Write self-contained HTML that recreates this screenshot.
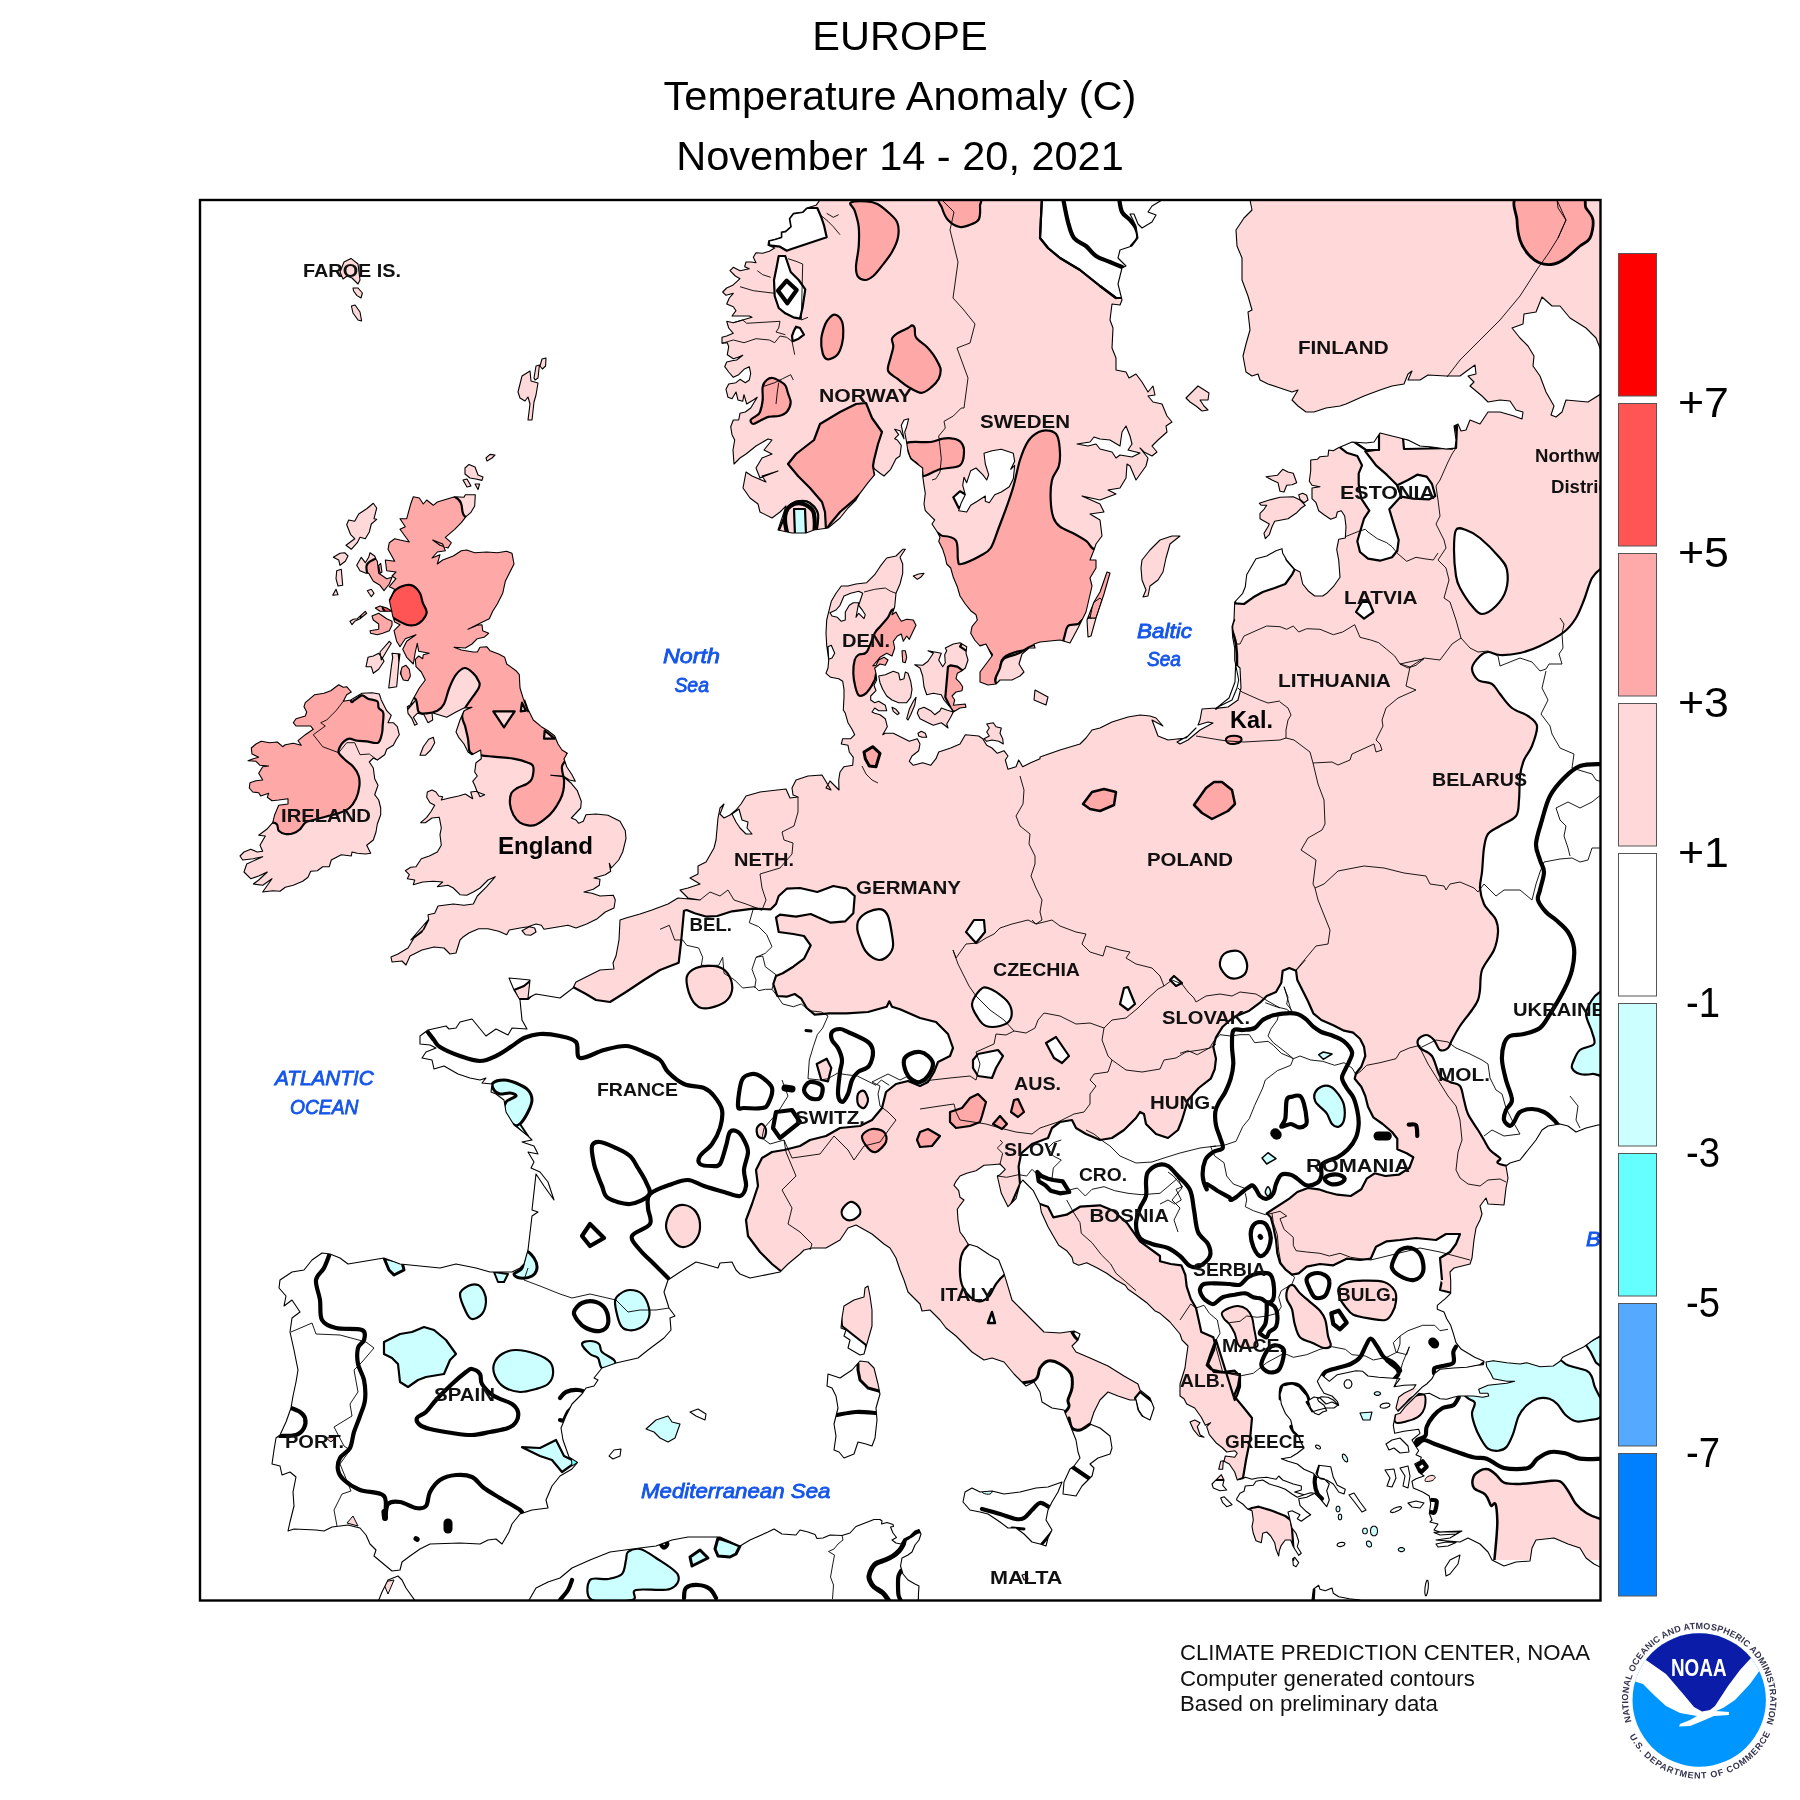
<!DOCTYPE html><html><head><meta charset="utf-8"><title>Europe Temperature Anomaly</title>
<style>html,body{margin:0;padding:0;background:#fff}svg{display:block}html{-webkit-font-smoothing:antialiased}text{font-family:"Liberation Sans",sans-serif}</style></head><body>
<svg width="1800" height="1800" viewBox="0 0 1800 1800" style="will-change:transform;transform:translateZ(0)">
<rect width="1800" height="1800" fill="#fff"/>
<defs>
<clipPath id="frame"><rect x="200" y="200" width="1400" height="1400"/></clipPath>
<clipPath id="land"><path clip-rule="nonzero" d="M413.3 496.7 L419.3 498.0 L423.3 504.0 L426.7 500.0 L433.3 505.3 L437.3 502.0 L454.7 496.7 L464.0 497.3 L465.3 494.7 L475.3 494.7 L474.7 506.0 L470.7 512.7 L466.0 516.7 L461.3 522.7 L454.7 529.3 L445.3 537.3 L451.3 542.7 L448.0 548.0 L440.0 545.3 L432.7 540.0 L442.7 544.0 L445.3 550.7 L437.3 552.0 L432.0 558.0 L440.0 554.7 L437.3 564.0 L442.7 560.0 L453.3 556.0 L461.3 550.7 L466.7 550.0 L474.7 552.7 L486.7 552.0 L497.3 552.7 L506.7 551.3 L512.0 553.3 L514.0 564.0 L509.3 573.3 L505.3 581.3 L502.7 593.3 L497.3 604.0 L492.7 611.3 L489.3 618.7 L480.0 623.3 L468.0 629.3 L477.3 625.3 L482.0 624.7 L482.7 630.7 L488.7 633.3 L484.0 637.3 L477.3 638.7 L472.0 644.0 L465.3 648.0 L454.0 647.3 L461.3 650.0 L473.3 652.0 L477.3 652.0 L480.0 647.3 L486.7 646.7 L490.0 650.7 L498.7 654.0 L504.7 657.3 L506.7 664.0 L516.0 670.7 L519.3 674.7 L520.0 688.0 L523.3 698.7 L528.0 712.0 L524.7 700.0 L528.0 709.3 L533.3 720.0 L541.3 726.7 L548.0 730.7 L554.7 736.0 L558.0 744.0 L562.0 750.0 L567.3 753.3 L564.0 758.7 L566.7 766.7 L572.0 774.7 L575.3 781.3 L569.3 780.0 L563.3 776.0 L550.7 775.3 L563.3 776.7 L570.7 782.7 L577.3 790.7 L581.3 801.3 L580.7 808.0 L571.3 818.0 L576.0 820.0 L578.7 823.3 L583.3 821.3 L586.0 814.7 L596.0 814.0 L608.0 815.3 L620.0 821.3 L625.3 830.7 L626.0 838.7 L622.7 852.0 L618.7 860.0 L611.3 868.0 L609.3 863.3 L610.7 871.3 L605.3 874.7 L594.0 878.0 L600.0 879.3 L599.3 885.3 L593.3 889.3 L584.0 892.0 L592.0 893.3 L600.0 896.0 L613.3 895.3 L615.3 900.0 L614.0 908.0 L605.3 912.0 L597.3 918.7 L586.7 924.0 L576.0 928.0 L568.0 925.3 L544.0 929.3 L541.3 925.3 L536.0 924.0 L528.0 926.7 L520.0 928.0 L509.3 930.0 L506.7 934.7 L498.7 931.3 L488.0 928.7 L478.7 928.7 L469.3 932.7 L462.7 937.3 L460.0 940.0 L460.0 940.0 L456.0 953.0 L450.0 954.0 L444.0 948.0 L434.0 947.0 L422.0 950.0 L410.0 956.0 L406.0 965.0 L402.0 961.0 L392.0 962.0 L391.0 957.0 L398.0 954.0 L408.0 948.0 L414.0 938.0 L422.0 932.0 L428.0 920.0 L410.7 940.0 L417.3 934.7 L424.0 929.3 L428.7 920.0 L428.0 914.7 L434.7 913.3 L438.0 906.0 L453.3 904.0 L464.0 905.3 L473.3 904.0 L477.3 896.0 L486.7 886.7 L495.3 876.7 L488.0 880.0 L480.0 888.0 L473.3 892.0 L466.7 895.3 L460.0 894.7 L453.3 888.0 L448.0 885.3 L437.3 886.7 L442.7 882.0 L433.3 881.3 L422.7 882.0 L413.3 884.7 L414.7 880.0 L407.3 878.7 L409.3 874.7 L405.3 870.7 L410.7 867.3 L416.0 866.7 L421.3 858.7 L429.3 856.0 L437.3 852.0 L441.3 845.3 L440.0 834.7 L441.3 828.0 L439.3 817.3 L432.0 818.0 L425.3 822.7 L420.7 822.7 L426.7 817.3 L430.7 812.0 L434.7 805.3 L430.0 802.7 L426.7 797.3 L427.3 792.0 L432.0 790.0 L436.0 792.0 L438.7 796.0 L442.7 796.7 L441.3 800.0 L449.3 798.0 L458.7 796.0 L465.3 794.0 L472.7 798.7 L470.7 792.0 L477.3 791.3 L480.0 796.7 L484.7 794.7 L477.3 792.0 L474.7 785.3 L472.7 781.3 L477.3 776.0 L474.7 772.0 L476.0 762.7 L481.3 758.7 L480.7 750.0 L472.0 754.7 L468.0 752.0 L464.0 744.0 L458.7 737.3 L456.0 732.0 L460.0 720.0 L464.0 710.7 L472.0 707.3 L464.0 708.0 L456.0 712.0 L446.7 717.3 L438.7 714.7 L432.0 712.7 L432.7 720.0 L428.0 722.7 L424.0 714.7 L417.3 713.3 L413.3 717.3 L417.3 724.0 L414.7 725.3 L412.0 718.7 L408.0 713.3 L407.3 706.7 L413.3 702.7 L416.0 700.0 L408.0 709.3 L413.3 698.7 L419.3 688.0 L425.3 680.0 L421.3 672.0 L416.0 666.7 L415.3 659.3 L418.7 656.0 L422.7 658.7 L423.3 654.7 L429.3 653.3 L418.7 651.3 L417.3 643.3 L415.3 652.0 L413.3 664.0 L406.7 657.3 L402.7 649.3 L406.7 641.3 L416.0 634.7 L405.3 638.7 L400.0 646.7 L396.7 641.3 L394.0 630.7 L400.0 624.7 L394.7 622.0 L392.7 616.0 L389.3 600.0 L394.7 589.3 L389.3 586.7 L396.0 578.7 L392.0 576.0 L396.0 572.0 L386.7 570.7 L385.3 560.0 L394.7 561.3 L388.0 549.3 L389.3 542.7 L394.7 538.7 L400.0 540.0 L409.3 542.0 L400.0 529.3 L405.3 526.7 L400.0 518.7 L406.7 518.7 L410.7 504.0Z M338.7 684.7 L343.3 687.3 L346.7 686.7 L351.3 692.0 L346.7 694.7 L343.3 701.3 L350.7 700.0 L362.0 693.3 L372.0 692.7 L379.3 694.0 L381.3 700.0 L386.7 710.7 L391.3 715.3 L388.0 722.7 L393.3 722.7 L397.3 726.7 L399.3 734.7 L396.0 740.0 L393.3 745.3 L386.7 749.3 L384.7 754.7 L377.3 760.0 L373.3 758.0 L369.3 762.0 L373.3 768.0 L374.7 778.7 L378.0 785.3 L374.7 794.7 L378.7 800.0 L380.7 808.0 L380.7 814.7 L377.3 824.0 L376.0 832.0 L373.3 840.0 L366.7 845.3 L370.7 853.3 L365.3 854.0 L357.3 853.3 L352.0 852.0 L351.3 856.0 L341.3 854.7 L331.3 860.0 L329.3 866.7 L322.7 866.7 L317.3 870.7 L310.7 871.3 L308.0 877.3 L302.7 881.3 L293.3 885.3 L285.3 887.3 L280.0 891.3 L272.7 890.7 L262.7 892.0 L272.0 878.7 L262.7 885.3 L253.3 884.0 L258.7 880.0 L267.3 872.0 L258.7 876.0 L250.7 878.7 L244.0 872.0 L246.7 864.0 L262.7 856.7 L253.3 858.7 L242.7 860.0 L240.0 856.0 L244.0 852.0 L250.7 849.3 L257.3 852.0 L262.7 851.3 L260.0 845.3 L265.3 836.0 L258.7 835.3 L266.7 829.3 L272.7 822.7 L274.7 814.7 L278.7 805.3 L288.0 804.0 L288.0 798.7 L278.7 800.0 L272.0 800.7 L267.3 797.3 L268.7 793.3 L260.7 796.0 L258.7 792.7 L252.7 792.0 L249.3 788.0 L250.0 782.7 L256.0 780.7 L262.7 780.0 L258.7 773.3 L262.7 766.7 L268.7 766.0 L260.0 765.3 L256.0 761.3 L248.0 760.7 L253.3 758.7 L258.7 757.3 L252.0 754.0 L251.3 748.0 L256.0 744.0 L261.3 741.3 L269.3 742.7 L277.3 742.0 L282.7 746.7 L285.3 744.7 L293.3 743.3 L301.3 745.3 L298.0 740.7 L305.3 734.7 L313.3 729.3 L310.7 726.0 L296.0 726.0 L293.3 722.7 L296.0 718.7 L305.3 716.0 L306.7 712.0 L304.0 706.7 L305.3 702.7 L314.7 694.7 L324.0 693.3 L330.7 690.7Z M420.0 755.3 L423.3 746.7 L428.7 739.3 L433.3 737.3 L434.7 742.7 L430.7 750.0 L425.3 755.3Z M522.0 930.7 L529.3 926.7 L534.7 928.0 L536.0 932.0 L530.7 935.3 L525.3 934.7Z M346.7 524.7 L348.7 520.0 L354.7 521.3 L358.7 514.0 L366.7 508.7 L373.3 503.3 L376.7 508.0 L374.0 518.7 L376.7 519.3 L371.3 524.0 L369.3 532.0 L365.3 538.7 L360.0 537.3 L357.3 542.7 L351.3 549.3 L346.0 545.3 L354.7 538.7 L350.7 534.7Z M333.3 557.3 L340.0 553.3 L344.7 552.7 L348.0 556.0 L345.3 561.3 L340.0 565.3 L338.7 560.0Z M336.7 570.7 L341.3 569.3 L342.7 585.3 L338.0 586.0 L336.0 578.7Z M332.7 595.3 L336.0 589.3 L338.0 594.7Z M367.3 590.7 L371.3 589.3 L374.0 593.3 L371.3 596.7Z M356.7 565.3 L361.3 557.3 L365.3 562.7 L368.7 557.3 L370.0 552.7 L374.7 556.0 L376.0 559.3 L377.3 561.3 L378.7 573.3 L386.7 578.7 L392.0 577.3 L389.3 584.0 L384.0 590.7 L380.0 585.3 L373.3 581.3 L368.7 573.3 L366.0 573.3 L360.0 570.7Z M378.7 565.3 L380.7 563.3 L382.0 572.0 L380.0 573.3Z M375.3 608.0 L380.0 606.0 L386.7 608.0 L392.0 611.3 L386.7 611.3 L380.0 611.3Z M372.0 616.0 L378.7 613.3 L386.7 618.7 L392.0 621.3 L392.0 625.3 L389.3 630.7 L382.7 633.3 L377.3 634.7 L370.7 633.3 L370.0 630.7 L378.7 629.3 L378.7 624.0 L373.3 620.0Z M350.0 621.3 L353.3 619.3 L357.3 618.7 L365.3 611.3 L366.7 613.3 L360.0 618.7 L354.7 621.3 L352.0 624.7Z M366.0 666.7 L368.0 657.3 L373.3 656.0 L378.7 653.3 L382.7 658.7 L384.0 661.3 L378.7 669.3 L373.3 673.3 L371.3 666.7Z M380.0 652.0 L389.3 641.3 L391.3 643.3 L385.3 653.3 L381.3 660.0Z M392.0 653.3 L400.0 654.0 L398.7 664.0 L396.7 686.7 L388.7 688.0 L391.3 666.7 L392.7 657.3Z M400.3 673.3 L402.0 667.3 L406.0 665.3 L409.3 669.3 L410.4 676.0 L408.0 680.7 L403.3 680.0Z M465.0 468.0 L469.0 464.4 L475.0 467.0 L478.0 475.0 L483.0 477.0 L482.0 480.4 L476.0 479.0 L470.0 478.0 L465.0 474.0Z M463.0 480.0 L467.0 479.0 L471.0 486.0 L467.0 487.0Z M475.0 484.0 L479.6 484.0 L478.0 489.6Z M486.0 458.0 L490.0 454.4 L495.0 455.0 L492.0 458.0 L487.0 461.0Z M518.0 392.0 L522.0 376.0 L530.0 371.0 L531.0 381.0 L538.0 383.0 L536.0 395.0 L534.0 402.0 L532.0 420.0 L528.0 420.0 L530.0 404.0 L528.0 397.0 L525.0 401.0 L520.0 398.0Z M534.0 378.0 L536.0 366.0 L539.4 365.0 L538.0 378.0 L535.0 380.0Z M540.0 366.0 L542.0 359.0 L546.0 358.0 L545.6 366.0 L542.4 369.0Z M340.0 272.0 L344.0 262.0 L351.0 258.4 L358.0 264.0 L360.0 280.0 L358.0 284.0 L352.0 278.0 L347.0 276.0 L343.0 279.0Z M353.0 288.0 L358.0 288.0 L362.4 293.0 L361.0 298.0 L357.0 295.6 L353.6 291.0Z M351.4 306.0 L355.0 305.0 L360.0 312.0 L361.6 321.0 L358.0 320.0 L353.0 313.0Z M1150.0 550.0 L1160.0 540.0 L1172.0 536.0 L1180.0 536.0 L1170.0 544.0 L1166.0 558.0 L1163.0 572.0 L1158.0 580.0 L1150.0 586.0 L1148.0 596.0 L1143.0 597.0 L1146.0 590.0 L1142.0 580.0 L1141.0 568.0 L1142.0 560.0Z M1088.0 637.0 L1087.0 620.0 L1094.0 602.0 L1100.0 592.0 L1107.0 572.0 L1110.0 573.0 L1104.0 594.0 L1096.0 618.0 L1091.0 636.0Z M1035.0 690.0 L1048.0 697.0 L1046.0 705.0 L1034.0 700.0Z M1186.0 398.0 L1192.0 392.0 L1198.0 386.0 L1209.0 393.0 L1208.0 400.0 L1200.0 400.0 L1204.0 406.0 L1208.0 410.0 L1202.0 411.0 L1196.0 406.0 L1190.0 402.0Z M1259.3 503.3 L1269.3 500.0 L1280.0 497.3 L1293.3 496.7 L1300.0 500.0 L1305.3 505.3 L1301.3 508.0 L1296.0 513.3 L1288.0 518.7 L1274.7 521.3 L1272.0 526.7 L1269.3 534.7 L1265.3 538.7 L1264.0 533.3 L1268.0 526.7 L1269.3 524.0 L1260.0 518.7 L1260.0 513.3 L1264.0 509.3 L1266.7 505.3 L1261.3 505.3Z M1298.7 494.7 L1302.7 493.3 L1306.7 495.3 L1308.0 500.0 L1304.0 502.7 L1300.0 499.3Z M1266.0 476.7 L1277.3 475.3 L1282.7 469.3 L1288.0 472.0 L1293.3 473.3 L1296.7 482.7 L1292.0 484.7 L1286.7 485.3 L1284.0 492.0 L1280.0 491.3 L1278.0 482.7 L1272.0 480.0Z M878.7 676.0 L885.3 674.7 L893.3 671.3 L898.7 673.3 L900.0 680.0 L904.0 678.7 L905.3 672.0 L908.0 673.3 L910.7 681.3 L912.0 689.3 L910.7 697.3 L906.7 702.7 L898.7 702.7 L892.0 700.0 L886.7 696.0 L882.7 689.3 L880.0 682.7Z M914.7 664.7 L922.7 665.3 L928.0 661.3 L933.3 653.3 L928.0 650.7 L934.7 652.0 L941.3 653.3 L938.7 660.0 L942.7 666.7 L945.3 662.7 L944.7 654.7 L946.7 650.7 L945.3 648.0 L953.3 644.0 L960.0 642.7 L966.7 646.7 L966.0 653.3 L968.0 660.0 L965.3 668.0 L962.0 670.7 L957.3 673.3 L956.0 678.7 L960.0 682.7 L962.7 686.7 L962.0 690.7 L956.0 692.0 L952.0 696.0 L954.7 700.0 L953.3 705.3 L965.3 704.0 L966.0 707.3 L960.0 708.0 L953.3 712.0 L950.7 708.0 L944.0 700.0 L941.3 694.7 L933.3 693.3 L926.7 694.7 L924.0 686.7 L922.7 676.0 L920.0 668.0Z M918.7 709.3 L924.0 707.3 L930.7 710.7 L934.7 714.7 L940.0 710.7 L941.3 708.0 L946.7 710.0 L953.3 712.0 L950.7 717.3 L946.7 724.0 L948.0 728.0 L944.7 725.3 L941.3 722.7 L933.3 725.3 L928.0 722.7 L920.0 718.7 L917.3 713.3Z M906.7 718.7 L909.3 709.3 L913.3 701.3 L916.0 697.3 L914.7 705.3 L910.7 714.7 L908.0 720.0Z M892.0 707.3 L896.0 709.3 L899.3 713.3 L897.3 714.7 L893.3 711.3Z M902.0 650.7 L905.3 650.7 L906.7 657.3 L905.3 662.7 L902.7 662.0Z M913.3 576.0 L918.7 574.0 L924.0 573.3 L920.7 577.3 L917.3 579.3Z M918.0 733.3 L921.3 731.3 L925.3 733.3 L926.7 737.3 L922.0 737.3 L918.7 736.0Z M986.7 724.0 L993.3 722.7 L996.0 726.7 L1001.3 728.0 L1000.0 733.3 L1002.7 738.7 L1003.3 744.0 L998.7 741.3 L992.0 740.0 L986.7 741.3 L984.0 738.7 L989.3 736.0 L986.7 732.0 L989.3 728.0Z M1236.7 1498.7 L1240.0 1493.3 L1244.0 1491.3 L1245.3 1486.0 L1253.3 1485.3 L1256.0 1481.3 L1262.7 1480.0 L1269.3 1484.0 L1278.7 1486.7 L1285.3 1489.3 L1292.0 1494.0 L1297.3 1497.3 L1304.0 1494.7 L1310.7 1492.7 L1314.7 1493.3 L1306.7 1497.3 L1298.7 1498.7 L1300.0 1505.3 L1305.3 1510.7 L1310.7 1514.7 L1306.7 1517.3 L1301.3 1521.3 L1297.3 1518.7 L1300.0 1514.7 L1292.0 1510.7 L1288.0 1512.0 L1290.0 1520.0 L1292.0 1528.0 L1296.0 1533.3 L1298.7 1541.3 L1297.3 1546.7 L1301.3 1553.3 L1298.7 1555.3 L1293.3 1546.7 L1290.7 1540.0 L1285.3 1540.0 L1281.3 1545.3 L1279.3 1550.7 L1278.7 1556.0 L1276.0 1549.3 L1274.7 1542.7 L1270.7 1536.0 L1266.7 1532.0 L1262.7 1533.3 L1261.3 1542.7 L1256.0 1540.7 L1253.3 1533.3 L1252.0 1526.7 L1253.3 1520.0 L1252.0 1510.7 L1248.0 1509.3 L1242.7 1504.0 L1236.7 1500.0Z M1190.0 1422.0 L1194.7 1420.0 L1200.0 1422.7 L1197.3 1426.7 L1200.0 1434.7 L1204.0 1437.3 L1198.7 1436.0 L1193.3 1429.3Z M1218.7 1469.3 L1220.7 1461.3 L1223.3 1460.7 L1222.7 1469.3Z M1212.0 1484.0 L1217.3 1478.7 L1221.3 1474.7 L1224.0 1480.0 L1222.7 1485.3 L1226.7 1490.0 L1220.0 1490.7 L1213.3 1488.0Z M1220.7 1498.0 L1224.0 1496.7 L1232.0 1504.7 L1226.7 1506.7 L1222.7 1502.7Z M1292.7 1558.7 L1294.7 1557.3 L1298.7 1562.7 L1296.0 1566.7 L1293.3 1565.3Z M1318.7 1465.3 L1330.7 1466.7 L1333.3 1477.3 L1337.3 1485.3 L1345.3 1489.3 L1344.0 1494.0 L1338.7 1492.0 L1333.3 1484.0 L1326.7 1480.0 L1320.0 1478.7 L1316.0 1473.3Z M1312.0 1600.0 L1313.3 1589.3 L1318.7 1585.3 L1320.0 1589.3 L1325.3 1590.7 L1332.0 1588.0 L1333.3 1593.3 L1338.7 1596.7 L1349.3 1598.7 L1360.0 1600.0 L1360.0 1613.3 L1312.0 1613.3Z M842.0 1318.0 L844.0 1306.0 L854.0 1300.0 L864.0 1297.0 L865.0 1288.0 L868.0 1286.0 L870.0 1296.0 L872.0 1310.0 L872.0 1326.0 L868.0 1340.0 L864.0 1354.0 L860.0 1355.0 L848.0 1348.0 L850.0 1340.0 L844.0 1336.0 L846.0 1330.0 L841.0 1328.0Z M828.0 1374.0 L840.0 1378.0 L852.0 1370.0 L860.0 1361.0 L868.0 1362.0 L874.0 1368.0 L878.0 1384.0 L880.0 1394.0 L876.0 1408.0 L877.0 1420.0 L875.0 1438.0 L872.0 1446.0 L866.0 1444.0 L858.0 1442.0 L854.0 1454.0 L844.0 1458.0 L839.0 1452.0 L834.0 1450.0 L836.0 1436.0 L834.0 1424.0 L838.0 1408.0 L836.0 1396.0 L832.0 1388.0 L827.0 1386.0Z M963.0 1502.0 L965.0 1492.0 L972.0 1488.0 L980.0 1492.0 L992.0 1491.0 L1004.0 1494.0 L1020.0 1492.0 L1036.0 1488.0 L1048.0 1487.0 L1062.0 1482.0 L1058.0 1492.0 L1052.0 1502.0 L1048.0 1510.0 L1046.0 1520.0 L1052.0 1530.0 L1048.0 1538.0 L1046.0 1546.0 L1040.0 1544.0 L1032.0 1542.0 L1024.0 1534.0 L1016.0 1528.0 L1008.0 1528.0 L1000.0 1522.0 L988.0 1514.0 L980.0 1512.0 L970.0 1510.0Z M646.0 1429.0 L656.0 1420.0 L668.0 1416.0 L672.0 1422.0 L680.0 1424.0 L675.0 1438.0 L668.0 1442.0 L660.0 1438.0 L654.0 1432.0Z M690.0 1412.0 L698.0 1409.0 L706.0 1414.0 L705.0 1420.0 L696.0 1416.0Z M609.0 1456.0 L614.0 1450.0 L621.0 1449.0 L620.0 1456.0 L613.0 1459.0Z M1022.0 1575.0 L1026.0 1574.0 L1028.0 1579.0 L1024.0 1580.0Z M378.0 1602.0 L382.0 1592.0 L388.0 1580.0 L398.0 1576.0 L402.0 1580.0 L406.0 1588.0 L416.0 1602.0Z M528.0 1602.0 L536.0 1588.0 L548.0 1582.0 L560.0 1578.0 L572.0 1568.0 L590.0 1560.0 L610.0 1552.0 L640.0 1548.0 L656.0 1546.0 L672.0 1540.0 L688.0 1537.0 L720.0 1537.0 L740.0 1546.0 L750.0 1540.0 L768.0 1532.0 L774.0 1529.0 L782.0 1534.0 L796.0 1535.0 L800.0 1530.0 L808.0 1532.0 L815.0 1534.5 L817.0 1538.5 L823.0 1538.0 L830.0 1535.0 L842.0 1535.5 L850.0 1533.0 L856.0 1526.5 L865.0 1523.0 L874.0 1519.5 L880.0 1519.5 L882.0 1521.0 L881.5 1524.0 L887.0 1522.5 L893.0 1524.5 L893.5 1526.5 L890.5 1527.0 L893.0 1533.0 L896.5 1537.5 L892.0 1540.0 L896.0 1543.0 L901.0 1544.0 L904.0 1539.0 L910.0 1536.0 L915.0 1531.0 L919.0 1529.5 L921.0 1534.0 L919.0 1540.0 L915.0 1545.0 L912.0 1552.0 L908.0 1555.0 L902.0 1558.0 L900.5 1566.0 L903.0 1574.0 L908.0 1580.0 L915.0 1584.0 L919.0 1586.0 L918.5 1593.0 L918.0 1610.0 L528.0 1604.0Z M1352.0 1384.0 L1351.2 1386.6 L1349.2 1388.2 L1346.8 1388.2 L1344.8 1386.6 L1344.0 1384.0 L1344.8 1381.4 L1346.8 1379.8 L1349.2 1379.8 L1351.2 1381.4Z M1390.0 1404.6 L1389.4 1406.2 L1387.0 1407.6 L1383.8 1408.2 L1381.2 1407.8 L1380.0 1406.6 L1380.6 1405.0 L1383.0 1403.6 L1386.2 1403.0 L1388.8 1403.4Z M1360.0 1413.0 L1372.0 1412.0 L1370.0 1420.0 L1363.0 1420.0Z M1386.0 1444.0 L1392.0 1440.0 L1400.0 1438.0 L1408.0 1446.0 L1409.0 1452.0 L1400.0 1453.0 L1394.0 1448.0 L1389.0 1450.0Z M1408.0 1503.0 L1416.0 1501.0 L1424.0 1503.0 L1420.0 1508.0 L1412.0 1507.0Z M1385.0 1470.0 L1394.0 1469.0 L1396.0 1478.0 L1392.0 1487.0 L1387.0 1486.0 L1390.0 1478.0Z M1400.0 1468.0 L1408.0 1466.0 L1410.0 1476.0 L1408.0 1488.0 L1403.0 1486.0 L1405.0 1476.0Z M1349.0 1495.0 L1354.0 1493.0 L1360.0 1502.0 L1366.0 1510.0 L1362.0 1512.0 L1356.0 1504.0Z M1340.0 1509.0 L1339.6 1510.8 L1338.6 1511.8 L1337.4 1511.8 L1336.4 1510.8 L1336.0 1509.0 L1336.4 1507.2 L1337.4 1506.2 L1338.6 1506.2 L1339.6 1507.2Z M1341.8 1517.0 L1341.4 1518.8 L1340.6 1519.8 L1339.4 1519.8 L1338.6 1518.8 L1338.2 1517.0 L1338.6 1515.2 L1339.4 1514.2 L1340.6 1514.2 L1341.4 1515.2Z M1367.4 1531.0 L1367.0 1532.8 L1365.8 1533.8 L1364.2 1533.8 L1363.0 1532.8 L1362.6 1531.0 L1363.0 1529.2 L1364.2 1528.2 L1365.8 1528.2 L1367.0 1529.2Z M1377.6 1531.0 L1377.0 1534.0 L1375.2 1535.8 L1372.8 1535.8 L1371.0 1534.0 L1370.4 1531.0 L1371.0 1528.0 L1372.8 1526.2 L1375.2 1526.2 L1377.0 1528.0Z M1345.0 1543.6 L1344.4 1545.0 L1342.6 1546.0 L1340.2 1546.6 L1338.0 1546.2 L1337.0 1545.2 L1337.6 1543.8 L1339.4 1542.8 L1341.8 1542.2 L1344.0 1542.6Z M1371.2 1542.8 L1371.6 1544.8 L1371.2 1546.4 L1369.8 1547.0 L1368.2 1546.6 L1366.8 1545.2 L1366.4 1543.2 L1366.8 1541.6 L1368.2 1541.0 L1369.8 1541.4Z M1404.6 1549.6 L1404.0 1550.8 L1402.4 1551.6 L1400.4 1551.6 L1398.8 1550.8 L1398.2 1549.6 L1398.8 1548.4 L1400.4 1547.6 L1402.4 1547.6 L1404.0 1548.4Z M1401.6 1507.2 L1401.0 1508.8 L1398.4 1510.6 L1395.0 1512.0 L1392.0 1512.6 L1390.4 1512.0 L1391.0 1510.4 L1393.6 1508.6 L1397.0 1507.2 L1400.0 1506.6Z M1445.0 1568.0 L1450.0 1560.0 L1460.0 1555.0 L1458.0 1564.0 L1450.0 1574.0 L1446.0 1576.0Z M1428.2 1588.2 L1427.4 1592.8 L1426.4 1595.6 L1425.4 1595.6 L1424.8 1592.6 L1425.0 1587.8 L1425.8 1583.2 L1426.8 1580.4 L1427.8 1580.4 L1428.4 1583.4Z M1434.0 1532.4 L1448.0 1531.6 L1462.0 1531.0 L1456.0 1534.0 L1440.0 1535.0Z M1436.0 1544.0 L1446.0 1542.0 L1456.0 1542.4 L1448.0 1546.0 L1438.0 1547.0Z M1380.6 1393.6 L1380.0 1394.6 L1378.4 1395.4 L1376.4 1395.4 L1374.8 1394.6 L1374.2 1393.6 L1374.8 1392.6 L1376.4 1391.8 L1378.4 1391.8 L1380.0 1392.6Z M1346.8 1457.0 L1347.6 1459.4 L1347.6 1461.4 L1346.4 1462.0 L1344.8 1461.0 L1343.2 1459.0 L1342.4 1456.6 L1342.4 1454.6 L1343.6 1454.0 L1345.2 1455.0Z M1320.4 1448.4 L1319.6 1449.0 L1318.0 1448.8 L1316.6 1448.0 L1315.6 1446.8 L1315.6 1445.6 L1316.4 1445.0 L1318.0 1445.2 L1319.4 1446.0 L1320.4 1447.2Z M1306.0 1402.0 L1314.0 1397.0 L1320.0 1398.0 L1326.0 1404.0 L1332.0 1402.0 L1338.0 1405.0 L1334.0 1408.0 L1326.0 1408.0 L1318.0 1410.0 L1312.0 1412.0Z M820.0 200.0 L816.0 205.3 L806.7 208.0 L802.7 212.0 L793.3 213.3 L789.3 218.7 L790.7 226.7 L785.3 231.3 L781.3 232.0 L781.3 237.3 L774.7 239.3 L768.7 240.7 L768.0 245.3 L774.7 248.0 L769.3 251.3 L762.7 253.3 L756.0 252.7 L753.3 257.3 L756.0 262.7 L751.3 262.0 L746.0 262.0 L744.7 266.7 L749.3 268.7 L740.0 270.7 L733.3 267.3 L730.0 270.7 L735.3 276.0 L740.0 278.7 L732.7 285.3 L726.7 288.0 L722.7 292.0 L726.0 295.3 L733.3 293.3 L729.3 298.0 L726.7 304.0 L733.3 306.7 L736.0 310.7 L732.0 316.0 L749.3 316.0 L752.0 317.3 L733.3 322.7 L726.7 321.3 L728.7 328.0 L733.3 333.3 L726.7 336.0 L722.0 337.3 L722.0 343.3 L727.3 342.7 L728.7 346.7 L727.3 354.7 L733.3 358.7 L738.0 357.3 L742.7 355.3 L736.7 360.0 L732.0 360.7 L726.7 362.0 L724.7 366.7 L728.7 372.0 L733.3 377.3 L738.7 374.7 L744.0 369.3 L749.3 366.7 L750.7 373.3 L749.3 380.0 L745.3 382.7 L740.0 379.3 L736.0 382.7 L728.7 384.0 L726.0 389.3 L728.0 397.3 L732.0 398.7 L736.0 392.0 L738.0 400.0 L742.7 401.3 L744.0 394.7 L746.7 404.0 L753.3 400.0 L757.3 397.3 L750.7 408.0 L745.3 412.0 L740.0 413.3 L738.7 420.0 L733.3 420.0 L730.7 426.7 L732.0 434.7 L734.7 440.0 L733.0 450.0 L734.0 464.0 L740.0 458.0 L746.0 454.0 L756.0 446.0 L768.0 439.0 L772.0 440.0 L764.0 450.0 L772.0 454.0 L762.0 458.0 L756.0 468.0 L760.0 478.0 L778.0 471.0 L762.0 476.0 L766.0 482.0 L752.0 476.0 L746.0 472.0 L743.0 488.0 L750.0 498.0 L758.0 504.0 L760.0 512.0 L772.0 518.0 L780.0 512.0 L786.0 506.0 L780.0 524.0 L778.0 530.0 L792.0 533.0 L806.0 533.0 L814.0 530.0 L828.0 528.0 L840.0 518.0 L848.0 508.0 L856.0 500.0 L860.0 493.3 L868.0 482.7 L874.7 474.7 L873.3 468.0 L880.0 473.3 L884.0 476.0 L890.7 469.3 L896.0 458.7 L900.0 456.0 L901.3 445.3 L897.3 440.0 L894.7 438.7 L898.7 434.7 L894.7 429.3 L900.0 430.7 L904.0 438.7 L901.3 425.3 L904.0 420.0 L908.7 418.7 L906.7 426.7 L904.7 432.0 L906.7 442.7 L908.0 452.0 L910.7 458.7 L917.3 464.0 L922.7 468.0 L922.7 476.0 L924.0 485.3 L925.3 493.3 L924.0 504.0 L925.3 510.7 L932.0 517.3 L934.7 520.0 L932.0 524.0 L937.3 532.0 L940.0 537.3 L938.7 541.3 L942.7 549.3 L945.3 557.3 L946.7 564.0 L950.7 568.0 L953.3 577.3 L957.3 586.7 L960.0 596.0 L965.3 604.0 L970.7 610.7 L976.0 614.7 L977.3 620.0 L972.0 626.7 L970.7 633.3 L974.7 640.0 L980.0 646.0 L986.0 644.0 L992.0 656.0 L980.0 672.0 L980.0 682.0 L988.0 685.0 L996.0 684.0 L1000.0 680.0 L1012.0 680.0 L1020.0 676.0 L1024.0 672.0 L1019.0 664.0 L1022.0 654.0 L1029.0 648.0 L1035.0 648.0 L1034.0 644.0 L1040.0 642.0 L1060.0 640.0 L1070.0 643.0 L1078.0 628.0 L1086.0 612.0 L1092.0 586.0 L1090.0 578.0 L1096.0 568.0 L1096.0 560.0 L1090.0 560.0 L1094.0 550.0 L1096.0 544.0 L1102.0 536.0 L1100.0 520.0 L1090.0 514.0 L1104.0 512.0 L1100.0 504.0 L1082.0 496.0 L1100.0 500.0 L1116.0 494.0 L1108.0 490.0 L1120.0 488.0 L1126.0 478.0 L1127.0 464.0 L1130.0 466.0 L1136.0 480.0 L1146.0 466.0 L1148.0 458.0 L1140.0 448.0 L1144.0 452.0 L1152.0 456.0 L1157.0 452.0 L1152.0 446.0 L1158.0 440.0 L1167.0 432.0 L1166.0 426.0 L1172.0 422.0 L1167.0 416.0 L1162.0 404.0 L1153.0 402.0 L1148.0 396.0 L1155.0 395.0 L1153.0 386.0 L1148.0 392.0 L1142.0 382.0 L1136.0 374.0 L1129.0 378.0 L1126.0 372.0 L1116.0 370.0 L1116.0 358.0 L1112.0 348.0 L1113.0 328.0 L1110.0 320.0 L1112.0 304.0 L1120.0 305.0 L1122.0 300.0 L1118.0 284.0 L1122.0 268.0 L1126.0 266.0 L1118.0 258.0 L1120.0 250.0 L1132.0 246.0 L1138.0 238.0 L1136.0 226.0 L1130.0 214.0 L1134.0 214.0 L1138.0 224.0 L1142.0 228.0 L1152.0 222.0 L1156.0 215.0 L1148.0 212.0 L1152.0 206.0 L1162.0 200.0 L1162.0 190.0 L860.0 190.0Z M1250.0 200.0 L1252.0 210.0 L1244.0 218.0 L1236.0 230.0 L1237.0 246.0 L1242.0 258.0 L1242.0 280.0 L1248.0 296.0 L1252.0 310.0 L1248.0 312.0 L1250.0 330.0 L1246.0 344.0 L1243.0 356.0 L1246.0 372.0 L1252.0 376.0 L1258.0 374.0 L1260.0 380.0 L1268.0 384.0 L1280.0 388.0 L1292.0 392.0 L1298.0 390.0 L1292.0 400.0 L1298.0 406.0 L1306.0 412.0 L1314.0 412.0 L1326.0 408.0 L1340.0 406.0 L1346.0 404.0 L1364.0 396.0 L1380.0 390.0 L1392.0 386.0 L1404.0 384.0 L1408.0 374.0 L1412.0 371.0 L1408.0 380.0 L1420.0 380.0 L1428.0 375.0 L1446.0 376.0 L1460.0 376.0 L1468.0 370.0 L1475.0 365.0 L1476.0 374.0 L1468.0 376.0 L1474.0 382.0 L1470.0 386.0 L1482.0 396.0 L1488.0 402.0 L1500.0 400.0 L1510.0 401.0 L1516.0 410.0 L1523.0 412.0 L1522.0 419.0 L1514.0 416.0 L1500.0 412.0 L1488.0 412.0 L1480.0 424.0 L1470.0 420.0 L1466.0 430.0 L1461.0 431.0 L1458.0 424.0 L1454.0 426.0 L1456.0 440.0 L1455.0 448.0 L1446.0 449.0 L1432.0 447.0 L1420.0 446.0 L1408.0 440.0 L1392.0 436.0 L1380.0 433.0 L1374.0 442.0 L1366.0 443.0 L1352.0 442.0 L1338.0 448.0 L1333.3 450.7 L1328.7 450.0 L1328.0 456.0 L1320.0 456.7 L1317.3 459.3 L1310.7 460.0 L1310.7 470.7 L1309.3 481.3 L1312.0 485.3 L1320.0 486.7 L1312.0 488.0 L1312.0 498.7 L1316.0 502.7 L1318.7 510.7 L1324.0 514.7 L1330.7 519.3 L1336.0 517.3 L1337.3 512.0 L1341.3 510.7 L1344.7 516.0 L1346.0 526.7 L1345.3 538.0 L1338.7 539.3 L1336.7 549.3 L1338.7 560.0 L1340.0 577.3 L1333.3 586.7 L1326.7 593.3 L1322.7 596.0 L1314.7 596.0 L1308.0 590.7 L1302.7 584.0 L1300.0 572.0 L1294.7 569.3 L1286.7 560.0 L1282.7 553.3 L1282.0 548.7 L1276.0 550.7 L1266.7 556.0 L1256.0 558.7 L1246.7 574.7 L1245.3 586.7 L1242.7 593.3 L1234.7 602.0 L1234.0 620.0 L1232.0 626.7 L1232.7 637.3 L1234.7 648.0 L1234.7 660.0 L1238.7 680.0 L1237.0 688.0 L1232.0 700.0 L1216.0 708.0 L1202.0 709.0 L1200.0 720.0 L1198.0 725.0 L1208.0 722.0 L1213.0 723.0 L1200.0 730.0 L1188.0 740.0 L1180.0 744.0 L1177.0 742.0 L1188.0 736.0 L1196.0 728.0 L1186.0 738.0 L1168.0 740.0 L1158.0 736.0 L1152.0 720.0 L1163.0 726.0 L1156.0 718.0 L1150.0 716.0 L1140.0 715.0 L1128.0 717.0 L1112.0 722.0 L1100.0 728.0 L1092.0 730.0 L1086.0 738.0 L1080.0 744.0 L1060.0 750.0 L1040.0 757.0 L1040.0 758.7 L1030.7 762.7 L1022.7 766.7 L1018.7 760.0 L1016.0 766.7 L1008.0 769.3 L1005.3 760.0 L1008.0 756.0 L1004.0 750.7 L997.3 753.3 L992.0 748.0 L986.7 745.3 L982.7 738.7 L978.7 736.0 L965.3 734.7 L960.0 744.0 L950.7 748.0 L938.7 752.0 L936.0 758.7 L930.7 765.3 L922.7 762.7 L913.3 765.3 L909.3 761.3 L912.0 756.0 L918.7 750.7 L920.0 744.0 L917.3 738.7 L909.3 741.3 L901.3 737.3 L893.3 733.3 L885.3 733.3 L882.7 734.7 L887.3 726.7 L885.3 718.7 L880.0 714.7 L874.7 713.3 L872.0 712.0 L874.7 708.0 L878.7 710.7 L886.7 710.7 L885.3 705.3 L878.7 701.3 L874.7 702.7 L870.7 700.0 L870.7 696.0 L876.0 690.7 L874.0 685.3 L876.7 680.0 L876.0 673.3 L874.7 668.0 L880.0 664.0 L885.3 665.3 L888.0 660.0 L884.0 657.3 L878.7 660.0 L876.0 665.3 L872.7 666.0 L880.0 657.3 L886.7 653.3 L892.0 656.0 L894.7 648.0 L893.3 641.3 L897.3 636.0 L901.3 634.0 L903.3 641.3 L906.7 636.0 L909.3 639.3 L913.3 630.7 L916.0 625.3 L913.3 620.0 L906.7 619.3 L901.3 621.3 L898.7 617.3 L896.0 612.0 L892.0 614.7 L894.7 606.7 L896.0 593.3 L900.0 584.0 L902.7 573.3 L902.7 564.0 L900.0 557.3 L905.3 549.3 L902.7 549.3 L896.0 556.0 L886.7 558.0 L880.0 566.7 L874.7 574.7 L866.7 582.7 L856.0 584.0 L848.0 586.0 L841.3 586.0 L836.0 593.3 L831.3 601.3 L829.3 609.3 L826.7 620.0 L826.0 633.3 L826.7 645.3 L828.7 660.0 L828.0 668.0 L826.0 673.3 L830.7 677.3 L838.7 678.7 L842.7 681.3 L844.0 689.3 L844.0 697.3 L843.3 710.0 L845.3 713.3 L848.0 722.7 L852.0 729.3 L854.7 734.7 L850.7 738.7 L842.7 738.7 L841.3 744.0 L848.0 745.3 L849.3 752.0 L853.3 757.3 L852.7 765.3 L844.0 766.7 L840.0 772.0 L838.7 780.0 L839.0 790.0 L830.0 781.0 L826.0 788.0 L831.0 790.0 L822.0 775.0 L808.0 776.0 L796.0 780.0 L792.0 788.0 L793.0 795.0 L798.0 797.0 L790.0 798.0 L786.0 789.0 L760.0 792.0 L746.0 796.0 L741.0 804.0 L736.0 810.0 L730.0 815.0 L724.0 818.0 L720.0 814.0 L724.0 804.0 L720.0 808.0 L718.0 818.0 L716.0 840.0 L714.0 848.0 L706.0 862.0 L698.0 866.0 L698.0 874.0 L690.0 878.0 L700.0 884.0 L688.0 888.0 L680.0 890.0 L688.0 898.0 L700.0 900.0 L678.0 898.0 L668.0 904.0 L652.0 910.0 L640.0 914.0 L626.0 918.0 L620.0 920.0 L619.0 940.0 L616.0 956.0 L613.0 963.0 L614.0 969.0 L600.0 970.0 L586.0 977.0 L576.0 982.0 L573.0 988.0 L560.0 998.0 L548.0 996.0 L536.0 994.0 L528.0 998.0 L530.0 980.0 L520.0 979.0 L509.0 978.0 L514.0 990.0 L520.0 1000.0 L522.0 1020.0 L527.0 1029.0 L512.0 1028.0 L508.0 1035.0 L496.0 1029.0 L486.0 1036.0 L472.0 1019.0 L460.0 1022.0 L456.0 1028.0 L449.0 1029.0 L446.0 1026.0 L428.0 1030.0 L420.0 1036.0 L420.0 1044.0 L430.0 1045.0 L436.0 1048.0 L426.0 1052.0 L422.0 1058.0 L432.0 1060.0 L434.0 1069.0 L444.0 1066.0 L458.0 1074.0 L470.0 1078.0 L480.0 1080.0 L486.0 1078.0 L482.0 1083.0 L492.0 1084.0 L491.0 1092.0 L496.0 1094.0 L504.0 1100.0 L506.0 1112.0 L514.0 1125.0 L518.0 1128.0 L528.0 1136.0 L532.0 1140.0 L522.0 1142.0 L534.0 1146.0 L538.0 1154.0 L528.0 1152.0 L534.0 1162.0 L531.0 1168.0 L540.0 1172.0 L548.0 1182.0 L554.0 1200.0 L544.0 1186.0 L536.0 1174.0 L532.0 1210.0 L538.0 1212.0 L532.0 1216.0 L528.0 1250.0 L524.0 1264.0 L520.0 1268.0 L512.0 1272.0 L490.0 1272.0 L476.0 1268.0 L456.0 1264.0 L440.0 1268.0 L420.0 1266.0 L400.0 1264.0 L384.0 1258.0 L360.0 1262.0 L348.0 1264.0 L340.0 1258.0 L330.0 1254.0 L322.0 1253.0 L312.0 1260.0 L304.0 1270.0 L292.0 1272.0 L280.0 1280.0 L279.0 1288.0 L286.0 1296.0 L284.0 1306.0 L292.0 1300.0 L300.0 1312.0 L292.0 1318.0 L290.0 1332.0 L294.0 1350.0 L298.0 1370.0 L296.0 1382.0 L293.0 1396.0 L291.0 1408.0 L286.0 1422.0 L280.0 1435.0 L276.0 1438.0 L274.0 1450.0 L272.0 1464.0 L280.0 1466.0 L282.0 1475.0 L290.0 1472.0 L296.0 1477.0 L293.0 1492.0 L294.0 1506.0 L290.0 1522.0 L288.0 1531.0 L294.0 1529.0 L316.0 1530.0 L324.0 1531.0 L332.0 1527.0 L348.0 1525.0 L360.0 1528.0 L366.0 1535.0 L370.0 1544.0 L376.0 1550.0 L374.0 1556.0 L386.0 1566.0 L392.0 1571.0 L400.0 1570.0 L402.0 1562.0 L410.0 1556.0 L420.0 1549.0 L430.0 1544.0 L460.0 1543.0 L480.0 1544.0 L488.0 1540.0 L496.0 1539.0 L502.0 1544.0 L509.0 1532.0 L512.0 1524.0 L520.0 1514.0 L532.0 1510.0 L548.0 1508.0 L546.0 1500.0 L552.0 1486.0 L560.0 1476.0 L572.0 1469.0 L577.6 1462.4 L569.0 1457.0 L563.0 1440.0 L561.0 1428.0 L566.0 1416.0 L572.0 1404.0 L582.0 1394.0 L586.0 1388.0 L594.0 1386.0 L598.0 1380.0 L594.0 1378.0 L602.0 1368.0 L616.0 1363.0 L638.0 1358.0 L648.0 1350.0 L664.0 1338.0 L671.0 1330.0 L670.0 1318.0 L675.0 1316.0 L669.0 1308.0 L664.0 1292.0 L668.0 1280.0 L671.0 1278.0 L680.0 1272.0 L696.0 1262.0 L704.0 1264.0 L718.0 1268.0 L720.0 1263.0 L732.0 1262.0 L736.0 1270.0 L740.0 1274.0 L750.0 1278.0 L760.0 1276.0 L780.0 1272.0 L788.0 1264.0 L800.0 1254.0 L804.0 1250.0 L812.0 1248.0 L826.0 1248.0 L840.0 1240.0 L848.0 1228.0 L856.0 1225.0 L872.0 1234.0 L884.0 1244.0 L890.0 1248.0 L896.0 1258.0 L900.0 1270.0 L904.0 1280.0 L908.0 1292.0 L916.0 1300.0 L920.0 1304.0 L922.0 1311.0 L930.0 1310.0 L940.0 1320.0 L946.0 1328.0 L956.0 1336.0 L964.0 1344.0 L972.0 1352.0 L984.0 1360.0 L992.0 1358.0 L1004.0 1362.0 L1014.0 1374.0 L1018.0 1378.0 L1026.0 1386.0 L1034.0 1382.0 L1040.0 1392.0 L1042.0 1402.0 L1052.0 1408.0 L1064.0 1410.0 L1068.0 1420.0 L1072.0 1430.0 L1076.0 1440.0 L1078.0 1452.0 L1080.0 1458.0 L1074.0 1466.0 L1070.0 1469.0 L1064.0 1482.0 L1063.0 1494.0 L1076.0 1496.0 L1082.0 1486.0 L1092.0 1476.0 L1094.0 1468.0 L1090.0 1464.0 L1098.0 1458.0 L1110.0 1454.0 L1112.0 1448.0 L1110.0 1436.0 L1100.0 1428.0 L1090.0 1424.0 L1094.0 1412.0 L1100.0 1400.0 L1108.0 1392.0 L1118.0 1396.0 L1130.0 1400.0 L1136.0 1400.0 L1138.0 1410.0 L1142.0 1416.0 L1150.0 1420.0 L1154.0 1408.0 L1150.0 1398.0 L1140.0 1390.0 L1138.0 1384.0 L1124.0 1376.0 L1108.0 1366.0 L1090.0 1358.0 L1076.0 1352.0 L1072.0 1346.0 L1078.0 1340.0 L1080.0 1334.0 L1074.0 1331.0 L1060.0 1333.0 L1044.0 1332.0 L1040.0 1328.0 L1032.0 1320.0 L1020.0 1308.0 L1012.0 1300.0 L1008.0 1286.7 L1004.0 1273.3 L998.7 1260.0 L989.3 1254.7 L977.3 1246.7 L968.0 1244.0 L964.0 1237.3 L960.0 1232.0 L958.0 1220.0 L957.3 1209.3 L960.0 1205.3 L964.0 1200.0 L960.0 1197.3 L958.7 1190.7 L954.0 1185.3 L956.0 1181.3 L960.0 1176.0 L966.7 1173.3 L976.0 1170.7 L984.0 1165.3 L992.0 1164.7 L1000.0 1164.0 L1005.3 1169.3 L1000.0 1174.7 L997.3 1176.0 L1001.3 1193.3 L1008.0 1206.7 L1016.0 1198.7 L1020.0 1184.0 L1022.7 1180.0 L1026.7 1184.0 L1033.3 1190.7 L1040.0 1204.0 L1041.3 1212.0 L1048.0 1226.7 L1053.3 1236.0 L1058.7 1245.3 L1066.7 1250.7 L1072.0 1257.3 L1073.3 1262.7 L1078.7 1265.3 L1086.7 1262.7 L1097.3 1268.0 L1106.7 1273.3 L1116.0 1280.0 L1125.3 1285.3 L1128.0 1289.3 L1136.0 1294.7 L1146.7 1302.7 L1154.7 1310.7 L1160.0 1313.3 L1170.0 1322.0 L1180.0 1334.0 L1182.0 1340.0 L1188.0 1346.0 L1186.0 1360.0 L1185.0 1368.0 L1180.0 1384.0 L1180.0 1396.0 L1184.0 1398.7 L1186.7 1404.0 L1194.7 1408.0 L1201.3 1417.3 L1205.3 1425.3 L1210.7 1422.7 L1206.7 1426.7 L1209.3 1434.7 L1216.0 1442.7 L1222.7 1448.0 L1226.7 1452.0 L1234.7 1450.7 L1237.3 1453.3 L1234.7 1457.3 L1225.3 1456.0 L1224.0 1461.3 L1229.3 1464.0 L1234.7 1472.0 L1237.3 1480.0 L1242.7 1478.7 L1245.3 1477.3 L1252.0 1479.3 L1257.3 1478.0 L1266.7 1477.3 L1276.0 1479.3 L1278.7 1476.0 L1282.7 1480.0 L1293.3 1484.0 L1301.3 1486.0 L1301.3 1490.0 L1294.7 1492.0 L1304.0 1494.7 L1310.7 1492.7 L1314.7 1493.3 L1320.0 1498.7 L1326.7 1506.7 L1329.3 1500.0 L1326.7 1490.7 L1329.3 1484.0 L1324.0 1478.7 L1317.3 1477.3 L1313.3 1473.3 L1304.0 1469.3 L1297.3 1464.0 L1288.0 1461.3 L1281.3 1458.7 L1290.7 1457.3 L1297.3 1453.3 L1304.0 1448.0 L1301.3 1442.7 L1298.7 1436.0 L1293.3 1430.7 L1290.7 1420.0 L1285.3 1413.3 L1281.3 1404.0 L1280.0 1394.7 L1282.7 1386.0 L1292.0 1384.0 L1298.7 1386.7 L1306.7 1396.0 L1308.0 1400.0 L1310.7 1408.0 L1314.7 1413.3 L1318.7 1414.7 L1322.7 1412.0 L1326.7 1410.7 L1324.0 1405.3 L1318.7 1401.3 L1317.3 1398.7 L1321.3 1396.7 L1328.0 1397.3 L1333.3 1400.0 L1338.7 1405.3 L1337.3 1401.3 L1332.0 1396.0 L1324.0 1393.3 L1320.0 1386.7 L1317.3 1381.3 L1321.3 1374.7 L1329.3 1381.3 L1337.3 1374.7 L1346.7 1372.7 L1356.0 1370.7 L1362.7 1371.3 L1368.0 1376.0 L1378.7 1377.3 L1389.3 1378.0 L1400.0 1378.7 L1394.0 1386.7 L1404.0 1385.3 L1416.0 1384.7 L1413.3 1388.7 L1404.0 1393.3 L1398.7 1397.3 L1396.0 1408.0 L1398.0 1411.3 L1404.0 1405.3 L1410.7 1398.7 L1417.3 1392.0 L1422.7 1386.7 L1426.7 1384.0 L1432.0 1378.7 L1434.7 1373.3 L1440.0 1369.3 L1453.3 1368.0 L1466.7 1367.3 L1477.3 1365.3 L1483.3 1364.7 L1484.0 1361.3 L1474.7 1357.3 L1461.3 1349.3 L1456.0 1342.7 L1453.3 1333.3 L1450.7 1325.3 L1446.7 1318.7 L1444.0 1312.0 L1437.3 1309.3 L1437.3 1305.3 L1445.3 1298.7 L1450.7 1293.3 L1450.7 1280.0 L1450.0 1272.0 L1454.0 1268.0 L1470.0 1264.0 L1472.0 1258.0 L1474.0 1240.0 L1476.0 1228.0 L1480.0 1220.0 L1482.0 1214.0 L1480.0 1206.0 L1486.0 1198.0 L1488.0 1204.0 L1504.0 1205.0 L1506.0 1188.0 L1508.0 1178.0 L1506.0 1166.0 L1510.0 1163.0 L1520.0 1160.0 L1528.0 1150.0 L1536.0 1140.0 L1542.0 1130.0 L1548.0 1126.0 L1560.0 1124.0 L1568.0 1126.0 L1576.0 1132.0 L1586.0 1128.0 L1598.0 1125.0 L1610.0 1124.0 L1620.0 1120.0 L1620.0 190.0 L1250.0 190.0Z M1606.7 1333.3 L1600.0 1336.0 L1593.3 1340.0 L1584.0 1346.7 L1573.3 1352.0 L1562.7 1357.3 L1560.0 1361.3 L1553.3 1366.0 L1540.0 1366.7 L1526.7 1362.7 L1520.0 1364.0 L1506.7 1362.7 L1493.3 1360.7 L1486.0 1362.0 L1486.7 1366.7 L1490.7 1373.3 L1493.3 1378.7 L1506.7 1381.3 L1514.7 1381.3 L1506.7 1383.3 L1488.0 1385.3 L1478.7 1389.3 L1480.0 1393.3 L1488.0 1393.3 L1488.7 1396.0 L1482.7 1397.3 L1473.3 1396.0 L1458.7 1396.0 L1453.3 1397.3 L1446.7 1399.3 L1440.0 1398.7 L1434.7 1396.0 L1429.3 1393.3 L1424.0 1394.0 L1418.7 1393.3 L1412.0 1400.0 L1405.3 1406.7 L1400.0 1413.3 L1395.3 1414.7 L1393.3 1425.3 L1394.7 1433.3 L1404.0 1431.3 L1418.7 1429.3 L1420.0 1433.3 L1412.0 1440.0 L1416.0 1446.7 L1418.7 1450.7 L1416.0 1454.7 L1421.3 1457.3 L1420.0 1461.3 L1414.7 1464.0 L1418.7 1472.0 L1424.0 1476.0 L1416.0 1478.7 L1412.0 1481.3 L1413.3 1488.0 L1422.7 1492.0 L1429.3 1496.0 L1430.7 1504.0 L1429.3 1513.3 L1432.0 1520.0 L1430.0 1522.0 L1438.0 1524.0 L1434.0 1530.0 L1440.0 1532.0 L1460.0 1532.0 L1450.0 1538.0 L1436.0 1540.0 L1460.0 1542.0 L1468.0 1538.0 L1480.0 1544.0 L1488.0 1552.0 L1492.0 1560.0 L1504.0 1566.0 L1516.0 1562.0 L1530.0 1561.0 L1532.0 1548.0 L1536.0 1540.0 L1554.0 1538.0 L1568.0 1544.0 L1580.0 1548.0 L1586.0 1558.0 L1594.0 1564.0 L1610.0 1572.0 L1620.0 1580.0 L1620.0 1330.0Z"/></clipPath>
</defs>
<g clip-path="url(#frame)">
<g clip-path="url(#land)">
<path d="M190.0 190.0 L1610.0 190.0 L1610.0 1610.0 L190.0 1610.0Z" fill="#ffd9d9"/>
<path d="M573.0 987.0 L586.0 994.0 L596.0 1000.0 L610.0 1002.0 L626.0 992.0 L644.0 980.0 L660.0 970.0 L678.7 962.7 L681.3 940.0 L684.0 910.7 L686.7 910.0 L694.7 913.3 L706.7 916.7 L717.3 916.0 L732.0 911.3 L753.3 908.7 L770.7 909.3 L776.0 904.0 L778.7 896.0 L786.7 888.7 L800.0 888.0 L817.3 892.0 L833.3 886.0 L846.7 888.7 L854.7 896.0 L853.3 913.3 L845.3 921.3 L830.7 922.7 L821.3 918.7 L810.7 914.0 L796.0 916.7 L780.0 914.7 L776.0 917.3 L778.7 932.0 L793.3 934.0 L804.0 936.0 L810.7 945.3 L804.0 958.7 L793.3 966.7 L782.7 973.3 L776.0 976.0 L773.3 984.0 L777.3 996.0 L786.7 996.7 L794.7 994.0 L801.3 998.7 L806.7 1008.0 L814.7 1014.7 L829.3 1013.3 L846.7 1013.3 L868.0 1012.0 L886.7 1006.7 L889.3 1001.3 L892.0 1006.7 L900.0 1009.3 L920.0 1018.0 L936.0 1022.0 L948.0 1034.0 L953.0 1048.0 L950.0 1056.0 L938.0 1062.0 L934.0 1072.0 L928.0 1082.0 L920.0 1086.0 L908.0 1081.0 L896.0 1084.0 L886.0 1092.0 L882.0 1108.0 L872.0 1120.0 L860.0 1126.0 L840.0 1128.0 L826.0 1136.0 L810.0 1140.0 L800.0 1146.0 L784.0 1150.0 L772.0 1152.0 L762.0 1158.0 L756.0 1170.0 L758.0 1186.0 L752.0 1204.0 L746.0 1220.0 L748.0 1236.0 L760.0 1252.0 L772.0 1264.0 L782.0 1272.0 L790.0 1300.0 L700.0 1650.0 L150.0 1650.0 L150.0 1000.0 L480.0 1000.0 L500.0 970.0 L560.0 978.0Z" fill="#ffffff" stroke="#000" stroke-width="2.2" stroke-linejoin="round"/>
<path d="M686.7 977.3 C687.6 972.4 691.6 969.9 696.0 968.0 C700.4 966.1 708.4 965.6 713.3 966.0 C718.2 966.4 722.2 967.7 725.3 970.7 C728.4 973.7 731.3 979.6 732.0 984.0 C732.7 988.4 731.6 993.8 729.3 997.3 C727.1 1000.9 723.3 1003.6 718.7 1005.3 C714.0 1007.1 706.0 1009.3 701.3 1008.0 C696.7 1006.7 693.1 1002.4 690.7 997.3 C688.2 992.2 685.8 982.2 686.7 977.3Z" fill="#ffd9d9" stroke="#000" stroke-width="2.2" stroke-linejoin="round"/>
<path d="M816.7 1064.0 L826.7 1058.7 L831.3 1068.0 L828.0 1081.3 L821.3 1080.0Z" fill="#ffd9d9" stroke="#000" stroke-width="2.2" stroke-linejoin="round"/>
<path d="M858.0 1094.0 C859.0 1091.8 862.3 1090.0 864.0 1091.0 C865.7 1092.0 868.0 1097.2 868.0 1100.0 C868.0 1102.8 865.7 1107.3 864.0 1108.0 C862.3 1108.7 859.0 1106.3 858.0 1104.0 C857.0 1101.7 857.0 1096.2 858.0 1094.0Z" fill="#ffd9d9" stroke="#000" stroke-width="2.2" stroke-linejoin="round"/>
<path d="M757.0 1128.0 C757.7 1126.0 760.5 1123.7 762.0 1124.0 C763.5 1124.3 765.7 1127.7 766.0 1130.0 C766.3 1132.3 765.3 1137.0 764.0 1138.0 C762.7 1139.0 759.2 1137.7 758.0 1136.0 C756.8 1134.3 756.3 1130.0 757.0 1128.0Z" fill="#ffd9d9" stroke="#000" stroke-width="2.2" stroke-linejoin="round"/>
<path d="M666.0 1226.0 C666.0 1221.0 669.0 1213.5 672.0 1210.0 C675.0 1206.5 680.0 1204.7 684.0 1205.0 C688.0 1205.3 693.3 1208.2 696.0 1212.0 C698.7 1215.8 700.3 1223.0 700.0 1228.0 C699.7 1233.0 697.0 1238.8 694.0 1242.0 C691.0 1245.2 685.7 1247.3 682.0 1247.0 C678.3 1246.7 674.7 1243.5 672.0 1240.0 C669.3 1236.5 666.0 1231.0 666.0 1226.0Z" fill="#ffd9d9" stroke="#000" stroke-width="2.2" stroke-linejoin="round"/>
<path d="M514.0 990.0 L524.0 986.0 L530.0 981.0 L533.0 994.0 L528.0 999.0 L518.0 999.0Z" fill="#ffd9d9" stroke="#000" stroke-width="2.2" stroke-linejoin="round"/>
<path d="M1020.0 1184.0 L1018.6 1166.6 L1021.2 1153.4 L1032.0 1144.0 L1048.0 1138.0 L1052.0 1128.0 L1060.0 1122.0 L1072.0 1120.0 L1076.0 1128.0 L1086.0 1134.0 L1100.0 1140.0 L1112.0 1138.0 L1124.0 1130.0 L1136.0 1118.0 L1140.0 1112.0 L1144.0 1114.0 L1146.0 1124.0 L1156.0 1134.0 L1168.0 1138.0 L1178.0 1130.0 L1182.0 1120.0 L1188.0 1100.0 L1198.7 1088.0 L1210.7 1078.7 L1214.7 1069.3 L1216.0 1058.7 L1213.3 1046.7 L1216.0 1037.3 L1222.7 1026.7 L1233.3 1017.3 L1249.3 1010.7 L1260.0 1002.7 L1266.7 996.0 L1276.0 992.0 L1281.3 982.7 L1282.7 970.7 L1289.3 968.0 L1296.0 970.7 L1297.3 980.0 L1302.7 990.7 L1308.0 1001.3 L1313.3 1013.3 L1321.3 1020.0 L1333.3 1025.3 L1344.0 1030.7 L1353.3 1032.7 L1360.0 1038.7 L1364.0 1046.7 L1365.3 1056.0 L1361.3 1066.7 L1356.0 1073.3 L1354.7 1078.7 L1361.3 1086.7 L1365.3 1096.0 L1368.0 1106.7 L1373.3 1117.3 L1382.7 1124.0 L1392.0 1132.0 L1397.3 1138.7 L1397.3 1149.3 L1406.7 1153.3 L1413.3 1157.3 L1409.3 1168.0 L1398.7 1174.7 L1385.3 1176.0 L1374.7 1173.3 L1366.7 1178.7 L1361.3 1189.3 L1350.7 1196.0 L1337.3 1194.7 L1326.7 1192.0 L1318.7 1189.3 L1308.0 1188.0 L1297.3 1192.0 L1289.3 1198.7 L1266.7 1213.3 L1270.7 1217.3 L1273.3 1226.7 L1276.0 1240.0 L1277.3 1253.3 L1280.0 1262.7 L1285.3 1269.3 L1292.0 1274.7 L1298.7 1273.3 L1306.7 1266.7 L1320.0 1264.0 L1333.3 1265.3 L1346.7 1258.7 L1360.0 1260.0 L1370.7 1258.7 L1376.0 1246.7 L1386.7 1241.3 L1400.0 1240.0 L1416.0 1238.0 L1436.0 1240.0 L1446.0 1234.0 L1460.0 1234.0 L1456.0 1244.0 L1450.0 1252.0 L1440.0 1258.0 L1442.0 1280.0 L1440.0 1290.0 L1480.0 1300.0 L1700.0 1320.0 L1700.0 1650.0 L1180.0 1650.0 L1165.0 1450.0 L1172.0 1425.0 L1120.0 1340.0 L1040.0 1270.0 L1000.0 1230.0Z" fill="#ffffff" stroke="#000" stroke-width="2.2" stroke-linejoin="round"/>
<path d="M1040.0 1204.0 L1048.0 1206.7 L1053.3 1217.3 L1066.7 1214.7 L1080.0 1206.7 L1100.0 1205.3 L1113.3 1210.7 L1126.7 1222.7 L1140.0 1241.3 L1160.0 1256.0 L1160.0 1261.3 L1170.7 1264.0 L1181.3 1265.3 L1185.3 1274.7 L1186.7 1286.7 L1190.7 1298.7 L1196.0 1308.0 L1198.7 1320.0 L1201.3 1332.0 L1213.3 1337.3 L1214.7 1342.7 L1210.7 1353.3 L1206.7 1365.3 L1210.7 1369.3 L1222.7 1372.0 L1234.7 1370.7 L1240.0 1376.0 L1240.0 1386.7 L1237.3 1394.7 L1234.7 1400.0 L1216.0 1340.0 L1214.0 1350.0 L1208.0 1364.0 L1214.0 1372.0 L1228.0 1373.0 L1240.0 1374.0 L1238.0 1386.0 L1234.0 1396.0 L1244.0 1408.0 L1252.0 1418.0 L1250.0 1440.0 L1246.0 1460.0 L1243.0 1478.0 L1238.0 1480.0 L1180.0 1480.0 L1150.0 1400.0 L1100.0 1300.0 L1030.0 1240.0Z" fill="#ffd9d9" stroke="#000" stroke-width="2.2" stroke-linejoin="round"/>
<path d="M1252.0 1508.0 L1258.7 1506.7 L1272.0 1510.7 L1285.3 1516.0 L1290.7 1520.0 L1292.0 1528.0 L1293.3 1546.7 L1293.3 1560.0 L1240.0 1560.0 L1240.0 1513.3Z" fill="#ffd9d9" stroke="#000" stroke-width="2.2" stroke-linejoin="round"/>
<path d="M1288.0 1288.0 C1289.1 1285.8 1291.3 1284.4 1293.3 1285.3 C1295.3 1286.2 1297.3 1290.7 1300.0 1293.3 C1302.7 1296.0 1306.0 1298.4 1309.3 1301.3 C1312.7 1304.2 1317.3 1307.6 1320.0 1310.7 C1322.7 1313.8 1324.0 1315.8 1325.3 1320.0 C1326.7 1324.2 1327.1 1331.8 1328.0 1336.0 C1328.9 1340.2 1331.3 1343.3 1330.7 1345.3 C1330.0 1347.3 1327.1 1348.4 1324.0 1348.0 C1320.9 1347.6 1316.0 1344.4 1312.0 1342.7 C1308.0 1340.9 1302.9 1340.4 1300.0 1337.3 C1297.1 1334.2 1296.0 1328.7 1294.7 1324.0 C1293.3 1319.3 1293.3 1313.6 1292.0 1309.3 C1290.7 1305.1 1287.3 1302.2 1286.7 1298.7 C1286.0 1295.1 1286.9 1290.2 1288.0 1288.0Z" fill="#ffd9d9" stroke="#000" stroke-width="2.2" stroke-linejoin="round"/>
<path d="M1338.7 1288.0 C1339.8 1285.3 1342.7 1283.9 1346.7 1282.7 C1350.7 1281.4 1356.4 1280.8 1362.7 1280.7 C1368.9 1280.6 1378.7 1280.3 1384.0 1282.0 C1389.3 1283.7 1392.7 1287.4 1394.7 1290.7 C1396.7 1293.9 1396.4 1297.6 1396.0 1301.3 C1395.6 1305.1 1393.8 1310.2 1392.0 1313.3 C1390.2 1316.4 1388.9 1319.1 1385.3 1320.0 C1381.8 1320.9 1376.0 1319.6 1370.7 1318.7 C1365.3 1317.8 1357.6 1316.7 1353.3 1314.7 C1349.1 1312.7 1347.6 1309.3 1345.3 1306.7 C1343.1 1304.0 1341.1 1301.8 1340.0 1298.7 C1338.9 1295.6 1337.6 1290.7 1338.7 1288.0Z" fill="#ffd9d9" stroke="#000" stroke-width="2.2" stroke-linejoin="round"/>
<path d="M1222.0 1312.7 C1222.9 1310.9 1226.7 1309.1 1229.3 1308.0 C1232.0 1306.9 1235.1 1305.8 1238.0 1306.0 C1240.9 1306.2 1244.3 1307.4 1246.7 1309.3 C1249.0 1311.2 1250.8 1314.2 1252.0 1317.3 C1253.2 1320.4 1253.3 1324.4 1254.0 1328.0 C1254.7 1331.6 1255.6 1335.6 1256.0 1338.7 C1256.4 1341.8 1259.3 1345.3 1256.7 1346.7 C1254.0 1348.0 1243.7 1348.9 1240.0 1346.7 C1236.3 1344.4 1236.4 1337.1 1234.7 1333.3 C1232.9 1329.6 1231.1 1326.4 1229.3 1324.0 C1227.6 1321.6 1225.2 1320.6 1224.0 1318.7 C1222.8 1316.8 1221.1 1314.4 1222.0 1312.7Z" fill="#ffd9d9" stroke="#000" stroke-width="2.0" stroke-linejoin="round"/>
<path d="M1280.7 1400.0 C1278.8 1397.1 1280.1 1389.3 1282.0 1386.7 C1283.9 1384.0 1289.0 1384.0 1292.0 1384.0 C1295.0 1384.0 1297.3 1384.2 1300.0 1386.7 C1302.7 1389.1 1306.6 1395.8 1308.0 1398.7 C1309.4 1401.6 1311.1 1403.1 1308.7 1404.0 C1306.2 1404.9 1298.0 1404.7 1293.3 1404.0 C1288.7 1403.3 1282.6 1402.9 1280.7 1400.0Z" fill="#ffd9d9"/>
<path d="M1398.7 1397.3 L1404.0 1393.3 L1413.3 1389.3 L1418.7 1387.3 L1410.7 1396.0 L1404.0 1404.0 L1398.0 1411.3 L1396.0 1408.0Z" fill="#ffd9d9"/>
<path d="M1412.0 1397.3 C1415.1 1395.8 1421.8 1393.6 1424.0 1394.7 C1426.2 1395.8 1425.6 1401.1 1425.3 1404.0 C1425.1 1406.9 1424.0 1409.8 1422.7 1412.0 C1421.3 1414.2 1420.0 1415.8 1417.3 1417.3 C1414.7 1418.9 1410.2 1420.4 1406.7 1421.3 C1403.1 1422.2 1397.9 1423.8 1396.0 1422.7 C1394.1 1421.6 1394.7 1416.9 1395.3 1414.7 C1396.0 1412.4 1398.3 1411.1 1400.0 1409.3 C1401.7 1407.6 1403.3 1406.0 1405.3 1404.0 C1407.3 1402.0 1408.9 1398.9 1412.0 1397.3Z" fill="#ffd9d9" stroke="#000" stroke-width="2.0" stroke-linejoin="round"/>
<path d="M1473.3 1477.3 C1474.3 1474.4 1477.6 1472.0 1480.0 1470.7 C1482.4 1469.3 1485.3 1468.7 1488.0 1469.3 C1490.7 1470.0 1493.3 1472.4 1496.0 1474.7 C1498.7 1476.9 1500.0 1481.1 1504.0 1482.7 C1508.0 1484.2 1512.9 1484.2 1520.0 1484.0 C1527.1 1483.8 1540.0 1481.8 1546.7 1481.3 C1553.3 1480.9 1556.4 1479.8 1560.0 1481.3 C1563.6 1482.9 1565.3 1486.9 1568.0 1490.7 C1570.7 1494.4 1572.9 1500.2 1576.0 1504.0 C1579.1 1507.8 1582.7 1510.9 1586.7 1513.3 C1590.7 1515.8 1595.6 1517.6 1600.0 1518.7 C1604.4 1519.8 1611.1 1493.1 1613.3 1520.0 C1615.6 1546.9 1632.7 1653.3 1613.3 1680.0 C1594.0 1706.7 1516.7 1706.7 1497.3 1680.0 C1478.0 1653.3 1498.4 1549.1 1497.3 1520.0 C1496.2 1490.9 1492.7 1509.6 1490.7 1505.3 C1488.7 1501.1 1488.1 1497.6 1485.3 1494.7 C1482.6 1491.8 1476.0 1490.9 1474.0 1488.0 C1472.0 1485.1 1472.3 1480.2 1473.3 1477.3Z" fill="#ffd9d9" stroke="#000" stroke-width="2.5" stroke-linejoin="round"/>
<path d="M1440.0 1280.0 L1452.0 1280.0 L1450.7 1288.0 L1445.3 1285.3Z" fill="#ffd9d9"/>
<path d="M1426.7 1477.3 C1427.8 1476.3 1430.6 1475.3 1432.0 1475.3 C1433.4 1475.3 1435.3 1476.4 1435.3 1477.3 C1435.3 1478.2 1433.7 1480.0 1432.0 1480.7 C1430.3 1481.3 1426.2 1481.9 1425.3 1481.3 C1424.4 1480.8 1425.6 1478.3 1426.7 1477.3Z" fill="#ffd9d9" stroke="#000" stroke-width="1.0" stroke-linejoin="round"/>
<path d="M1602.0 568.0 C1597.3 571.0 1595.0 572.7 1592.0 578.0 C1589.0 583.3 1586.7 593.3 1584.0 600.0 C1581.3 606.7 1579.3 612.7 1576.0 618.0 C1572.7 623.3 1570.0 627.3 1564.0 632.0 C1558.0 636.7 1547.3 642.5 1540.0 646.0 C1532.7 649.5 1526.7 651.5 1520.0 653.0 C1513.3 654.5 1505.3 655.2 1500.0 655.0 C1494.7 654.8 1491.3 651.8 1488.0 652.0 C1484.7 652.2 1482.7 653.3 1480.0 656.0 C1477.3 658.7 1472.3 664.0 1472.0 668.0 C1471.7 672.0 1474.7 677.3 1478.0 680.0 C1481.3 682.7 1488.3 681.7 1492.0 684.0 C1495.7 686.3 1496.7 690.0 1500.0 694.0 C1503.3 698.0 1507.3 704.3 1512.0 708.0 C1516.7 711.7 1523.8 713.0 1528.0 716.0 C1532.2 719.0 1536.3 721.0 1537.0 726.0 C1537.7 731.0 1534.2 740.3 1532.0 746.0 C1529.8 751.7 1526.0 755.0 1524.0 760.0 C1522.0 765.0 1520.8 769.3 1520.0 776.0 C1519.2 782.7 1519.7 793.3 1519.0 800.0 C1518.3 806.7 1519.2 811.7 1516.0 816.0 C1512.8 820.3 1504.7 823.0 1500.0 826.0 C1495.3 829.0 1490.7 830.3 1488.0 834.0 C1485.3 837.7 1485.0 841.7 1484.0 848.0 C1483.0 854.3 1482.7 865.3 1482.0 872.0 C1481.3 878.7 1479.7 882.7 1480.0 888.0 C1480.3 893.3 1482.3 900.0 1484.0 904.0 C1485.7 908.0 1488.0 909.3 1490.0 912.0 C1492.0 914.7 1494.7 916.7 1496.0 920.0 C1497.3 923.3 1498.3 927.0 1498.0 932.0 C1497.7 937.0 1496.7 943.7 1494.0 950.0 C1491.3 956.3 1484.3 963.3 1482.0 970.0 C1479.7 976.7 1480.7 985.0 1480.0 990.0 C1479.3 995.0 1479.3 996.7 1478.0 1000.0 C1476.7 1003.3 1475.0 1005.7 1472.0 1010.0 C1469.0 1014.3 1463.3 1021.0 1460.0 1026.0 C1456.7 1031.0 1454.0 1036.3 1452.0 1040.0 C1450.0 1043.7 1450.0 1046.3 1448.0 1048.0 C1446.0 1049.7 1442.3 1051.3 1440.0 1050.0 C1437.7 1048.7 1436.3 1042.5 1434.0 1040.0 C1431.7 1037.5 1428.7 1035.0 1426.0 1035.0 C1423.3 1035.0 1419.0 1037.8 1418.0 1040.0 C1417.0 1042.2 1417.7 1045.3 1420.0 1048.0 C1422.3 1050.7 1428.7 1051.3 1432.0 1056.0 C1435.3 1060.7 1437.0 1071.7 1440.0 1076.0 C1443.0 1080.3 1446.7 1080.3 1450.0 1082.0 C1453.3 1083.7 1457.7 1083.0 1460.0 1086.0 C1462.3 1089.0 1462.7 1095.3 1464.0 1100.0 C1465.3 1104.7 1465.7 1109.0 1468.0 1114.0 C1470.3 1119.0 1475.3 1125.7 1478.0 1130.0 C1480.7 1134.3 1482.0 1136.7 1484.0 1140.0 C1486.0 1143.3 1487.3 1147.0 1490.0 1150.0 C1492.7 1153.0 1497.0 1155.3 1500.0 1158.0 C1503.0 1160.7 1488.0 1162.3 1508.0 1166.0 C1528.0 1169.7 1601.3 1281.0 1620.0 1180.0 C1638.7 1079.0 1623.0 662.0 1620.0 560.0 C1617.0 458.0 1606.7 565.0 1602.0 568.0Z" fill="#ffffff" stroke="#000" stroke-width="2.2" stroke-linejoin="round"/>
<path d="M1042.0 196.0 L1040.0 238.0 L1048.0 248.0 L1060.0 258.0 L1080.0 270.0 L1100.0 286.0 L1116.0 298.0 L1140.0 298.0 L1180.0 196.0Z" fill="#ffffff" stroke="#000" stroke-width="2.2" stroke-linejoin="round"/>
<path d="M789.3 218.7 L790.7 226.7 L785.3 231.3 L781.3 232.0 L781.3 237.3 L774.7 239.3 L768.7 240.7 L769.3 245.3 L780.0 246.7 L786.7 250.7 L790.7 249.3 L826.7 237.3 L824.0 225.3 L821.3 217.3 L817.3 208.0 L806.7 208.0 L802.7 212.0 L793.3 213.3Z" fill="#ffffff" stroke="#000" stroke-width="2.2" stroke-linejoin="round"/>
<path d="M778.7 256.0 L785.3 256.0 L790.7 272.0 L798.7 280.0 L805.3 289.3 L802.7 306.7 L800.0 318.7 L793.3 317.3 L785.3 313.3 L778.7 308.0 L774.7 296.0 L774.0 280.0 L776.7 266.7Z" fill="#ffffff" stroke="#000" stroke-width="2.2" stroke-linejoin="round"/>
<path d="M796.0 326.7 L800.0 328.0 L804.0 334.7 L798.7 338.7 L792.7 341.3 L792.0 336.0 L794.0 330.7Z" fill="#ffffff" stroke="#000" stroke-width="2.2" stroke-linejoin="round"/>
<path d="M953.3 497.3 L960.0 491.3 L968.0 496.0 L965.3 502.7 L958.7 508.0Z" fill="#ffffff" stroke="#000" stroke-width="2.2" stroke-linejoin="round"/>
<path d="M1337.3 445.3 L1346.7 452.7 L1357.3 456.0 L1362.0 465.3 L1358.7 473.3 L1358.7 484.0 L1361.3 498.7 L1369.3 510.7 L1364.0 518.7 L1360.0 532.0 L1357.3 541.3 L1360.0 552.0 L1368.0 558.7 L1380.0 560.7 L1392.0 557.3 L1397.3 550.7 L1398.7 540.0 L1393.3 522.7 L1389.3 509.3 L1401.3 496.0 L1397.3 485.3 L1386.7 474.7 L1376.0 465.3 L1372.0 460.0 L1365.3 451.3 L1378.7 449.3 L1378.7 437.3 L1337.3 437.3Z" fill="#ffffff" stroke="#000" stroke-width="2.2" stroke-linejoin="round"/>
<path d="M1397.3 485.3 L1408.0 480.0 L1417.3 474.7 L1426.7 476.7 L1432.0 484.0 L1435.3 496.0 L1429.3 499.3 L1413.3 498.7 L1401.3 496.7Z" fill="#ffffff" stroke="#000" stroke-width="2.2" stroke-linejoin="round"/>
<path d="M1356.0 612.0 L1362.0 602.0 L1369.3 602.0 L1373.3 612.0 L1364.0 618.7Z" fill="#ffffff" stroke="#000" stroke-width="2.2" stroke-linejoin="round"/>
<path d="M1235.3 603.3 L1244.0 604.0 L1253.3 597.3 L1262.7 592.0 L1274.7 588.0 L1285.3 584.0 L1292.0 574.7 L1294.7 569.3 L1286.7 560.0 L1282.7 546.7 L1253.3 554.7 L1233.3 586.7Z" fill="#ffffff" stroke="#000" stroke-width="2.2" stroke-linejoin="round"/>
<path d="M1350.0 439.0 L1374.0 439.0 L1374.0 433.0 L1379.0 433.0 L1379.0 450.0 L1366.0 450.0Z" fill="#ffffff" stroke="#000" stroke-width="2.2" stroke-linejoin="round"/>
<path d="M1403.0 438.0 L1410.0 440.0 L1432.0 447.0 L1452.0 449.0 L1455.0 426.0 L1457.0 426.0 L1456.0 448.0 L1404.0 449.0Z" fill="#ffffff" stroke="#000" stroke-width="2.2" stroke-linejoin="round"/>
<path d="M1456.0 530.0 C1458.0 526.7 1462.0 528.7 1466.0 530.0 C1470.0 531.3 1474.3 533.3 1480.0 538.0 C1485.7 542.7 1495.5 552.7 1500.0 558.0 C1504.5 563.3 1506.0 564.7 1507.0 570.0 C1508.0 575.3 1507.8 584.0 1506.0 590.0 C1504.2 596.0 1500.0 602.0 1496.0 606.0 C1492.0 610.0 1486.0 614.0 1482.0 614.0 C1478.0 614.0 1475.7 610.3 1472.0 606.0 C1468.3 601.7 1462.7 593.0 1460.0 588.0 C1457.3 583.0 1457.0 582.3 1456.0 576.0 C1455.0 569.7 1454.0 557.7 1454.0 550.0 C1454.0 542.3 1454.0 533.3 1456.0 530.0Z" fill="#ffffff" stroke="#000" stroke-width="2.2" stroke-linejoin="round"/>
<path d="M858.7 920.0 C860.4 917.1 864.2 913.8 868.0 912.0 C871.8 910.2 878.0 908.7 881.3 909.3 C884.7 910.0 886.2 911.8 888.0 916.0 C889.8 920.2 891.2 929.3 892.0 934.7 C892.8 940.0 893.8 944.1 892.7 948.0 C891.6 951.9 888.1 956.1 885.3 958.0 C882.6 959.9 879.3 960.6 876.0 959.3 C872.7 958.1 868.0 954.1 865.3 950.7 C862.7 947.2 861.3 942.2 860.0 938.7 C858.7 935.1 857.6 932.4 857.3 929.3 C857.1 926.2 856.9 922.9 858.7 920.0Z" fill="#ffffff" stroke="#000" stroke-width="2.2" stroke-linejoin="round"/>
<path d="M966.0 932.0 L974.0 920.0 L984.0 920.0 L985.0 932.0 L976.0 943.0Z" fill="#ffffff" stroke="#000" stroke-width="2.2" stroke-linejoin="round"/>
<path d="M972.0 1004.0 C972.3 999.3 977.3 992.7 980.0 990.0 C982.7 987.3 984.0 986.7 988.0 988.0 C992.0 989.3 1000.2 994.7 1004.0 998.0 C1007.8 1001.3 1010.0 1004.3 1011.0 1008.0 C1012.0 1011.7 1011.8 1017.0 1010.0 1020.0 C1008.2 1023.0 1004.0 1025.0 1000.0 1026.0 C996.0 1027.0 989.7 1027.3 986.0 1026.0 C982.3 1024.7 980.3 1021.7 978.0 1018.0 C975.7 1014.3 971.7 1008.7 972.0 1004.0Z" fill="#ffffff" stroke="#000" stroke-width="2.2" stroke-linejoin="round"/>
<path d="M973.0 1060.0 L978.0 1054.0 L998.0 1050.0 L1003.0 1056.0 L996.0 1068.0 L992.0 1078.0 L978.0 1076.0 L973.0 1068.0Z" fill="#ffffff" stroke="#000" stroke-width="2.2" stroke-linejoin="round"/>
<path d="M1046.0 1043.0 L1056.0 1037.0 L1069.0 1056.0 L1062.0 1063.0 L1054.0 1058.0Z" fill="#ffffff" stroke="#000" stroke-width="2.2" stroke-linejoin="round"/>
<path d="M1120.0 1004.0 L1124.0 988.0 L1128.0 987.0 L1135.0 1004.0 L1128.0 1010.0Z" fill="#ffffff" stroke="#000" stroke-width="2.2" stroke-linejoin="round"/>
<path d="M1170.0 980.0 L1174.0 976.0 L1182.0 983.0 L1176.0 986.0Z" fill="#ffffff" stroke="#000" stroke-width="2.2" stroke-linejoin="round"/>
<path d="M1220.0 966.0 C1219.3 962.2 1221.0 956.5 1224.0 954.0 C1227.0 951.5 1234.3 950.0 1238.0 951.0 C1241.7 952.0 1244.7 956.5 1246.0 960.0 C1247.3 963.5 1247.3 969.0 1246.0 972.0 C1244.7 975.0 1241.0 977.2 1238.0 978.0 C1235.0 978.8 1231.0 979.0 1228.0 977.0 C1225.0 975.0 1220.7 969.8 1220.0 966.0Z" fill="#ffffff" stroke="#000" stroke-width="2.2" stroke-linejoin="round"/>
<path d="M842.0 1210.0 C843.0 1207.3 847.3 1202.7 850.0 1202.0 C852.7 1201.3 856.3 1204.0 858.0 1206.0 C859.7 1208.0 861.0 1211.7 860.0 1214.0 C859.0 1216.3 854.7 1219.3 852.0 1220.0 C849.3 1220.7 845.7 1219.7 844.0 1218.0 C842.3 1216.3 841.0 1212.7 842.0 1210.0Z" fill="#ffffff" stroke="#000" stroke-width="2.2" stroke-linejoin="round"/>
<path d="M968.0 1245.3 C963.8 1249.1 962.7 1251.3 961.3 1256.0 C960.0 1260.7 959.8 1268.2 960.0 1273.3 C960.2 1278.4 960.9 1282.7 962.7 1286.7 C964.4 1290.7 967.8 1294.9 970.7 1297.3 C973.6 1299.8 976.9 1301.6 980.0 1301.3 C983.1 1301.1 986.7 1298.9 989.3 1296.0 C992.0 1293.1 993.4 1287.6 996.0 1284.0 C998.6 1280.4 999.6 1278.7 1004.7 1274.7 C1009.8 1270.7 1029.7 1266.9 1026.7 1260.0 C1023.7 1253.1 996.4 1235.8 986.7 1233.3 C976.9 1230.9 972.2 1241.6 968.0 1245.3Z" fill="#ffffff" stroke="#000" stroke-width="2.2" stroke-linejoin="round"/>
<path d="M1035.0 1380.0 C1040.0 1376.3 1037.8 1371.2 1040.0 1368.0 C1042.2 1364.8 1044.7 1361.7 1048.0 1361.0 C1051.3 1360.3 1056.2 1361.8 1060.0 1364.0 C1063.8 1366.2 1069.0 1370.0 1071.0 1374.0 C1073.0 1378.0 1072.5 1383.7 1072.0 1388.0 C1071.5 1392.3 1068.8 1396.3 1068.0 1400.0 C1067.2 1403.7 1071.7 1405.0 1067.0 1410.0 C1062.3 1415.0 1049.5 1433.3 1040.0 1430.0 C1030.5 1426.7 1010.8 1398.3 1010.0 1390.0 C1009.2 1381.7 1030.0 1383.7 1035.0 1380.0Z" fill="#ffffff" stroke="#000" stroke-width="3.0" stroke-linejoin="round"/>
<path d="M1069.0 1418.0 L1072.0 1428.0 L1080.0 1430.0 L1090.0 1424.0 L1120.0 1440.0 L1120.0 1510.0 L1040.0 1510.0 L1040.0 1440.0Z" fill="#ffffff"/>
<path d="M1135.0 1398.0 L1140.0 1392.0 L1150.0 1400.0 L1160.0 1408.0 L1150.0 1424.0 L1142.0 1416.0 L1138.0 1410.0Z" fill="#ffffff" stroke="#000" stroke-width="2.2" stroke-linejoin="round"/>
<path d="M1072.0 1332.4 L1080.0 1328.0 L1086.0 1336.0 L1078.0 1340.0 L1075.0 1337.0Z" fill="#ffffff" stroke="#000" stroke-width="3.0" stroke-linejoin="round"/>
<path d="M841.0 1316.0 L842.0 1326.0 L852.0 1334.0 L866.0 1345.0 L866.0 1360.0 L836.0 1360.0 L836.0 1316.0Z" fill="#ffffff" stroke="#000" stroke-width="2.2" stroke-linejoin="round"/>
<path d="M858.0 1364.0 L858.0 1370.0 L860.0 1380.0 L868.0 1388.0 L879.0 1391.0 L890.0 1400.0 L890.0 1470.0 L820.0 1470.0 L820.0 1364.0Z" fill="#ffffff" stroke="#000" stroke-width="3.0" stroke-linejoin="round"/>
<path d="M956.0 1480.0 L1070.0 1476.0 L1060.0 1552.0 L956.0 1552.0Z" fill="#ffffff"/>
<path d="M600.0 1404.0 L712.0 1404.0 L712.0 1472.0 L600.0 1472.0Z" fill="#ffffff"/>
<path d="M190.0 1570.0 L520.0 1570.0 L560.0 1540.0 L700.0 1500.0 L930.0 1480.0 L930.0 1610.0 L190.0 1610.0Z" fill="#ffffff"/>
<path d="M1360.0 1560.0 L1610.0 1560.0 L1610.0 1610.0 L1360.0 1610.0Z" fill="#ffffff"/>
<path d="M394.7 480.0 C406.0 478.3 442.9 490.6 454.7 496.7 C466.4 502.8 458.9 512.8 465.3 516.7 C471.8 520.6 479.8 515.0 493.3 520.0 C506.9 525.0 535.6 520.0 546.7 546.7 C557.8 573.3 555.6 654.4 560.0 680.0 C564.4 705.6 572.1 687.8 573.3 700.0 C574.6 712.2 569.2 742.2 567.3 753.3 C565.4 764.4 562.6 762.2 562.0 766.7 C561.4 771.1 563.8 776.0 564.0 780.0 C564.2 784.0 564.0 787.3 563.3 790.7 C562.7 794.0 561.7 796.7 560.0 800.0 C558.3 803.3 555.8 807.6 553.3 810.7 C550.9 813.8 548.2 816.3 545.3 818.7 C542.4 821.0 538.9 823.6 536.0 824.7 C533.1 825.8 530.7 825.7 528.0 825.3 C525.3 825.0 522.4 824.4 520.0 822.7 C517.6 820.9 515.0 817.8 513.3 814.7 C511.7 811.6 510.3 807.6 510.0 804.0 C509.7 800.4 510.1 796.0 511.3 793.3 C512.6 790.7 514.8 789.6 517.3 788.0 C519.9 786.4 524.2 785.6 526.7 784.0 C529.1 782.4 530.9 781.6 532.0 778.7 C533.1 775.8 534.0 769.3 533.3 766.7 C532.7 764.0 531.3 764.0 528.0 762.7 C524.7 761.3 519.1 759.7 513.3 758.7 C507.6 757.7 498.7 757.2 493.3 756.7 C488.0 756.1 484.8 755.8 481.3 755.3 C477.9 754.9 474.7 754.8 472.7 754.0 C470.7 753.2 470.1 753.2 469.3 750.7 C468.6 748.1 468.7 742.7 468.0 738.7 C467.3 734.7 466.2 731.0 465.3 726.7 C464.4 722.3 460.4 719.1 462.7 712.7 C464.9 706.2 476.1 693.4 478.7 688.0 C481.2 682.6 478.9 682.4 478.0 680.0 C477.1 677.6 475.6 675.3 473.3 673.3 C471.1 671.3 467.6 667.8 464.7 668.0 C461.8 668.2 458.6 671.3 456.0 674.7 C453.4 678.0 451.3 683.1 449.3 688.0 C447.3 692.9 446.0 700.2 444.0 704.0 C442.0 707.8 440.2 709.1 437.3 710.7 C434.4 712.2 429.8 713.1 426.7 713.3 C423.6 713.6 420.6 714.4 418.7 712.0 C416.8 709.6 418.0 701.8 415.3 698.7 C412.7 695.6 405.7 702.0 402.7 693.3 C399.7 684.7 400.7 655.6 397.3 646.7 C394.0 637.8 387.8 642.2 382.7 640.0 C377.6 637.8 370.4 638.9 366.7 633.3 C362.9 627.8 358.4 612.2 360.0 606.7 C361.6 601.1 374.2 603.8 376.0 600.0 C377.8 596.2 372.2 589.8 370.7 584.0 C369.1 578.2 365.1 570.2 366.7 565.3 C368.2 560.4 377.3 559.6 380.0 554.7 C382.7 549.8 381.6 544.0 382.7 536.0 C383.8 528.0 384.7 516.0 386.7 506.7 C388.7 497.3 383.3 481.7 394.7 480.0Z" fill="#ffa8a8" stroke="#000" stroke-width="2.2" stroke-linejoin="round"/>
<path d="M493.3 711.3 L514.7 711.3 L504.0 727.3Z" fill="#ffd9d9" stroke="#000" stroke-width="2.2" stroke-linejoin="round"/>
<path d="M520.7 711.3 L526.0 710.7 L522.0 702.7Z" fill="#ffd9d9" stroke="#000" stroke-width="2.2" stroke-linejoin="round"/>
<path d="M544.7 730.7 L554.7 738.7 L544.0 738.7Z" fill="#ffd9d9" stroke="#000" stroke-width="2.2" stroke-linejoin="round"/>
<path d="M389.3 600.0 C391.3 597.3 392.0 593.1 394.7 590.7 C397.3 588.2 402.2 586.1 405.3 585.3 C408.4 584.6 410.9 584.7 413.3 586.0 C415.8 587.3 418.4 590.6 420.0 593.3 C421.6 596.1 421.6 599.6 422.7 602.7 C423.8 605.8 426.7 609.1 426.7 612.0 C426.7 614.9 424.4 617.9 422.7 620.0 C420.9 622.1 418.7 623.9 416.0 624.7 C413.3 625.4 410.2 625.7 406.7 624.7 C403.1 623.7 398.0 620.6 394.7 618.7 C391.3 616.8 388.7 615.3 386.7 613.3 C384.7 611.3 382.2 608.9 382.7 606.7 C383.1 604.4 387.3 602.7 389.3 600.0Z" fill="#ff5555" stroke="#000" stroke-width="2.2" stroke-linejoin="round"/>
<path d="M350.7 700.7 C352.0 704.0 352.8 700.9 354.7 700.0 C356.6 699.1 359.8 695.6 362.0 695.3 C364.2 695.1 365.4 697.7 368.0 698.7 C370.6 699.7 375.6 699.8 377.3 701.3 C379.1 702.9 377.7 706.1 378.7 708.0 C379.7 709.9 382.7 709.8 383.3 712.7 C384.0 715.6 382.9 721.9 382.7 725.3 C382.4 728.8 382.8 730.4 382.0 733.3 C381.2 736.2 380.6 741.3 378.0 742.7 C375.4 744.0 370.1 741.7 366.7 741.3 C363.2 741.0 360.2 741.1 357.3 740.7 C354.4 740.2 351.6 738.6 349.3 738.7 C347.1 738.8 345.6 740.0 344.0 741.3 C342.4 742.7 340.9 744.8 340.0 746.7 C339.1 748.6 337.8 750.4 338.7 752.7 C339.6 754.9 342.9 757.7 345.3 760.0 C347.8 762.3 351.1 764.0 353.3 766.7 C355.6 769.3 357.7 772.7 358.7 776.0 C359.7 779.3 359.8 782.9 359.3 786.7 C358.9 790.4 357.7 795.1 356.0 798.7 C354.3 802.2 352.2 805.6 349.3 808.0 C346.4 810.4 342.2 812.0 338.7 813.3 C335.1 814.7 332.2 814.9 328.0 816.0 C323.8 817.1 317.1 818.9 313.3 820.0 C309.6 821.1 307.6 821.1 305.3 822.7 C303.1 824.2 302.0 827.6 300.0 829.3 C298.0 831.1 295.8 832.6 293.3 833.3 C290.9 834.1 287.8 834.4 285.3 834.0 C282.9 833.6 280.7 832.6 278.7 830.7 C276.7 828.8 279.8 823.3 273.3 822.7 C266.9 822.0 246.7 841.6 240.0 826.7 C233.3 811.8 224.4 757.8 233.3 733.3 C242.2 708.9 274.4 688.9 293.3 680.0 C312.2 671.1 337.1 676.6 346.7 680.0 C356.2 683.4 349.3 697.3 350.7 700.7Z" fill="#ffa8a8" stroke="#000" stroke-width="2.2" stroke-linejoin="round"/>
<path d="M850.7 202.7 C852.7 201.1 862.2 201.1 866.7 201.3 C871.1 201.6 873.6 202.0 877.3 204.0 C881.1 206.0 886.0 210.2 889.3 213.3 C892.7 216.4 895.9 218.7 897.3 222.7 C898.8 226.7 898.9 232.4 898.0 237.3 C897.1 242.2 894.8 247.1 892.0 252.0 C889.2 256.9 884.4 262.7 881.3 266.7 C878.2 270.7 876.0 273.8 873.3 276.0 C870.7 278.2 867.9 279.9 865.3 280.0 C862.8 280.1 859.6 278.9 858.0 276.7 C856.4 274.4 855.9 271.7 856.0 266.7 C856.1 261.7 858.2 253.3 858.7 246.7 C859.1 240.0 859.3 232.7 858.7 226.7 C858.0 220.7 856.0 214.7 854.7 210.7 C853.3 206.7 848.7 204.2 850.7 202.7Z" fill="#ffa8a8" stroke="#000" stroke-width="2.2" stroke-linejoin="round"/>
<path d="M834.7 314.7 C836.6 315.1 839.9 317.3 841.3 320.0 C842.8 322.7 843.2 326.7 843.3 330.7 C843.4 334.7 843.0 340.0 842.0 344.0 C841.0 348.0 839.7 352.1 837.3 354.7 C835.0 357.2 830.4 359.6 828.0 359.3 C825.6 359.1 823.8 356.8 822.7 353.3 C821.6 349.9 820.9 343.6 821.3 338.7 C821.8 333.8 823.9 327.6 825.3 324.0 C826.8 320.4 828.4 318.9 830.0 317.3 C831.6 315.8 832.8 314.2 834.7 314.7Z" fill="#ffa8a8" stroke="#000" stroke-width="2.2" stroke-linejoin="round"/>
<path d="M892.0 338.7 C892.7 336.4 894.7 335.1 897.3 333.3 C900.0 331.6 905.6 329.3 908.0 328.0 C910.4 326.7 910.9 325.3 912.0 325.3 C913.1 325.3 914.0 326.0 914.7 328.0 C915.3 330.0 914.0 334.2 916.0 337.3 C918.0 340.4 923.8 343.8 926.7 346.7 C929.6 349.6 931.3 351.8 933.3 354.7 C935.3 357.6 937.4 361.4 938.7 364.0 C939.9 366.6 940.7 367.6 940.7 370.0 C940.7 372.4 940.1 375.9 938.7 378.7 C937.2 381.4 934.9 384.3 932.0 386.7 C929.1 389.0 925.3 392.9 921.3 392.9 C917.3 392.9 912.0 389.0 908.0 386.7 C904.0 384.3 900.7 381.3 897.3 378.7 C894.0 376.0 889.1 374.2 888.0 370.7 C886.9 367.1 889.8 361.3 890.7 357.3 C891.6 353.3 893.1 349.8 893.3 346.7 C893.6 343.6 891.3 340.9 892.0 338.7Z" fill="#ffa8a8" stroke="#000" stroke-width="2.2" stroke-linejoin="round"/>
<path d="M762.7 386.7 C763.3 383.3 765.0 381.4 766.7 380.0 C768.3 378.6 770.4 377.8 772.7 378.0 C774.9 378.2 777.9 380.1 780.0 381.3 C782.1 382.6 784.0 383.3 785.3 385.3 C786.7 387.3 787.1 390.4 788.0 393.3 C788.9 396.2 790.9 399.6 790.7 402.7 C790.4 405.8 788.7 409.8 786.7 412.0 C784.7 414.2 781.6 415.2 778.7 416.0 C775.8 416.8 772.2 416.0 769.3 416.7 C766.4 417.3 764.0 418.8 761.3 420.0 C758.7 421.2 755.1 424.0 753.3 424.0 C751.6 424.0 750.2 421.3 750.7 420.0 C751.1 418.7 754.4 417.3 756.0 416.0 C757.6 414.7 758.9 414.7 760.0 412.0 C761.1 409.3 762.2 404.2 762.7 400.0 C763.1 395.8 762.0 390.0 762.7 386.7Z" fill="#ffa8a8" stroke="#000" stroke-width="2.2" stroke-linejoin="round"/>
<path d="M866.0 403.0 L872.0 418.0 L882.0 432.0 L878.0 444.0 L874.0 460.0 L873.0 466.0 L875.0 476.0 L866.0 488.0 L854.0 500.0 L840.0 512.0 L830.0 524.0 L826.0 530.0 L825.0 512.0 L822.0 502.0 L810.0 488.0 L798.0 476.0 L788.0 464.0 L796.0 454.0 L814.0 440.0 L820.0 424.0 L840.0 412.0 L856.0 404.0Z" fill="#ffa8a8" stroke="#000" stroke-width="2.2" stroke-linejoin="round"/>
<path d="M941.0 198.0 C935.0 199.7 940.8 204.3 942.0 208.0 C943.2 211.7 945.0 216.8 948.0 220.0 C951.0 223.2 956.0 226.3 960.0 227.0 C964.0 227.7 968.8 225.3 972.0 224.0 C975.2 222.7 977.7 222.0 979.0 219.0 C980.3 216.0 980.2 209.5 980.0 206.0 C979.8 202.5 984.5 199.3 978.0 198.0 C971.5 196.7 947.0 196.3 941.0 198.0Z" fill="#ffa8a8" stroke="#000" stroke-width="2.2" stroke-linejoin="round"/>
<path d="M907.3 442.7 C911.1 441.0 924.8 442.7 930.7 442.0 C936.6 441.3 938.9 439.2 942.7 438.7 C946.4 438.1 950.2 438.0 953.3 438.7 C956.4 439.3 959.6 440.4 961.3 442.7 C963.1 444.9 964.2 448.2 964.0 452.0 C963.8 455.8 964.0 462.4 960.0 465.3 C956.0 468.2 946.0 467.6 940.0 469.3 C934.0 471.1 927.0 475.6 924.0 476.0 C921.0 476.4 923.1 474.0 922.0 472.0 C920.9 470.0 919.2 466.2 917.3 464.0 C915.4 461.8 912.2 460.7 910.7 458.7 C909.1 456.7 908.6 454.7 908.0 452.0 C907.4 449.3 903.6 444.3 907.3 442.7Z" fill="#ffa8a8" stroke="#000" stroke-width="2.2" stroke-linejoin="round"/>
<path d="M942.7 536.0 C946.2 536.1 953.4 536.7 956.0 540.7 C958.6 544.7 957.1 556.1 958.0 560.0 C958.9 563.9 957.7 564.7 961.3 564.0 C965.0 563.3 975.1 558.7 980.0 556.0 C984.9 553.3 987.6 552.7 990.7 548.0 C993.8 543.3 996.0 534.9 998.7 528.0 C1001.3 521.1 1004.2 513.6 1006.7 506.7 C1009.1 499.8 1011.1 494.4 1013.3 486.7 C1015.6 478.9 1017.6 467.6 1020.0 460.0 C1022.4 452.4 1024.9 446.0 1028.0 441.3 C1031.1 436.7 1035.1 433.8 1038.7 432.0 C1042.2 430.2 1046.2 430.0 1049.3 430.7 C1052.4 431.3 1055.6 432.2 1057.3 436.0 C1059.1 439.8 1059.8 448.2 1060.0 453.3 C1060.2 458.4 1060.0 462.2 1058.7 466.7 C1057.3 471.1 1053.3 474.4 1052.0 480.0 C1050.7 485.6 1050.4 493.8 1050.7 500.0 C1050.9 506.2 1051.8 512.9 1053.3 517.3 C1054.9 521.8 1056.7 524.0 1060.0 526.7 C1063.3 529.3 1068.9 530.9 1073.3 533.3 C1077.8 535.8 1083.1 538.7 1086.7 541.3 C1090.2 544.0 1090.2 548.4 1094.7 549.3 C1099.1 550.2 1109.1 536.6 1113.3 546.7 C1117.6 556.8 1124.6 598.1 1120.0 610.0 C1115.4 621.9 1093.0 615.7 1086.0 618.0 C1079.0 620.3 1081.0 622.7 1078.0 624.0 C1075.0 625.3 1070.3 623.7 1068.0 626.0 C1065.7 628.3 1065.3 634.7 1064.0 638.0 C1062.7 641.3 1064.8 644.2 1060.0 646.0 C1055.2 647.8 1042.3 648.0 1035.0 649.0 C1027.7 650.0 1021.5 650.2 1016.0 652.0 C1010.5 653.8 1004.8 654.7 1002.0 660.0 C999.2 665.3 1000.0 678.7 999.0 684.0 C998.0 689.3 1000.1 691.3 996.0 692.0 C991.9 692.7 978.0 694.3 974.4 688.0 C970.8 681.7 975.5 662.2 974.4 654.0 C973.3 645.8 974.6 658.0 968.0 639.0 C961.4 620.0 938.9 557.2 934.7 540.0 C930.4 522.8 939.1 535.9 942.7 536.0Z" fill="#ffa8a8" stroke="#000" stroke-width="2.2" stroke-linejoin="round"/>
<path d="M1034.7 645.3 C1031.1 644.2 1023.8 651.1 1018.7 653.3 C1013.6 655.6 1007.1 656.2 1004.0 658.7 C1000.9 661.1 1001.2 663.8 1000.0 668.0 C998.8 672.2 992.2 679.8 996.7 684.0 C1001.1 688.2 1019.4 697.3 1026.7 693.3 C1033.9 689.3 1038.7 668.0 1040.0 660.0 C1041.3 652.0 1038.2 646.4 1034.7 645.3Z" fill="#ffd9d9" stroke="#000" stroke-width="2.2" stroke-linejoin="round"/>
<path d="M966.7 636.0 L972.0 644.0 L976.0 646.7 L985.3 645.3 L992.0 654.7 L984.0 662.7 L960.0 646.7Z" fill="#ffd9d9" stroke="#000" stroke-width="2.2" stroke-linejoin="round"/>
<path d="M1093.0 603.0 L1100.0 598.0 L1102.0 600.0 L1096.0 618.0 L1090.0 618.0Z" fill="#ffa8a8" stroke="#000" stroke-width="1.0" stroke-linejoin="round"/>
<path d="M893.3 609.3 C890.2 609.8 890.2 614.4 888.0 617.3 C885.8 620.2 882.2 624.0 880.0 626.7 C877.8 629.3 876.9 629.1 874.7 633.3 C872.4 637.6 869.3 648.4 866.7 652.0 C864.0 655.6 860.7 653.3 858.7 654.7 C856.7 656.0 855.6 656.9 854.7 660.0 C853.8 663.1 853.2 668.9 853.3 673.3 C853.4 677.8 854.4 683.0 855.3 686.7 C856.2 690.3 857.2 694.0 858.7 695.3 C860.1 696.7 862.2 695.7 864.0 694.7 C865.8 693.7 867.6 691.8 869.3 689.3 C871.1 686.9 873.4 682.7 874.7 680.0 C875.9 677.3 874.7 675.6 876.7 673.3 C878.7 671.1 881.4 668.2 886.7 666.7 C891.9 665.1 904.2 667.3 908.0 664.0 C911.8 660.7 907.8 653.1 909.3 646.7 C910.9 640.2 917.8 630.7 917.3 625.3 C916.9 620.0 910.7 617.3 906.7 614.7 C902.7 612.0 896.4 608.9 893.3 609.3Z" fill="#ffa8a8" stroke="#000" stroke-width="2.2" stroke-linejoin="round"/>
<path d="M948.0 666.7 L945.3 697.3 L950.7 708.0 L953.3 712.0 L966.7 708.0 L966.7 673.3 L957.3 666.7 L950.7 665.3Z" fill="#ffa8a8" stroke="#000" stroke-width="2.2" stroke-linejoin="round"/>
<path d="M864.0 752.0 L872.7 746.7 L880.0 753.3 L876.0 766.7 L869.3 766.0 L865.3 758.7Z" fill="#ffa8a8" stroke="#000" stroke-width="3.0" stroke-linejoin="round"/>
<path d="M1083.0 804.0 L1092.0 792.0 L1104.0 789.0 L1116.0 792.0 L1114.0 805.0 L1100.0 811.0 L1090.0 809.0Z" fill="#ffa8a8" stroke="#000" stroke-width="2.5" stroke-linejoin="round"/>
<path d="M1194.0 805.0 L1206.0 788.0 L1214.0 782.0 L1222.0 782.0 L1232.0 790.0 L1235.0 804.0 L1228.0 811.0 L1212.0 819.0 L1202.0 813.0Z" fill="#ffa8a8" stroke="#000" stroke-width="2.5" stroke-linejoin="round"/>
<path d="M1226.0 739.0 C1226.5 737.8 1228.7 736.3 1231.0 736.0 C1233.3 735.7 1238.3 736.2 1240.0 737.0 C1241.7 737.8 1242.0 739.8 1241.0 741.0 C1240.0 742.2 1236.2 743.7 1234.0 744.0 C1231.8 744.3 1229.3 743.8 1228.0 743.0 C1226.7 742.2 1225.5 740.2 1226.0 739.0Z" fill="#ffa8a8" stroke="#000" stroke-width="2.0" stroke-linejoin="round"/>
<path d="M950.0 1112.0 L962.0 1108.0 L970.0 1098.0 L978.0 1094.0 L986.0 1102.0 L982.0 1116.0 L980.0 1122.0 L970.0 1126.0 L956.0 1128.0 L950.0 1122.0Z" fill="#ffa8a8" stroke="#000" stroke-width="2.2" stroke-linejoin="round"/>
<path d="M1011.0 1112.0 L1014.0 1100.0 L1018.0 1099.0 L1024.0 1112.0 L1018.0 1117.0Z" fill="#ffa8a8" stroke="#000" stroke-width="2.2" stroke-linejoin="round"/>
<path d="M993.0 1124.0 L1000.0 1116.0 L1007.0 1124.0 L1002.0 1129.0Z" fill="#ffa8a8" stroke="#000" stroke-width="2.2" stroke-linejoin="round"/>
<path d="M917.0 1140.0 L920.0 1132.0 L928.0 1129.0 L940.0 1136.0 L932.0 1146.0 L920.0 1147.0Z" fill="#ffa8a8" stroke="#000" stroke-width="2.2" stroke-linejoin="round"/>
<path d="M862.0 1136.0 C862.7 1132.8 868.3 1129.7 872.0 1129.0 C875.7 1128.3 881.7 1129.8 884.0 1132.0 C886.3 1134.2 887.3 1138.7 886.0 1142.0 C884.7 1145.3 879.0 1151.0 876.0 1152.0 C873.0 1153.0 870.3 1150.7 868.0 1148.0 C865.7 1145.3 861.3 1139.2 862.0 1136.0Z" fill="#ffa8a8" stroke="#000" stroke-width="2.2" stroke-linejoin="round"/>
<path d="M1519.0 196.0 C1508.8 200.0 1516.8 212.7 1517.0 220.0 C1517.2 227.3 1518.2 234.3 1520.0 240.0 C1521.8 245.7 1524.7 250.2 1528.0 254.0 C1531.3 257.8 1535.7 261.3 1540.0 263.0 C1544.3 264.7 1549.7 264.8 1554.0 264.0 C1558.3 263.2 1561.7 261.0 1566.0 258.0 C1570.3 255.0 1576.0 249.3 1580.0 246.0 C1584.0 242.7 1587.8 242.3 1590.0 238.0 C1592.2 233.7 1593.7 225.0 1593.0 220.0 C1592.3 215.0 1588.5 212.0 1586.0 208.0 C1583.5 204.0 1589.2 198.0 1578.0 196.0 C1566.8 194.0 1529.2 192.0 1519.0 196.0Z" fill="#ffa8a8" stroke="#000" stroke-width="2.8" stroke-linejoin="round"/>
<path d="M794.0 509.0 L805.0 509.0 L806.0 534.0 L795.0 536.0Z" fill="#ccffff" stroke="#000" stroke-width="2.2" stroke-linejoin="round"/>
<path d="M1314.7 1093.3 C1315.7 1090.9 1318.7 1087.8 1321.3 1086.7 C1324.0 1085.6 1327.8 1085.3 1330.7 1086.7 C1333.6 1088.0 1336.4 1091.6 1338.7 1094.7 C1340.9 1097.8 1343.1 1101.1 1344.0 1105.3 C1344.9 1109.6 1344.9 1116.4 1344.0 1120.0 C1343.1 1123.6 1340.7 1126.0 1338.7 1126.7 C1336.7 1127.3 1334.0 1126.2 1332.0 1124.0 C1330.0 1121.8 1328.7 1116.2 1326.7 1113.3 C1324.7 1110.4 1321.9 1108.7 1320.0 1106.7 C1318.1 1104.7 1316.2 1103.6 1315.3 1101.3 C1314.4 1099.1 1313.7 1095.8 1314.7 1093.3Z" fill="#ccffff" stroke="#000" stroke-width="2.2" stroke-linejoin="round"/>
<path d="M1318.7 1054.7 L1323.3 1052.0 L1332.0 1054.0 L1323.3 1059.3Z" fill="#ccffff" stroke="#000" stroke-width="1.5" stroke-linejoin="round"/>
<path d="M1262.0 1158.0 L1268.0 1152.7 L1276.0 1158.7 L1266.7 1164.0Z" fill="#ccffff" stroke="#000" stroke-width="1.5" stroke-linejoin="round"/>
<path d="M1265.3 1192.0 C1265.3 1190.4 1267.1 1186.7 1268.0 1186.7 C1268.9 1186.7 1270.7 1190.4 1270.7 1192.0 C1270.7 1193.6 1268.9 1196.0 1268.0 1196.0 C1267.1 1196.0 1265.3 1193.6 1265.3 1192.0Z" fill="#ccffff" stroke="#000" stroke-width="1.5" stroke-linejoin="round"/>
<path d="M1470.7 1368.0 C1475.1 1365.3 1477.1 1366.7 1480.0 1365.3 C1482.9 1364.0 1483.6 1360.9 1488.0 1360.0 C1492.4 1359.1 1500.2 1359.9 1506.7 1360.0 C1513.1 1360.1 1521.1 1359.9 1526.7 1360.7 C1532.2 1361.4 1535.6 1364.1 1540.0 1364.7 C1544.4 1365.2 1550.0 1364.8 1553.3 1364.0 C1556.7 1363.2 1557.6 1359.8 1560.0 1360.0 C1562.4 1360.2 1563.6 1363.6 1568.0 1365.3 C1572.4 1367.1 1582.7 1368.7 1586.7 1370.7 C1590.7 1372.7 1590.7 1374.7 1592.0 1377.3 C1593.3 1380.0 1593.3 1383.3 1594.7 1386.7 C1596.0 1390.0 1598.4 1394.0 1600.0 1397.3 C1601.6 1400.7 1604.0 1403.3 1604.0 1406.7 C1604.0 1410.0 1602.4 1415.1 1600.0 1417.3 C1597.6 1419.6 1593.3 1419.3 1589.3 1420.0 C1585.3 1420.7 1580.0 1422.2 1576.0 1421.3 C1572.0 1420.4 1568.4 1417.6 1565.3 1414.7 C1562.2 1411.8 1560.0 1406.7 1557.3 1404.0 C1554.7 1401.3 1552.7 1399.6 1549.3 1398.7 C1546.0 1397.8 1541.1 1397.6 1537.3 1398.7 C1533.6 1399.8 1529.8 1402.4 1526.7 1405.3 C1523.6 1408.2 1520.9 1411.3 1518.7 1416.0 C1516.4 1420.7 1515.3 1428.2 1513.3 1433.3 C1511.3 1438.4 1509.1 1443.8 1506.7 1446.7 C1504.2 1449.6 1501.8 1450.3 1498.7 1450.7 C1495.6 1451.0 1491.1 1450.9 1488.0 1448.7 C1484.9 1446.4 1482.2 1441.2 1480.0 1437.3 C1477.8 1433.4 1476.0 1429.3 1474.7 1425.3 C1473.3 1421.3 1472.0 1417.1 1472.0 1413.3 C1472.0 1409.6 1475.6 1405.3 1474.7 1402.7 C1473.8 1400.0 1470.2 1400.9 1466.7 1397.3 C1463.1 1393.8 1452.7 1386.2 1453.3 1381.3 C1454.0 1376.4 1466.2 1370.7 1470.7 1368.0Z" fill="#ccffff" stroke="#000" stroke-width="2.2" stroke-linejoin="round"/>
<path d="M1585.3 1344.0 L1594.7 1338.7 L1606.7 1333.3 L1606.7 1370.7 L1596.0 1362.7 L1590.7 1352.0Z" fill="#ccffff" stroke="#000" stroke-width="2.2" stroke-linejoin="round"/>
<path d="M1610.0 988.0 C1608.3 975.3 1603.0 990.0 1600.0 992.0 C1597.0 994.0 1594.3 996.3 1592.0 1000.0 C1589.7 1003.7 1586.0 1008.7 1586.0 1014.0 C1586.0 1019.3 1590.7 1027.0 1592.0 1032.0 C1593.3 1037.0 1596.0 1041.0 1594.0 1044.0 C1592.0 1047.0 1583.3 1047.3 1580.0 1050.0 C1576.7 1052.7 1575.3 1057.0 1574.0 1060.0 C1572.7 1063.0 1571.0 1065.7 1572.0 1068.0 C1573.0 1070.3 1576.7 1073.0 1580.0 1074.0 C1583.3 1075.0 1587.0 1075.0 1592.0 1074.0 C1597.0 1073.0 1607.0 1082.3 1610.0 1068.0 C1613.0 1053.7 1611.7 1000.7 1610.0 988.0Z" fill="#ccffff" stroke="#000" stroke-width="2.2" stroke-linejoin="round"/>
<path d="M493.0 1083.0 C494.7 1081.3 500.2 1080.0 504.0 1080.0 C507.8 1080.0 512.0 1081.3 516.0 1083.0 C520.0 1084.7 525.3 1087.2 528.0 1090.0 C530.7 1092.8 532.0 1096.3 532.0 1100.0 C532.0 1103.7 530.0 1108.0 528.0 1112.0 C526.0 1116.0 522.3 1121.8 520.0 1124.0 C517.7 1126.2 516.7 1126.7 514.0 1125.0 C511.3 1123.3 505.3 1117.8 504.0 1114.0 C502.7 1110.2 504.0 1105.0 506.0 1102.0 C508.0 1099.0 515.3 1097.5 516.0 1096.0 C516.7 1094.5 512.7 1093.3 510.0 1093.0 C507.3 1092.7 502.7 1094.5 500.0 1094.0 C497.3 1093.5 495.2 1091.8 494.0 1090.0 C492.8 1088.2 491.3 1084.7 493.0 1083.0Z" fill="#ccffff" stroke="#000" stroke-width="3.0" stroke-linejoin="round"/>
<path d="M516.0 1126.0 L520.0 1124.0 L528.0 1136.0 L524.0 1135.0Z" fill="#ccffff" stroke="#000" stroke-width="2.0" stroke-linejoin="round"/>
<path d="M384.0 1258.0 L392.0 1260.0 L402.0 1262.0 L404.0 1270.0 L394.0 1275.0 L389.0 1270.0Z" fill="#ccffff" stroke="#000" stroke-width="3.0" stroke-linejoin="round"/>
<path d="M526.0 1252.0 C528.0 1250.3 532.2 1255.3 534.0 1258.0 C535.8 1260.7 537.3 1265.0 537.0 1268.0 C536.7 1271.0 534.8 1274.3 532.0 1276.0 C529.2 1277.7 523.0 1278.3 520.0 1278.0 C517.0 1277.7 513.7 1275.7 514.0 1274.0 C514.3 1272.3 520.0 1271.7 522.0 1268.0 C524.0 1264.3 524.0 1253.7 526.0 1252.0Z" fill="#ccffff" stroke="#000" stroke-width="3.0" stroke-linejoin="round"/>
<path d="M494.0 1272.0 L508.0 1274.0 L504.0 1282.0 L498.0 1282.0Z" fill="#ccffff" stroke="#000" stroke-width="2.0" stroke-linejoin="round"/>
<path d="M460.0 1294.0 C460.3 1289.7 465.0 1287.5 468.0 1286.0 C471.0 1284.5 475.3 1284.0 478.0 1285.0 C480.7 1286.0 482.7 1289.2 484.0 1292.0 C485.3 1294.8 486.3 1298.3 486.0 1302.0 C485.7 1305.7 484.3 1311.2 482.0 1314.0 C479.7 1316.8 474.7 1319.3 472.0 1319.0 C469.3 1318.7 468.0 1316.2 466.0 1312.0 C464.0 1307.8 459.7 1298.3 460.0 1294.0Z" fill="#ccffff" stroke="#000" stroke-width="2.2" stroke-linejoin="round"/>
<path d="M384.0 1342.0 L400.0 1334.0 L412.0 1332.0 L424.0 1327.0 L434.0 1330.0 L446.0 1340.0 L456.0 1354.0 L450.0 1360.0 L444.0 1374.0 L426.0 1377.0 L418.0 1380.0 L408.0 1387.0 L400.0 1382.0 L398.0 1364.0 L392.0 1358.0 L384.0 1354.0Z" fill="#ccffff" stroke="#000" stroke-width="2.2" stroke-linejoin="round"/>
<path d="M494.0 1364.0 C495.2 1360.3 498.3 1356.3 502.0 1354.0 C505.7 1351.7 510.3 1350.0 516.0 1350.0 C521.7 1350.0 530.3 1352.0 536.0 1354.0 C541.7 1356.0 547.2 1358.7 550.0 1362.0 C552.8 1365.3 553.3 1370.3 553.0 1374.0 C552.7 1377.7 550.8 1381.5 548.0 1384.0 C545.2 1386.5 540.7 1387.7 536.0 1389.0 C531.3 1390.3 525.3 1392.3 520.0 1392.0 C514.7 1391.7 508.2 1389.7 504.0 1387.0 C499.8 1384.3 496.7 1379.8 495.0 1376.0 C493.3 1372.2 492.8 1367.7 494.0 1364.0Z" fill="#ccffff" stroke="#000" stroke-width="2.2" stroke-linejoin="round"/>
<path d="M522.0 1447.2 L540.0 1448.0 L556.0 1440.0 L564.0 1456.0 L576.0 1462.0 L562.0 1472.0 L552.0 1460.0 L540.0 1456.0Z" fill="#ccffff" stroke="#000" stroke-width="2.2" stroke-linejoin="round"/>
<path d="M615.0 1302.0 C615.0 1297.0 617.5 1296.0 620.0 1294.0 C622.5 1292.0 626.3 1290.0 630.0 1290.0 C633.7 1290.0 638.8 1291.0 642.0 1294.0 C645.2 1297.0 648.0 1303.7 649.0 1308.0 C650.0 1312.3 649.5 1316.7 648.0 1320.0 C646.5 1323.3 643.3 1326.3 640.0 1328.0 C636.7 1329.7 631.3 1330.7 628.0 1330.0 C624.7 1329.3 622.2 1328.7 620.0 1324.0 C617.8 1319.3 615.0 1307.0 615.0 1302.0Z" fill="#ccffff" stroke="#000" stroke-width="2.2" stroke-linejoin="round"/>
<path d="M582.0 1344.0 C582.0 1341.8 587.2 1341.0 590.0 1341.0 C592.8 1341.0 597.0 1342.2 599.0 1344.0 C601.0 1345.8 599.5 1349.3 602.0 1352.0 C604.5 1354.7 612.0 1357.7 614.0 1360.0 C616.0 1362.3 616.0 1364.7 614.0 1366.0 C612.0 1367.3 604.7 1369.3 602.0 1368.0 C599.3 1366.7 600.0 1360.3 598.0 1358.0 C596.0 1355.7 592.7 1356.3 590.0 1354.0 C587.3 1351.7 582.0 1346.2 582.0 1344.0Z" fill="#ccffff" stroke="#000" stroke-width="2.2" stroke-linejoin="round"/>
<path d="M571.0 1455.0 L578.0 1462.0 L572.0 1466.0Z" fill="#66ffff" stroke="#000" stroke-width="1.0" stroke-linejoin="round"/>
<path d="M646.0 1429.0 L656.0 1420.0 L668.0 1416.0 L672.0 1422.0 L680.0 1424.0 L675.0 1438.0 L668.0 1442.0 L660.0 1438.0 L654.0 1432.0Z" fill="#ccffff"/>
<path d="M590.0 1580.0 C592.7 1576.5 602.7 1580.0 608.0 1579.0 C613.3 1578.0 619.0 1577.2 622.0 1574.0 C625.0 1570.8 625.0 1563.7 626.0 1560.0 C627.0 1556.3 625.7 1553.8 628.0 1552.0 C630.3 1550.2 635.3 1548.0 640.0 1549.0 C644.7 1550.0 649.7 1553.7 656.0 1558.0 C662.3 1562.3 675.7 1569.8 678.0 1575.0 C680.3 1580.2 677.0 1586.5 670.0 1589.0 C663.0 1591.5 642.3 1588.2 636.0 1590.0 C629.7 1591.8 639.3 1598.3 632.0 1600.0 C624.7 1601.7 599.0 1603.3 592.0 1600.0 C585.0 1596.7 587.3 1583.5 590.0 1580.0Z" fill="#ccffff" stroke="#000" stroke-width="2.2" stroke-linejoin="round"/>
<path d="M690.0 1557.0 L700.0 1550.0 L708.0 1558.0 L692.0 1566.0Z" fill="#ccffff" stroke="#000" stroke-width="3.0" stroke-linejoin="round"/>
<path d="M718.0 1538.0 L730.0 1542.0 L740.0 1546.0 L736.0 1554.0 L730.0 1557.0 L718.0 1556.0 L715.0 1549.0Z" fill="#ccffff" stroke="#000" stroke-width="3.0" stroke-linejoin="round"/>
<path d="M982.0 1489.0 C982.8 1487.5 986.2 1484.0 988.0 1484.0 C989.8 1484.0 992.7 1487.3 993.0 1489.0 C993.3 1490.7 991.7 1493.3 990.0 1494.0 C988.3 1494.7 984.3 1493.8 983.0 1493.0 C981.7 1492.2 981.2 1490.5 982.0 1489.0Z" fill="#ccffff" stroke="#000" stroke-width="1.0" stroke-linejoin="round"/>
<path d="M383.0 1582.0 L394.0 1580.0 L388.0 1594.0Z" fill="#ffd9d9" stroke="#000" stroke-width="1.0" stroke-linejoin="round"/>
<path d="M347.0 1523.0 L353.0 1516.0 L358.0 1526.0Z" fill="#ffd9d9" stroke="#000" stroke-width="1.0" stroke-linejoin="round"/>
<path d="M326.0 1438.0 L336.0 1437.0 L331.0 1442.0Z" fill="#ffd9d9" stroke="#000" stroke-width="1.0" stroke-linejoin="round"/>
<path d="M988.0 1323.0 L992.0 1312.0 L995.0 1323.0Z" fill="#ffffff" stroke="#000" stroke-width="2.5" stroke-linejoin="round"/>
<path d="M1359.0 1412.0 L1373.0 1411.0 L1371.0 1421.0 L1362.0 1421.0Z" fill="#ccffff"/>
<path d="M1374.0 1391.0 L1381.0 1391.0 L1381.0 1396.0 L1374.0 1396.0Z" fill="#ccffff"/>
<path d="M1335.0 1505.0 L1341.0 1505.0 L1342.4 1521.0 L1337.0 1521.0Z" fill="#ccffff"/>
<path d="M1362.0 1527.0 L1379.0 1525.0 L1379.0 1537.0 L1362.0 1537.0Z" fill="#ccffff"/>
<path d="M1366.0 1540.0 L1373.0 1540.0 L1373.0 1548.0 L1366.0 1548.0Z" fill="#ccffff"/>
<path d="M1397.6 1546.6 L1405.6 1546.6 L1405.6 1553.0 L1397.6 1553.0Z" fill="#ccffff"/>
<path d="M1342.0 1453.0 L1349.0 1453.0 L1349.0 1463.0 L1342.0 1463.0Z" fill="#ccffff"/>
<path d="M1063.0 198.0 C1063.8 202.0 1066.2 215.3 1068.0 222.0 C1069.8 228.7 1071.0 234.0 1074.0 238.0 C1077.0 242.0 1082.3 243.0 1086.0 246.0 C1089.7 249.0 1092.0 253.3 1096.0 256.0 C1100.0 258.7 1105.7 260.2 1110.0 262.0 C1114.3 263.8 1120.0 266.2 1122.0 267.0" fill="none" stroke="#000" stroke-width="4.2" stroke-linejoin="round" stroke-linecap="round"/>
<path d="M1119.0 198.0 C1119.5 200.3 1120.2 208.3 1122.0 212.0 C1123.8 215.7 1127.7 217.3 1130.0 220.0 C1132.3 222.7 1134.7 225.0 1136.0 228.0 C1137.3 231.0 1138.7 235.0 1138.0 238.0 C1137.3 241.0 1133.0 244.7 1132.0 246.0" fill="none" stroke="#000" stroke-width="4.2" stroke-linejoin="round" stroke-linecap="round"/>
<path d="M1042.0 196.0 L1040.0 238.0 L1048.0 248.0 L1060.0 258.0 L1080.0 270.0 L1100.0 286.0 L1116.0 298.0" fill="none" stroke="#000" stroke-width="2.2" stroke-linejoin="round" stroke-linecap="round"/>
<path d="M786.7 280.7 L796.7 290.0 L787.3 303.3 L778.0 290.7Z" fill="none" stroke="#000" stroke-width="4.2" stroke-linejoin="round" stroke-linecap="round"/>
<path d="M786.0 512.0 C787.3 508.0 790.7 505.2 794.0 504.0 C797.3 502.8 802.7 503.3 806.0 505.0 C809.3 506.7 813.0 508.5 814.0 514.0 C815.0 519.5 815.7 533.7 812.0 538.0 C808.3 542.3 796.3 541.7 792.0 540.0 C787.7 538.3 787.0 532.7 786.0 528.0 C785.0 523.3 784.7 516.0 786.0 512.0Z" fill="none" stroke="#000" stroke-width="4.2" stroke-linejoin="round" stroke-linecap="round"/>
<path d="M779.0 530.0 C780.8 526.0 786.5 510.8 790.0 506.0 C793.5 501.2 796.7 501.5 800.0 501.0 C803.3 500.5 807.0 500.8 810.0 503.0 C813.0 505.2 817.0 508.5 818.0 514.0 C819.0 519.5 816.3 532.3 816.0 536.0" fill="none" stroke="#000" stroke-width="2.2" stroke-linejoin="round" stroke-linecap="round"/>
<path d="M427.0 1031.0 C428.2 1032.5 431.8 1037.3 434.0 1040.0 C436.2 1042.7 435.7 1044.3 440.0 1047.0 C444.3 1049.7 453.3 1053.7 460.0 1056.0 C466.7 1058.3 474.0 1061.0 480.0 1061.0 C486.0 1061.0 490.7 1058.5 496.0 1056.0 C501.3 1053.5 507.3 1049.0 512.0 1046.0 C516.7 1043.0 519.3 1040.0 524.0 1038.0 C528.7 1036.0 534.0 1034.3 540.0 1034.0 C546.0 1033.7 554.0 1034.7 560.0 1036.0 C566.0 1037.3 572.7 1038.3 576.0 1042.0 C579.3 1045.7 575.3 1056.7 580.0 1058.0 C584.7 1059.3 596.3 1052.0 604.0 1050.0 C611.7 1048.0 619.3 1045.7 626.0 1046.0 C632.7 1046.3 638.3 1049.7 644.0 1052.0 C649.7 1054.3 656.0 1056.7 660.0 1060.0 C664.0 1063.3 664.0 1068.0 668.0 1072.0 C672.0 1076.0 678.0 1081.3 684.0 1084.0 C690.0 1086.7 699.0 1086.0 704.0 1088.0 C709.0 1090.0 711.0 1092.3 714.0 1096.0 C717.0 1099.7 721.0 1104.7 722.0 1110.0 C723.0 1115.3 721.7 1122.3 720.0 1128.0 C718.3 1133.7 715.3 1139.3 712.0 1144.0 C708.7 1148.7 702.0 1152.7 700.0 1156.0 C698.0 1159.3 698.0 1162.3 700.0 1164.0 C702.0 1165.7 708.7 1166.0 712.0 1166.0 C715.3 1166.0 717.7 1167.3 720.0 1164.0 C722.3 1160.7 724.3 1151.3 726.0 1146.0 C727.7 1140.7 728.0 1134.3 730.0 1132.0 C732.0 1129.7 735.7 1130.7 738.0 1132.0 C740.3 1133.3 742.3 1136.7 744.0 1140.0 C745.7 1143.3 748.0 1147.0 748.0 1152.0 C748.0 1157.0 744.3 1164.3 744.0 1170.0 C743.7 1175.7 746.7 1181.7 746.0 1186.0 C745.3 1190.3 743.7 1195.0 740.0 1196.0 C736.3 1197.0 730.0 1193.7 724.0 1192.0 C718.0 1190.3 710.0 1188.0 704.0 1186.0 C698.0 1184.0 693.3 1180.3 688.0 1180.0 C682.7 1179.7 678.3 1181.7 672.0 1184.0 C665.7 1186.3 654.0 1190.0 650.0 1194.0 C646.0 1198.0 648.0 1203.0 648.0 1208.0 C648.0 1213.0 652.7 1219.3 650.0 1224.0 C647.3 1228.7 633.7 1231.7 632.0 1236.0 C630.3 1240.3 636.3 1245.3 640.0 1250.0 C643.7 1254.7 649.3 1259.3 654.0 1264.0 C658.7 1268.7 665.7 1275.7 668.0 1278.0" fill="none" stroke="#000" stroke-width="4.2" stroke-linejoin="round" stroke-linecap="round"/>
<path d="M592.0 1146.0 C593.0 1142.3 596.0 1141.7 600.0 1142.0 C604.0 1142.3 611.0 1145.7 616.0 1148.0 C621.0 1150.3 626.3 1152.7 630.0 1156.0 C633.7 1159.3 635.3 1163.7 638.0 1168.0 C640.7 1172.3 644.2 1177.5 646.0 1182.0 C647.8 1186.5 651.7 1191.3 649.0 1195.0 C646.3 1198.7 636.8 1203.5 630.0 1204.0 C623.2 1204.5 612.7 1201.0 608.0 1198.0 C603.3 1195.0 603.7 1189.7 602.0 1186.0 C600.3 1182.3 599.3 1179.7 598.0 1176.0 C596.7 1172.3 595.0 1169.0 594.0 1164.0 C593.0 1159.0 591.0 1149.7 592.0 1146.0Z" fill="none" stroke="#000" stroke-width="4.2" stroke-linejoin="round" stroke-linecap="round"/>
<path d="M582.0 1236.0 L590.0 1224.0 L598.0 1232.0 L604.0 1238.0 L590.0 1246.0Z" fill="none" stroke="#000" stroke-width="4.2" stroke-linejoin="round" stroke-linecap="round"/>
<path d="M738.0 1106.0 C737.7 1101.3 739.7 1085.3 742.0 1080.0 C744.3 1074.7 749.0 1074.7 752.0 1074.0 C755.0 1073.3 756.7 1073.7 760.0 1076.0 C763.3 1078.3 770.7 1083.3 772.0 1088.0 C773.3 1092.7 769.7 1100.7 768.0 1104.0 C766.3 1107.3 766.0 1107.3 762.0 1108.0 C758.0 1108.7 748.0 1108.3 744.0 1108.0 C740.0 1107.7 738.3 1110.7 738.0 1106.0Z" fill="none" stroke="#000" stroke-width="4.2" stroke-linejoin="round" stroke-linecap="round"/>
<path d="M773.0 1128.0 L776.0 1112.0 L792.0 1110.0 L800.0 1122.0 L780.0 1138.0Z" fill="none" stroke="#000" stroke-width="4.2" stroke-linejoin="round" stroke-linecap="round"/>
<path d="M804.0 1090.0 C804.0 1087.3 807.0 1082.7 810.0 1082.0 C813.0 1081.3 820.3 1083.3 822.0 1086.0 C823.7 1088.7 822.0 1096.0 820.0 1098.0 C818.0 1100.0 812.7 1099.3 810.0 1098.0 C807.3 1096.7 804.0 1092.7 804.0 1090.0Z" fill="none" stroke="#000" stroke-width="4.2" stroke-linejoin="round" stroke-linecap="round"/>
<path d="M785.0 1088.0 L792.0 1089.0" fill="none" stroke="#000" stroke-width="7.0" stroke-linejoin="round" stroke-linecap="round"/>
<path d="M806.0 1030.4 L811.0 1031.0" fill="none" stroke="#000" stroke-width="3.0" stroke-linejoin="round" stroke-linecap="round"/>
<path d="M832.0 1032.0 C833.3 1030.2 837.3 1029.0 840.0 1029.0 C842.7 1029.0 843.3 1029.8 848.0 1032.0 C852.7 1034.2 863.8 1038.7 868.0 1042.0 C872.2 1045.3 872.8 1048.0 873.0 1052.0 C873.2 1056.0 871.5 1062.7 869.0 1066.0 C866.5 1069.3 860.8 1069.7 858.0 1072.0 C855.2 1074.3 853.7 1076.3 852.0 1080.0 C850.3 1083.7 849.7 1090.3 848.0 1094.0 C846.3 1097.7 843.7 1102.0 842.0 1102.0 C840.3 1102.0 838.3 1099.0 838.0 1094.0 C837.7 1089.0 839.3 1077.7 840.0 1072.0 C840.7 1066.3 842.3 1064.0 842.0 1060.0 C841.7 1056.0 839.7 1051.3 838.0 1048.0 C836.3 1044.7 833.0 1042.7 832.0 1040.0 C831.0 1037.3 830.7 1033.8 832.0 1032.0Z" fill="none" stroke="#000" stroke-width="4.2" stroke-linejoin="round" stroke-linecap="round"/>
<path d="M920.0 1052.0 C917.0 1051.7 912.7 1052.7 910.0 1054.0 C907.3 1055.3 904.7 1057.0 904.0 1060.0 C903.3 1063.0 904.7 1068.7 906.0 1072.0 C907.3 1075.3 909.7 1078.3 912.0 1080.0 C914.3 1081.7 917.3 1082.7 920.0 1082.0 C922.7 1081.3 925.8 1079.0 928.0 1076.0 C930.2 1073.0 933.0 1067.3 933.0 1064.0 C933.0 1060.7 930.2 1058.0 928.0 1056.0 C925.8 1054.0 923.0 1052.3 920.0 1052.0Z" fill="none" stroke="#000" stroke-width="4.2" stroke-linejoin="round" stroke-linecap="round"/>
<path d="M330.0 1253.0 C329.0 1255.5 326.3 1263.5 324.0 1268.0 C321.7 1272.5 316.7 1274.7 316.0 1280.0 C315.3 1285.3 319.0 1293.3 320.0 1300.0 C321.0 1306.7 319.3 1315.3 322.0 1320.0 C324.7 1324.7 329.3 1326.3 336.0 1328.0 C342.7 1329.7 357.3 1328.0 362.0 1330.0 C366.7 1332.0 364.7 1337.0 364.0 1340.0 C363.3 1343.0 359.0 1344.0 358.0 1348.0 C357.0 1352.0 357.0 1358.7 358.0 1364.0 C359.0 1369.3 362.8 1374.0 364.0 1380.0 C365.2 1386.0 365.7 1394.0 365.0 1400.0 C364.3 1406.0 361.8 1410.7 360.0 1416.0 C358.2 1421.3 355.7 1426.7 354.0 1432.0 C352.3 1437.3 352.3 1443.7 350.0 1448.0 C347.7 1452.3 342.0 1454.3 340.0 1458.0 C338.0 1461.7 337.3 1466.3 338.0 1470.0 C338.7 1473.7 340.3 1476.7 344.0 1480.0 C347.7 1483.3 353.3 1487.3 360.0 1490.0 C366.7 1492.7 379.8 1491.3 384.0 1496.0 C388.2 1500.7 384.3 1516.7 385.0 1518.0 C385.7 1519.3 385.5 1506.7 388.0 1504.0 C390.5 1501.3 395.3 1501.3 400.0 1502.0 C404.7 1502.7 411.7 1507.3 416.0 1508.0 C420.3 1508.7 423.7 1508.7 426.0 1506.0 C428.3 1503.3 427.7 1496.3 430.0 1492.0 C432.3 1487.7 435.7 1482.8 440.0 1480.0 C444.3 1477.2 450.7 1475.5 456.0 1475.0 C461.3 1474.5 467.3 1474.8 472.0 1477.0 C476.7 1479.2 479.3 1484.5 484.0 1488.0 C488.7 1491.5 494.0 1494.3 500.0 1498.0 C506.0 1501.7 516.3 1507.2 520.0 1510.0 C523.7 1512.8 521.7 1514.2 522.0 1515.0" fill="none" stroke="#000" stroke-width="4.2" stroke-linejoin="round" stroke-linecap="round"/>
<path d="M291.0 1408.0 C292.5 1408.7 297.7 1410.3 300.0 1412.0 C302.3 1413.7 304.3 1415.3 305.0 1418.0 C305.7 1420.7 305.5 1425.2 304.0 1428.0 C302.5 1430.8 300.0 1433.7 296.0 1435.0 C292.0 1436.3 282.7 1435.8 280.0 1436.0" fill="none" stroke="#000" stroke-width="4.2" stroke-linejoin="round" stroke-linecap="round"/>
<path d="M417.0 1418.0 C418.0 1415.8 422.8 1415.0 426.0 1412.0 C429.2 1409.0 431.7 1404.7 436.0 1400.0 C440.3 1395.3 447.0 1388.7 452.0 1384.0 C457.0 1379.3 462.7 1374.5 466.0 1372.0 C469.3 1369.5 469.7 1368.7 472.0 1369.0 C474.3 1369.3 478.3 1371.5 480.0 1374.0 C481.7 1376.5 479.7 1380.3 482.0 1384.0 C484.3 1387.7 489.0 1392.7 494.0 1396.0 C499.0 1399.3 508.0 1401.3 512.0 1404.0 C516.0 1406.7 517.3 1409.0 518.0 1412.0 C518.7 1415.0 517.7 1419.3 516.0 1422.0 C514.3 1424.7 512.3 1426.3 508.0 1428.0 C503.7 1429.7 496.0 1430.8 490.0 1432.0 C484.0 1433.2 478.3 1434.8 472.0 1435.0 C465.7 1435.2 459.0 1434.0 452.0 1433.0 C445.0 1432.0 435.3 1430.3 430.0 1429.0 C424.7 1427.7 422.2 1426.8 420.0 1425.0 C417.8 1423.2 416.0 1420.2 417.0 1418.0Z" fill="none" stroke="#000" stroke-width="4.2" stroke-linejoin="round" stroke-linecap="round"/>
<path d="M448.0 1523.0 L448.0 1529.0" fill="none" stroke="#000" stroke-width="9.0" stroke-linejoin="round" stroke-linecap="round"/>
<path d="M416.0 1538.6 L417.2 1539.4" fill="none" stroke="#000" stroke-width="5.0" stroke-linejoin="round" stroke-linecap="round"/>
<path d="M384.4 1512.0 L385.0 1518.0" fill="none" stroke="#000" stroke-width="6.0" stroke-linejoin="round" stroke-linecap="round"/>
<path d="M574.0 1312.0 C574.7 1309.0 578.3 1304.7 582.0 1303.0 C585.7 1301.3 592.0 1300.8 596.0 1302.0 C600.0 1303.2 604.0 1306.3 606.0 1310.0 C608.0 1313.7 609.0 1320.5 608.0 1324.0 C607.0 1327.5 603.7 1330.3 600.0 1331.0 C596.3 1331.7 589.7 1329.7 586.0 1328.0 C582.3 1326.3 580.0 1323.7 578.0 1321.0 C576.0 1318.3 573.3 1315.0 574.0 1312.0Z" fill="none" stroke="#000" stroke-width="4.2" stroke-linejoin="round" stroke-linecap="round"/>
<path d="M560.0 1398.0 C561.0 1397.0 563.0 1393.3 566.0 1392.0 C569.0 1390.7 574.8 1389.7 578.0 1390.0 C581.2 1390.3 585.7 1391.3 585.0 1394.0 C584.3 1396.7 576.8 1403.0 574.0 1406.0 C571.2 1409.0 569.7 1409.7 568.0 1412.0 C566.3 1414.3 565.3 1418.7 564.0 1420.0 C562.7 1421.3 560.7 1420.0 560.0 1420.0" fill="none" stroke="#000" stroke-width="4.2" stroke-linejoin="round" stroke-linecap="round"/>
<path d="M560.0 1600.0 C561.3 1598.3 566.0 1593.3 568.0 1590.0 C570.0 1586.7 571.3 1581.7 572.0 1580.0" fill="none" stroke="#000" stroke-width="4.2" stroke-linejoin="round" stroke-linecap="round"/>
<path d="M684.0 1598.0 C684.3 1596.3 683.7 1590.2 686.0 1588.0 C688.3 1585.8 694.0 1584.8 698.0 1585.0 C702.0 1585.2 707.0 1586.8 710.0 1589.0 C713.0 1591.2 715.0 1596.5 716.0 1598.0" fill="none" stroke="#000" stroke-width="4.2" stroke-linejoin="round" stroke-linecap="round"/>
<path d="M661.0 1544.0 C661.0 1542.9 662.9 1541.0 664.0 1541.0 C665.1 1541.0 667.4 1542.9 667.4 1544.0 C667.4 1545.1 665.1 1547.6 664.0 1547.6 C662.9 1547.6 661.0 1545.1 661.0 1544.0Z" fill="none" stroke="#000" stroke-width="4.2" stroke-linejoin="round" stroke-linecap="round"/>
<path d="M889.0 1601.0 C888.0 1599.7 885.5 1595.3 883.0 1593.0 C880.5 1590.7 876.2 1589.0 874.0 1587.0 C871.8 1585.0 870.8 1582.8 870.0 1581.0 C869.2 1579.2 868.7 1578.2 869.0 1576.0 C869.3 1573.8 870.8 1570.1 872.0 1568.0 C873.2 1565.9 873.8 1564.8 876.0 1563.5 C878.2 1562.2 882.2 1561.2 885.0 1560.0 C887.8 1558.8 890.7 1557.5 893.0 1556.0 C895.3 1554.5 897.3 1552.8 899.0 1551.0 C900.7 1549.2 902.0 1547.0 903.0 1545.0 C904.0 1543.0 903.8 1540.5 905.0 1539.0 C906.2 1537.5 908.2 1537.2 910.0 1536.0 C911.8 1534.8 914.4 1532.8 916.0 1532.0 C917.6 1531.2 918.9 1531.2 919.5 1531.0" fill="none" stroke="#000" stroke-width="5.0" stroke-linejoin="round" stroke-linecap="round"/>
<path d="M901.0 1601.0 C900.6 1600.0 899.0 1597.8 898.5 1595.0 C898.0 1592.2 898.0 1587.2 898.0 1584.0 C898.0 1580.8 898.0 1578.2 898.5 1576.0 C899.0 1573.8 900.6 1571.8 901.0 1571.0" fill="none" stroke="#000" stroke-width="4.2" stroke-linejoin="round" stroke-linecap="round"/>
<path d="M837.0 1415.0 C840.2 1414.5 849.5 1412.3 856.0 1412.0 C862.5 1411.7 872.7 1412.8 876.0 1413.0" fill="none" stroke="#000" stroke-width="4.2" stroke-linejoin="round" stroke-linecap="round"/>
<path d="M982.0 1509.0 C985.0 1509.8 994.3 1512.3 1000.0 1514.0 C1005.7 1515.7 1012.0 1518.3 1016.0 1519.0 C1020.0 1519.7 1021.3 1519.5 1024.0 1518.0 C1026.7 1516.5 1029.3 1512.5 1032.0 1510.0 C1034.7 1507.5 1037.2 1503.5 1040.0 1503.0 C1042.8 1502.5 1047.5 1506.3 1049.0 1507.0" fill="none" stroke="#000" stroke-width="4.2" stroke-linejoin="round" stroke-linecap="round"/>
<path d="M1071.0 1466.0 L1090.0 1479.0" fill="none" stroke="#000" stroke-width="4.2" stroke-linejoin="round" stroke-linecap="round"/>
<path d="M1012.0 1528.0 L1024.0 1529.0" fill="none" stroke="#000" stroke-width="3.0" stroke-linejoin="round" stroke-linecap="round"/>
<path d="M1042.0 1544.0 L1052.0 1532.0" fill="none" stroke="#000" stroke-width="3.0" stroke-linejoin="round" stroke-linecap="round"/>
<path d="M1037.3 1172.0 L1038.7 1181.3 L1045.3 1185.3 L1050.7 1190.7 L1060.0 1193.3 L1069.3 1192.0 L1062.7 1181.3 L1053.3 1180.0 L1048.0 1178.7 L1041.3 1176.0Z" fill="none" stroke="#000" stroke-width="4.2" stroke-linejoin="round" stroke-linecap="round"/>
<path d="M1148.0 1172.0 C1150.0 1169.2 1154.7 1166.0 1158.0 1165.0 C1161.3 1164.0 1164.7 1164.2 1168.0 1166.0 C1171.3 1167.8 1174.3 1172.0 1178.0 1176.0 C1181.7 1180.0 1187.3 1184.3 1190.0 1190.0 C1192.7 1195.7 1192.7 1203.0 1194.0 1210.0 C1195.3 1217.0 1195.7 1226.3 1198.0 1232.0 C1200.3 1237.7 1206.0 1240.0 1208.0 1244.0 C1210.0 1248.0 1211.3 1252.3 1210.0 1256.0 C1208.7 1259.7 1203.3 1264.3 1200.0 1266.0 C1196.7 1267.7 1193.3 1267.7 1190.0 1266.0 C1186.7 1264.3 1183.7 1259.0 1180.0 1256.0 C1176.3 1253.0 1172.7 1250.0 1168.0 1248.0 C1163.3 1246.0 1156.7 1245.7 1152.0 1244.0 C1147.3 1242.3 1142.7 1241.3 1140.0 1238.0 C1137.3 1234.7 1136.0 1229.0 1136.0 1224.0 C1136.0 1219.0 1138.3 1212.7 1140.0 1208.0 C1141.7 1203.3 1145.0 1200.3 1146.0 1196.0 C1147.0 1191.7 1145.7 1186.0 1146.0 1182.0 C1146.3 1178.0 1146.0 1174.8 1148.0 1172.0Z" fill="none" stroke="#000" stroke-width="4.2" stroke-linejoin="round" stroke-linecap="round"/>
<path d="M1206.7 1189.3 C1206.0 1188.0 1202.9 1180.9 1202.7 1176.0 C1202.4 1171.1 1203.6 1164.0 1205.3 1160.0 C1207.1 1156.0 1210.4 1154.0 1213.3 1152.0 C1216.2 1150.0 1221.6 1150.4 1222.7 1148.0 C1223.8 1145.6 1221.1 1141.1 1220.0 1137.3 C1218.9 1133.6 1216.8 1129.6 1216.0 1125.3 C1215.2 1121.1 1214.9 1115.8 1215.3 1112.0 C1215.8 1108.2 1217.0 1106.0 1218.7 1102.7 C1220.3 1099.3 1223.3 1096.0 1225.3 1092.0 C1227.3 1088.0 1229.3 1083.3 1230.7 1078.7 C1232.0 1074.0 1233.1 1069.3 1233.3 1064.0 C1233.6 1058.7 1232.0 1052.2 1232.0 1046.7 C1232.0 1041.1 1231.6 1033.4 1233.3 1030.7 C1235.1 1027.9 1239.1 1030.4 1242.7 1030.0 C1246.2 1029.6 1251.3 1029.7 1254.7 1028.0 C1258.0 1026.3 1259.6 1022.1 1262.7 1020.0 C1265.8 1017.9 1269.3 1016.4 1273.3 1015.3 C1277.3 1014.2 1282.7 1013.6 1286.7 1013.3 C1290.7 1013.1 1294.2 1013.1 1297.3 1014.0 C1300.4 1014.9 1302.7 1016.6 1305.3 1018.7 C1308.0 1020.8 1310.7 1024.4 1313.3 1026.7 C1316.0 1028.9 1318.0 1030.4 1321.3 1032.0 C1324.7 1033.6 1329.6 1034.4 1333.3 1036.0 C1337.1 1037.6 1340.9 1038.7 1344.0 1041.3 C1347.1 1044.0 1351.1 1048.7 1352.0 1052.0 C1352.9 1055.3 1350.4 1058.4 1349.3 1061.3 C1348.2 1064.2 1346.6 1066.6 1345.3 1069.3 C1344.1 1072.1 1341.8 1074.9 1342.0 1078.0 C1342.2 1081.1 1344.8 1084.8 1346.7 1088.0 C1348.6 1091.2 1351.6 1093.6 1353.3 1097.3 C1355.1 1101.1 1356.4 1106.2 1357.3 1110.7 C1358.2 1115.1 1358.9 1119.6 1358.7 1124.0 C1358.4 1128.4 1357.8 1133.1 1356.0 1137.3 C1354.2 1141.6 1351.1 1146.0 1348.0 1149.3 C1344.9 1152.7 1340.9 1155.3 1337.3 1157.3 C1333.8 1159.3 1329.3 1160.0 1326.7 1161.3 C1324.0 1162.7 1322.2 1162.9 1321.3 1165.3 C1320.4 1167.8 1322.0 1173.1 1321.3 1176.0 C1320.7 1178.9 1319.8 1181.1 1317.3 1182.7 C1314.9 1184.2 1310.0 1186.0 1306.7 1185.3 C1303.3 1184.7 1300.0 1180.4 1297.3 1178.7 C1294.7 1176.9 1293.3 1175.3 1290.7 1174.7 C1288.0 1174.0 1283.8 1173.1 1281.3 1174.7 C1278.9 1176.2 1277.3 1180.9 1276.0 1184.0 C1274.7 1187.1 1274.9 1190.9 1273.3 1193.3 C1271.8 1195.8 1268.9 1198.2 1266.7 1198.7 C1264.4 1199.1 1261.8 1197.6 1260.0 1196.0 C1258.2 1194.4 1257.3 1191.1 1256.0 1189.3 C1254.7 1187.6 1254.0 1185.1 1252.0 1185.3 C1250.0 1185.6 1246.7 1188.7 1244.0 1190.7 C1241.3 1192.7 1238.2 1195.8 1236.0 1197.3 C1233.8 1198.9 1231.8 1200.0 1230.7 1200.0 C1229.6 1200.0 1231.6 1198.9 1229.3 1197.3 C1227.1 1195.8 1221.1 1192.9 1217.3 1190.7 C1213.6 1188.4 1208.4 1184.2 1206.7 1184.0 C1204.9 1183.8 1207.3 1190.7 1206.7 1189.3Z" fill="none" stroke="#000" stroke-width="4.2" stroke-linejoin="round" stroke-linecap="round"/>
<path d="M1281.3 1126.7 C1280.4 1125.8 1284.4 1123.1 1285.3 1118.7 C1286.2 1114.2 1285.6 1103.7 1286.7 1100.0 C1287.8 1096.3 1289.8 1097.3 1292.0 1096.7 C1294.2 1096.0 1298.0 1094.8 1300.0 1096.0 C1302.0 1097.2 1302.9 1100.0 1304.0 1104.0 C1305.1 1108.0 1306.4 1116.4 1306.7 1120.0 C1306.9 1123.6 1306.7 1124.1 1305.3 1125.3 C1304.0 1126.6 1301.1 1127.6 1298.7 1127.3 C1296.2 1127.1 1293.6 1124.1 1290.7 1124.0 C1287.8 1123.9 1282.2 1127.6 1281.3 1126.7Z" fill="none" stroke="#000" stroke-width="4.2" stroke-linejoin="round" stroke-linecap="round"/>
<path d="M1275.3 1133.3 L1276.7 1134.7" fill="none" stroke="#000" stroke-width="10.0" stroke-linejoin="round" stroke-linecap="round"/>
<path d="M1324.7 1179.3 C1324.4 1177.9 1327.0 1176.1 1329.3 1175.3 C1331.7 1174.6 1336.1 1174.1 1338.7 1174.7 C1341.2 1175.2 1344.4 1177.2 1344.7 1178.7 C1344.9 1180.1 1342.3 1182.4 1340.0 1183.3 C1337.7 1184.2 1333.2 1184.7 1330.7 1184.0 C1328.1 1183.3 1324.9 1180.8 1324.7 1179.3Z" fill="none" stroke="#000" stroke-width="4.2" stroke-linejoin="round" stroke-linecap="round"/>
<path d="M1378.0 1136.0 L1387.3 1136.0" fill="none" stroke="#000" stroke-width="9.0" stroke-linejoin="round" stroke-linecap="round"/>
<path d="M1408.7 1124.7 C1409.9 1124.8 1414.6 1123.4 1416.0 1125.3 C1417.4 1127.2 1417.1 1134.2 1417.3 1136.0" fill="none" stroke="#000" stroke-width="4.2" stroke-linejoin="round" stroke-linecap="round"/>
<path d="M1250.7 1234.7 C1250.7 1231.1 1251.8 1227.4 1253.3 1225.3 C1254.9 1223.2 1257.8 1222.0 1260.0 1222.0 C1262.2 1222.0 1264.9 1222.8 1266.7 1225.3 C1268.4 1227.9 1270.3 1233.6 1270.7 1237.3 C1271.0 1241.1 1269.8 1245.1 1268.7 1248.0 C1267.6 1250.9 1265.7 1253.4 1264.0 1254.7 C1262.3 1255.9 1260.4 1256.7 1258.7 1255.3 C1256.9 1254.0 1254.7 1250.1 1253.3 1246.7 C1252.0 1243.2 1250.7 1238.2 1250.7 1234.7Z" fill="none" stroke="#000" stroke-width="4.2" stroke-linejoin="round" stroke-linecap="round"/>
<path d="M1260.0 1236.4 L1260.8 1237.3" fill="none" stroke="#000" stroke-width="5.0" stroke-linejoin="round" stroke-linecap="round"/>
<path d="M1200.0 1289.3 C1200.4 1287.6 1201.3 1285.0 1204.0 1284.0 C1206.7 1283.0 1211.8 1283.3 1216.0 1283.3 C1220.2 1283.3 1225.3 1283.8 1229.3 1284.0 C1233.3 1284.2 1236.9 1285.8 1240.0 1284.7 C1243.1 1283.6 1244.9 1279.2 1248.0 1277.3 C1251.1 1275.4 1255.3 1274.0 1258.7 1273.3 C1262.0 1272.7 1265.8 1272.7 1268.0 1273.3 C1270.2 1274.0 1271.0 1274.9 1272.0 1277.3 C1273.0 1279.8 1273.8 1284.4 1274.0 1288.0 C1274.2 1291.6 1274.3 1296.2 1273.3 1298.7 C1272.3 1301.1 1270.0 1302.7 1268.0 1302.7 C1266.0 1302.7 1263.8 1299.6 1261.3 1298.7 C1258.9 1297.8 1256.0 1298.2 1253.3 1297.3 C1250.7 1296.4 1248.4 1293.8 1245.3 1293.3 C1242.2 1292.9 1238.4 1294.0 1234.7 1294.7 C1230.9 1295.3 1226.2 1295.8 1222.7 1297.3 C1219.1 1298.9 1216.2 1303.6 1213.3 1304.0 C1210.4 1304.4 1207.3 1301.6 1205.3 1300.0 C1203.3 1298.4 1202.2 1296.4 1201.3 1294.7 C1200.4 1292.9 1199.6 1291.1 1200.0 1289.3Z" fill="none" stroke="#000" stroke-width="4.2" stroke-linejoin="round" stroke-linecap="round"/>
<path d="M1268.0 1302.7 C1269.1 1303.3 1273.1 1304.7 1274.7 1306.7 C1276.2 1308.7 1277.1 1311.3 1277.3 1314.7 C1277.6 1318.0 1277.3 1323.8 1276.0 1326.7 C1274.7 1329.6 1270.9 1330.2 1269.3 1332.0 C1267.8 1333.8 1268.0 1336.9 1266.7 1337.3 C1265.3 1337.8 1262.4 1335.6 1261.3 1334.7 C1260.2 1333.8 1259.3 1333.8 1260.0 1332.0 C1260.7 1330.2 1264.2 1327.1 1265.3 1324.0 C1266.4 1320.9 1266.4 1316.7 1266.7 1313.3 C1266.9 1310.0 1266.7 1305.6 1266.7 1304.0" fill="none" stroke="#000" stroke-width="4.2" stroke-linejoin="round" stroke-linecap="round"/>
<path d="M1306.7 1278.7 C1307.6 1276.2 1311.8 1274.0 1314.7 1273.3 C1317.6 1272.7 1321.6 1273.3 1324.0 1274.7 C1326.4 1276.0 1328.9 1278.2 1329.3 1281.3 C1329.8 1284.4 1327.8 1290.7 1326.7 1293.3 C1325.6 1296.0 1324.7 1296.7 1322.7 1297.3 C1320.7 1298.0 1316.9 1298.9 1314.7 1297.3 C1312.4 1295.8 1310.7 1291.1 1309.3 1288.0 C1308.0 1284.9 1305.8 1281.1 1306.7 1278.7Z" fill="none" stroke="#000" stroke-width="4.2" stroke-linejoin="round" stroke-linecap="round"/>
<path d="M1331.3 1313.3 L1338.7 1310.7 L1346.7 1322.7 L1340.0 1329.3 L1333.3 1324.0Z" fill="none" stroke="#000" stroke-width="4.2" stroke-linejoin="round" stroke-linecap="round"/>
<path d="M1261.3 1364.0 C1261.6 1360.3 1265.8 1352.4 1268.0 1349.3 C1270.2 1346.2 1272.2 1345.6 1274.7 1345.3 C1277.1 1345.1 1281.1 1346.7 1282.7 1348.0 C1284.2 1349.3 1284.4 1350.0 1284.0 1353.3 C1283.6 1356.7 1281.6 1364.9 1280.0 1368.0 C1278.4 1371.1 1276.9 1371.4 1274.7 1372.0 C1272.4 1372.6 1268.9 1372.7 1266.7 1371.3 C1264.4 1370.0 1261.1 1367.7 1261.3 1364.0Z" fill="none" stroke="#000" stroke-width="4.2" stroke-linejoin="round" stroke-linecap="round"/>
<path d="M1400.0 1250.0 C1397.2 1251.8 1395.3 1256.0 1394.0 1259.0 C1392.7 1262.0 1391.0 1265.2 1392.0 1268.0 C1393.0 1270.8 1396.3 1274.0 1400.0 1276.0 C1403.7 1278.0 1410.2 1280.7 1414.0 1280.0 C1417.8 1279.3 1421.8 1276.0 1423.0 1272.0 C1424.2 1268.0 1423.0 1260.0 1421.0 1256.0 C1419.0 1252.0 1414.5 1249.0 1411.0 1248.0 C1407.5 1247.0 1402.8 1248.2 1400.0 1250.0Z" fill="none" stroke="#000" stroke-width="4.2" stroke-linejoin="round" stroke-linecap="round"/>
<path d="M1321.3 1378.7 C1322.0 1377.6 1322.7 1373.8 1325.3 1372.0 C1328.0 1370.2 1333.1 1369.3 1337.3 1368.0 C1341.6 1366.7 1346.9 1365.8 1350.7 1364.0 C1354.4 1362.2 1357.6 1360.2 1360.0 1357.3 C1362.4 1354.4 1363.6 1349.8 1365.3 1346.7 C1367.1 1343.6 1368.7 1338.7 1370.7 1338.7 C1372.7 1338.7 1375.1 1343.6 1377.3 1346.7 C1379.6 1349.8 1381.3 1354.7 1384.0 1357.3 C1386.7 1360.0 1390.7 1360.4 1393.3 1362.7 C1396.0 1364.9 1401.1 1371.1 1400.0 1370.7 C1398.9 1370.2 1387.4 1360.7 1386.7 1360.0 C1385.9 1359.3 1393.3 1364.4 1395.3 1366.7 C1397.3 1368.9 1398.9 1371.1 1398.7 1373.3 C1398.4 1375.6 1394.8 1377.8 1394.0 1380.0 C1393.2 1382.2 1394.0 1385.6 1394.0 1386.7" fill="none" stroke="#000" stroke-width="4.2" stroke-linejoin="round" stroke-linecap="round"/>
<path d="M1456.0 1346.7 C1455.6 1347.6 1453.8 1349.3 1453.3 1352.0 C1452.9 1354.7 1455.1 1360.3 1453.3 1362.7 C1451.6 1365.0 1445.8 1365.1 1442.7 1366.0 C1439.6 1366.9 1436.1 1366.8 1434.7 1368.0 C1433.2 1369.2 1434.1 1372.4 1434.0 1373.3" fill="none" stroke="#000" stroke-width="4.2" stroke-linejoin="round" stroke-linecap="round"/>
<path d="M1458.7 1397.3 C1457.8 1398.7 1456.0 1403.6 1453.3 1405.3 C1450.7 1407.1 1446.0 1406.2 1442.7 1408.0 C1439.3 1409.8 1436.0 1412.9 1433.3 1416.0 C1430.7 1419.1 1428.0 1423.3 1426.7 1426.7 C1425.3 1430.0 1426.9 1433.8 1425.3 1436.0 C1423.8 1438.2 1418.9 1438.4 1417.3 1440.0 C1415.8 1441.6 1414.9 1445.3 1416.0 1445.3 C1417.1 1445.3 1420.9 1440.2 1424.0 1440.0 C1427.1 1439.8 1429.8 1442.2 1434.7 1444.0 C1439.6 1445.8 1446.9 1448.4 1453.3 1450.7 C1459.8 1452.9 1467.8 1456.0 1473.3 1457.3 C1478.9 1458.7 1481.6 1456.9 1486.7 1458.7 C1491.8 1460.4 1497.1 1466.4 1504.0 1468.0 C1510.9 1469.6 1522.4 1469.6 1528.0 1468.0 C1533.6 1466.4 1533.6 1461.3 1537.3 1458.7 C1541.1 1456.0 1546.0 1452.9 1550.7 1452.0 C1555.3 1451.1 1560.4 1452.2 1565.3 1453.3 C1570.2 1454.4 1574.2 1457.8 1580.0 1458.7 C1585.8 1459.6 1595.6 1458.9 1600.0 1458.7 C1604.4 1458.4 1605.6 1457.6 1606.7 1457.3" fill="none" stroke="#000" stroke-width="4.2" stroke-linejoin="round" stroke-linecap="round"/>
<path d="M1422.7 1461.3 L1426.7 1466.7 L1421.3 1472.0 L1416.0 1466.7Z" fill="none" stroke="#000" stroke-width="4.2" stroke-linejoin="round" stroke-linecap="round"/>
<path d="M1432.0 1500.0 C1432.8 1500.2 1436.2 1499.3 1436.7 1501.3 C1437.1 1503.3 1435.7 1510.2 1434.7 1512.0 C1433.7 1513.8 1431.3 1512.0 1430.7 1512.0" fill="none" stroke="#000" stroke-width="4.2" stroke-linejoin="round" stroke-linecap="round"/>
<path d="M1432.7 1342.0 L1434.7 1344.0" fill="none" stroke="#000" stroke-width="9.0" stroke-linejoin="round" stroke-linecap="round"/>
<path d="M1318.0 1464.7 C1317.7 1466.1 1316.6 1470.3 1316.0 1473.3 C1315.4 1476.3 1314.4 1479.3 1314.7 1482.7 C1314.9 1486.0 1316.1 1490.7 1317.3 1493.3 C1318.6 1496.0 1321.2 1497.8 1322.0 1498.7" fill="none" stroke="#000" stroke-width="4.2" stroke-linejoin="round" stroke-linecap="round"/>
<path d="M1280.7 1398.7 C1280.9 1396.7 1280.1 1389.1 1282.0 1386.7 C1283.9 1384.2 1289.0 1384.0 1292.0 1384.0 C1295.0 1384.0 1297.3 1384.2 1300.0 1386.7 C1302.7 1389.1 1306.9 1395.1 1308.0 1398.7 C1309.1 1402.2 1306.2 1405.8 1306.7 1408.0 C1307.1 1410.2 1310.0 1411.3 1310.7 1412.0" fill="none" stroke="#000" stroke-width="4.2" stroke-linejoin="round" stroke-linecap="round"/>
<path d="M1291.3 1426.7 C1291.9 1427.6 1293.2 1430.4 1294.7 1432.0 C1296.1 1433.6 1298.7 1434.2 1300.0 1436.0 C1301.3 1437.8 1302.2 1441.6 1302.7 1442.7" fill="none" stroke="#000" stroke-width="4.2" stroke-linejoin="round" stroke-linecap="round"/>
<path d="M1312.7 1600.0 L1313.3 1590.0" fill="none" stroke="#000" stroke-width="4.2" stroke-linejoin="round" stroke-linecap="round"/>
<path d="M1602.0 764.0 C1598.3 764.3 1586.3 763.7 1580.0 766.0 C1573.7 768.3 1569.0 773.0 1564.0 778.0 C1559.0 783.0 1553.7 789.0 1550.0 796.0 C1546.3 803.0 1544.3 812.0 1542.0 820.0 C1539.7 828.0 1536.3 837.3 1536.0 844.0 C1535.7 850.7 1538.7 855.3 1540.0 860.0 C1541.3 864.7 1544.0 867.0 1544.0 872.0 C1544.0 877.0 1541.0 885.3 1540.0 890.0 C1539.0 894.7 1537.0 896.3 1538.0 900.0 C1539.0 903.7 1543.0 908.7 1546.0 912.0 C1549.0 915.3 1552.3 916.7 1556.0 920.0 C1559.7 923.3 1565.0 927.3 1568.0 932.0 C1571.0 936.7 1573.3 941.7 1574.0 948.0 C1574.7 954.3 1573.7 963.0 1572.0 970.0 C1570.3 977.0 1567.7 982.7 1564.0 990.0 C1560.3 997.3 1554.0 1007.7 1550.0 1014.0 C1546.0 1020.3 1544.3 1024.7 1540.0 1028.0 C1535.7 1031.3 1529.0 1032.7 1524.0 1034.0 C1519.0 1035.3 1513.3 1034.3 1510.0 1036.0 C1506.7 1037.7 1505.3 1040.0 1504.0 1044.0 C1502.7 1048.0 1501.7 1054.0 1502.0 1060.0 C1502.3 1066.0 1504.3 1073.3 1506.0 1080.0 C1507.7 1086.7 1512.0 1095.0 1512.0 1100.0 C1512.0 1105.0 1507.3 1106.7 1506.0 1110.0 C1504.7 1113.3 1503.3 1117.3 1504.0 1120.0 C1504.7 1122.7 1508.3 1125.7 1510.0 1126.0 C1511.7 1126.3 1512.3 1124.3 1514.0 1122.0 C1515.7 1119.7 1517.0 1114.2 1520.0 1112.0 C1523.0 1109.8 1528.0 1109.0 1532.0 1109.0 C1536.0 1109.0 1540.3 1110.2 1544.0 1112.0 C1547.7 1113.8 1551.7 1117.8 1554.0 1120.0 C1556.3 1122.2 1557.3 1124.2 1558.0 1125.0" fill="none" stroke="#000" stroke-width="4.2" stroke-linejoin="round" stroke-linecap="round"/>
<path d="M734.0 792.4 L746.0 789.6" fill="none" stroke="#000" stroke-width="3.0" stroke-linejoin="round" stroke-linecap="round"/>
<path d="M1234.0 620.0 C1233.7 621.3 1231.7 624.0 1232.0 628.0 C1232.3 632.0 1235.2 638.0 1236.0 644.0 C1236.8 650.0 1237.2 657.7 1237.0 664.0 C1236.8 670.3 1236.3 676.3 1235.0 682.0 C1233.7 687.7 1232.2 693.6 1229.0 698.0 C1225.8 702.4 1218.2 706.7 1216.0 708.4" fill="none" stroke="#000" stroke-width="2.5" stroke-linejoin="round" stroke-linecap="round"/>
<path d="M1069.0 1418.0 C1069.5 1419.7 1070.2 1426.0 1072.0 1428.0 C1073.8 1430.0 1077.0 1430.7 1080.0 1430.0 C1083.0 1429.3 1088.3 1425.0 1090.0 1424.0" fill="none" stroke="#000" stroke-width="3.0" stroke-linejoin="round" stroke-linecap="round"/>
</g>
<path d="M984.0 453.3 L992.0 450.7 L1001.3 449.3 L1013.3 453.3 L1014.7 461.3 L1010.7 469.3 L1014.7 465.3 L1013.3 478.7 L1009.3 486.7 L1001.3 492.0 L994.7 494.7 L989.3 502.7 L985.3 501.3 L985.3 496.0 L977.3 501.3 L970.7 505.3 L966.7 512.0 L958.7 510.7 L961.3 502.7 L965.3 494.7 L962.7 485.3 L964.0 477.3 L966.7 482.7 L970.7 470.7 L976.0 468.0 L982.7 474.7 L986.7 480.0 L988.7 474.7 L985.3 464.0Z M1077.0 444.0 L1090.0 442.0 L1094.0 437.0 L1100.0 439.0 L1110.0 440.0 L1120.0 446.0 L1122.0 432.0 L1126.0 426.0 L1130.0 436.0 L1132.0 444.0 L1128.0 450.0 L1140.0 453.0 L1132.0 457.0 L1120.0 455.0 L1116.0 458.0 L1112.0 452.0 L1100.0 449.0 L1096.0 444.0 L1088.0 446.0Z M1512.0 328.0 L1523.0 324.0 L1524.0 314.0 L1536.0 312.0 L1542.0 297.0 L1552.0 306.0 L1560.0 306.0 L1570.0 318.0 L1586.0 328.0 L1596.0 338.0 L1600.0 348.0 L1604.0 360.0 L1604.0 392.0 L1588.0 402.0 L1566.0 400.0 L1562.0 412.0 L1556.0 417.0 L1551.0 415.0 L1554.0 406.0 L1546.0 392.0 L1540.0 376.0 L1533.0 366.0 L1534.0 356.0 L1528.0 346.0 L1520.0 338.0Z M732.0 814.0 L739.0 809.0 L742.0 820.0 L748.0 822.0 L747.0 828.0 L752.0 834.0 L746.0 834.0 L740.0 828.0 L736.0 822.0Z M830.0 612.7 L836.0 610.0 L840.0 605.3 L844.0 596.0 L850.7 593.3 L858.7 591.3 L862.7 593.3 L860.0 601.3 L858.7 605.3 L862.7 610.7 L865.3 614.7 L864.0 618.7 L858.7 613.3 L856.0 617.3 L858.7 602.7 L853.3 602.7 L849.3 605.3 L845.3 612.0 L845.3 620.0 L841.3 621.3 L837.3 617.3 L832.0 616.0Z M828.0 646.7 L831.3 645.3 L834.7 653.3 L832.0 658.0 L828.7 659.3Z M1235.6 664.0 L1240.0 668.0 L1241.0 688.0 L1238.0 700.0 L1228.0 707.0 L1216.0 708.4 L1229.0 698.0 L1235.0 682.0Z" fill="#fff" stroke="none"/>
<path d="M413.3 496.7 L419.3 498.0 L423.3 504.0 L426.7 500.0 L433.3 505.3 L437.3 502.0 L454.7 496.7 L464.0 497.3 L465.3 494.7 L475.3 494.7 L474.7 506.0 L470.7 512.7 L466.0 516.7 L461.3 522.7 L454.7 529.3 L445.3 537.3 L451.3 542.7 L448.0 548.0 L440.0 545.3 L432.7 540.0 L442.7 544.0 L445.3 550.7 L437.3 552.0 L432.0 558.0 L440.0 554.7 L437.3 564.0 L442.7 560.0 L453.3 556.0 L461.3 550.7 L466.7 550.0 L474.7 552.7 L486.7 552.0 L497.3 552.7 L506.7 551.3 L512.0 553.3 L514.0 564.0 L509.3 573.3 L505.3 581.3 L502.7 593.3 L497.3 604.0 L492.7 611.3 L489.3 618.7 L480.0 623.3 L468.0 629.3 L477.3 625.3 L482.0 624.7 L482.7 630.7 L488.7 633.3 L484.0 637.3 L477.3 638.7 L472.0 644.0 L465.3 648.0 L454.0 647.3 L461.3 650.0 L473.3 652.0 L477.3 652.0 L480.0 647.3 L486.7 646.7 L490.0 650.7 L498.7 654.0 L504.7 657.3 L506.7 664.0 L516.0 670.7 L519.3 674.7 L520.0 688.0 L523.3 698.7 L528.0 712.0 L524.7 700.0 L528.0 709.3 L533.3 720.0 L541.3 726.7 L548.0 730.7 L554.7 736.0 L558.0 744.0 L562.0 750.0 L567.3 753.3 L564.0 758.7 L566.7 766.7 L572.0 774.7 L575.3 781.3 L569.3 780.0 L563.3 776.0 L550.7 775.3 L563.3 776.7 L570.7 782.7 L577.3 790.7 L581.3 801.3 L580.7 808.0 L571.3 818.0 L576.0 820.0 L578.7 823.3 L583.3 821.3 L586.0 814.7 L596.0 814.0 L608.0 815.3 L620.0 821.3 L625.3 830.7 L626.0 838.7 L622.7 852.0 L618.7 860.0 L611.3 868.0 L609.3 863.3 L610.7 871.3 L605.3 874.7 L594.0 878.0 L600.0 879.3 L599.3 885.3 L593.3 889.3 L584.0 892.0 L592.0 893.3 L600.0 896.0 L613.3 895.3 L615.3 900.0 L614.0 908.0 L605.3 912.0 L597.3 918.7 L586.7 924.0 L576.0 928.0 L568.0 925.3 L544.0 929.3 L541.3 925.3 L536.0 924.0 L528.0 926.7 L520.0 928.0 L509.3 930.0 L506.7 934.7 L498.7 931.3 L488.0 928.7 L478.7 928.7 L469.3 932.7 L462.7 937.3 L460.0 940.0 L460.0 940.0 L456.0 953.0 L450.0 954.0 L444.0 948.0 L434.0 947.0 L422.0 950.0 L410.0 956.0 L406.0 965.0 L402.0 961.0 L392.0 962.0 L391.0 957.0 L398.0 954.0 L408.0 948.0 L414.0 938.0 L422.0 932.0 L428.0 920.0 L410.7 940.0 L417.3 934.7 L424.0 929.3 L428.7 920.0 L428.0 914.7 L434.7 913.3 L438.0 906.0 L453.3 904.0 L464.0 905.3 L473.3 904.0 L477.3 896.0 L486.7 886.7 L495.3 876.7 L488.0 880.0 L480.0 888.0 L473.3 892.0 L466.7 895.3 L460.0 894.7 L453.3 888.0 L448.0 885.3 L437.3 886.7 L442.7 882.0 L433.3 881.3 L422.7 882.0 L413.3 884.7 L414.7 880.0 L407.3 878.7 L409.3 874.7 L405.3 870.7 L410.7 867.3 L416.0 866.7 L421.3 858.7 L429.3 856.0 L437.3 852.0 L441.3 845.3 L440.0 834.7 L441.3 828.0 L439.3 817.3 L432.0 818.0 L425.3 822.7 L420.7 822.7 L426.7 817.3 L430.7 812.0 L434.7 805.3 L430.0 802.7 L426.7 797.3 L427.3 792.0 L432.0 790.0 L436.0 792.0 L438.7 796.0 L442.7 796.7 L441.3 800.0 L449.3 798.0 L458.7 796.0 L465.3 794.0 L472.7 798.7 L470.7 792.0 L477.3 791.3 L480.0 796.7 L484.7 794.7 L477.3 792.0 L474.7 785.3 L472.7 781.3 L477.3 776.0 L474.7 772.0 L476.0 762.7 L481.3 758.7 L480.7 750.0 L472.0 754.7 L468.0 752.0 L464.0 744.0 L458.7 737.3 L456.0 732.0 L460.0 720.0 L464.0 710.7 L472.0 707.3 L464.0 708.0 L456.0 712.0 L446.7 717.3 L438.7 714.7 L432.0 712.7 L432.7 720.0 L428.0 722.7 L424.0 714.7 L417.3 713.3 L413.3 717.3 L417.3 724.0 L414.7 725.3 L412.0 718.7 L408.0 713.3 L407.3 706.7 L413.3 702.7 L416.0 700.0 L408.0 709.3 L413.3 698.7 L419.3 688.0 L425.3 680.0 L421.3 672.0 L416.0 666.7 L415.3 659.3 L418.7 656.0 L422.7 658.7 L423.3 654.7 L429.3 653.3 L418.7 651.3 L417.3 643.3 L415.3 652.0 L413.3 664.0 L406.7 657.3 L402.7 649.3 L406.7 641.3 L416.0 634.7 L405.3 638.7 L400.0 646.7 L396.7 641.3 L394.0 630.7 L400.0 624.7 L394.7 622.0 L392.7 616.0 L389.3 600.0 L394.7 589.3 L389.3 586.7 L396.0 578.7 L392.0 576.0 L396.0 572.0 L386.7 570.7 L385.3 560.0 L394.7 561.3 L388.0 549.3 L389.3 542.7 L394.7 538.7 L400.0 540.0 L409.3 542.0 L400.0 529.3 L405.3 526.7 L400.0 518.7 L406.7 518.7 L410.7 504.0Z M338.7 684.7 L343.3 687.3 L346.7 686.7 L351.3 692.0 L346.7 694.7 L343.3 701.3 L350.7 700.0 L362.0 693.3 L372.0 692.7 L379.3 694.0 L381.3 700.0 L386.7 710.7 L391.3 715.3 L388.0 722.7 L393.3 722.7 L397.3 726.7 L399.3 734.7 L396.0 740.0 L393.3 745.3 L386.7 749.3 L384.7 754.7 L377.3 760.0 L373.3 758.0 L369.3 762.0 L373.3 768.0 L374.7 778.7 L378.0 785.3 L374.7 794.7 L378.7 800.0 L380.7 808.0 L380.7 814.7 L377.3 824.0 L376.0 832.0 L373.3 840.0 L366.7 845.3 L370.7 853.3 L365.3 854.0 L357.3 853.3 L352.0 852.0 L351.3 856.0 L341.3 854.7 L331.3 860.0 L329.3 866.7 L322.7 866.7 L317.3 870.7 L310.7 871.3 L308.0 877.3 L302.7 881.3 L293.3 885.3 L285.3 887.3 L280.0 891.3 L272.7 890.7 L262.7 892.0 L272.0 878.7 L262.7 885.3 L253.3 884.0 L258.7 880.0 L267.3 872.0 L258.7 876.0 L250.7 878.7 L244.0 872.0 L246.7 864.0 L262.7 856.7 L253.3 858.7 L242.7 860.0 L240.0 856.0 L244.0 852.0 L250.7 849.3 L257.3 852.0 L262.7 851.3 L260.0 845.3 L265.3 836.0 L258.7 835.3 L266.7 829.3 L272.7 822.7 L274.7 814.7 L278.7 805.3 L288.0 804.0 L288.0 798.7 L278.7 800.0 L272.0 800.7 L267.3 797.3 L268.7 793.3 L260.7 796.0 L258.7 792.7 L252.7 792.0 L249.3 788.0 L250.0 782.7 L256.0 780.7 L262.7 780.0 L258.7 773.3 L262.7 766.7 L268.7 766.0 L260.0 765.3 L256.0 761.3 L248.0 760.7 L253.3 758.7 L258.7 757.3 L252.0 754.0 L251.3 748.0 L256.0 744.0 L261.3 741.3 L269.3 742.7 L277.3 742.0 L282.7 746.7 L285.3 744.7 L293.3 743.3 L301.3 745.3 L298.0 740.7 L305.3 734.7 L313.3 729.3 L310.7 726.0 L296.0 726.0 L293.3 722.7 L296.0 718.7 L305.3 716.0 L306.7 712.0 L304.0 706.7 L305.3 702.7 L314.7 694.7 L324.0 693.3 L330.7 690.7Z M420.0 755.3 L423.3 746.7 L428.7 739.3 L433.3 737.3 L434.7 742.7 L430.7 750.0 L425.3 755.3Z M522.0 930.7 L529.3 926.7 L534.7 928.0 L536.0 932.0 L530.7 935.3 L525.3 934.7Z M346.7 524.7 L348.7 520.0 L354.7 521.3 L358.7 514.0 L366.7 508.7 L373.3 503.3 L376.7 508.0 L374.0 518.7 L376.7 519.3 L371.3 524.0 L369.3 532.0 L365.3 538.7 L360.0 537.3 L357.3 542.7 L351.3 549.3 L346.0 545.3 L354.7 538.7 L350.7 534.7Z M333.3 557.3 L340.0 553.3 L344.7 552.7 L348.0 556.0 L345.3 561.3 L340.0 565.3 L338.7 560.0Z M336.7 570.7 L341.3 569.3 L342.7 585.3 L338.0 586.0 L336.0 578.7Z M332.7 595.3 L336.0 589.3 L338.0 594.7Z M367.3 590.7 L371.3 589.3 L374.0 593.3 L371.3 596.7Z M356.7 565.3 L361.3 557.3 L365.3 562.7 L368.7 557.3 L370.0 552.7 L374.7 556.0 L376.0 559.3 L377.3 561.3 L378.7 573.3 L386.7 578.7 L392.0 577.3 L389.3 584.0 L384.0 590.7 L380.0 585.3 L373.3 581.3 L368.7 573.3 L366.0 573.3 L360.0 570.7Z M378.7 565.3 L380.7 563.3 L382.0 572.0 L380.0 573.3Z M375.3 608.0 L380.0 606.0 L386.7 608.0 L392.0 611.3 L386.7 611.3 L380.0 611.3Z M372.0 616.0 L378.7 613.3 L386.7 618.7 L392.0 621.3 L392.0 625.3 L389.3 630.7 L382.7 633.3 L377.3 634.7 L370.7 633.3 L370.0 630.7 L378.7 629.3 L378.7 624.0 L373.3 620.0Z M350.0 621.3 L353.3 619.3 L357.3 618.7 L365.3 611.3 L366.7 613.3 L360.0 618.7 L354.7 621.3 L352.0 624.7Z M366.0 666.7 L368.0 657.3 L373.3 656.0 L378.7 653.3 L382.7 658.7 L384.0 661.3 L378.7 669.3 L373.3 673.3 L371.3 666.7Z M380.0 652.0 L389.3 641.3 L391.3 643.3 L385.3 653.3 L381.3 660.0Z M392.0 653.3 L400.0 654.0 L398.7 664.0 L396.7 686.7 L388.7 688.0 L391.3 666.7 L392.7 657.3Z M400.3 673.3 L402.0 667.3 L406.0 665.3 L409.3 669.3 L410.4 676.0 L408.0 680.7 L403.3 680.0Z M465.0 468.0 L469.0 464.4 L475.0 467.0 L478.0 475.0 L483.0 477.0 L482.0 480.4 L476.0 479.0 L470.0 478.0 L465.0 474.0Z M463.0 480.0 L467.0 479.0 L471.0 486.0 L467.0 487.0Z M475.0 484.0 L479.6 484.0 L478.0 489.6Z M486.0 458.0 L490.0 454.4 L495.0 455.0 L492.0 458.0 L487.0 461.0Z M518.0 392.0 L522.0 376.0 L530.0 371.0 L531.0 381.0 L538.0 383.0 L536.0 395.0 L534.0 402.0 L532.0 420.0 L528.0 420.0 L530.0 404.0 L528.0 397.0 L525.0 401.0 L520.0 398.0Z M534.0 378.0 L536.0 366.0 L539.4 365.0 L538.0 378.0 L535.0 380.0Z M540.0 366.0 L542.0 359.0 L546.0 358.0 L545.6 366.0 L542.4 369.0Z M340.0 272.0 L344.0 262.0 L351.0 258.4 L358.0 264.0 L360.0 280.0 L358.0 284.0 L352.0 278.0 L347.0 276.0 L343.0 279.0Z M353.0 288.0 L358.0 288.0 L362.4 293.0 L361.0 298.0 L357.0 295.6 L353.6 291.0Z M351.4 306.0 L355.0 305.0 L360.0 312.0 L361.6 321.0 L358.0 320.0 L353.0 313.0Z M1150.0 550.0 L1160.0 540.0 L1172.0 536.0 L1180.0 536.0 L1170.0 544.0 L1166.0 558.0 L1163.0 572.0 L1158.0 580.0 L1150.0 586.0 L1148.0 596.0 L1143.0 597.0 L1146.0 590.0 L1142.0 580.0 L1141.0 568.0 L1142.0 560.0Z M1088.0 637.0 L1087.0 620.0 L1094.0 602.0 L1100.0 592.0 L1107.0 572.0 L1110.0 573.0 L1104.0 594.0 L1096.0 618.0 L1091.0 636.0Z M1035.0 690.0 L1048.0 697.0 L1046.0 705.0 L1034.0 700.0Z M1186.0 398.0 L1192.0 392.0 L1198.0 386.0 L1209.0 393.0 L1208.0 400.0 L1200.0 400.0 L1204.0 406.0 L1208.0 410.0 L1202.0 411.0 L1196.0 406.0 L1190.0 402.0Z M1259.3 503.3 L1269.3 500.0 L1280.0 497.3 L1293.3 496.7 L1300.0 500.0 L1305.3 505.3 L1301.3 508.0 L1296.0 513.3 L1288.0 518.7 L1274.7 521.3 L1272.0 526.7 L1269.3 534.7 L1265.3 538.7 L1264.0 533.3 L1268.0 526.7 L1269.3 524.0 L1260.0 518.7 L1260.0 513.3 L1264.0 509.3 L1266.7 505.3 L1261.3 505.3Z M1298.7 494.7 L1302.7 493.3 L1306.7 495.3 L1308.0 500.0 L1304.0 502.7 L1300.0 499.3Z M1266.0 476.7 L1277.3 475.3 L1282.7 469.3 L1288.0 472.0 L1293.3 473.3 L1296.7 482.7 L1292.0 484.7 L1286.7 485.3 L1284.0 492.0 L1280.0 491.3 L1278.0 482.7 L1272.0 480.0Z M878.7 676.0 L885.3 674.7 L893.3 671.3 L898.7 673.3 L900.0 680.0 L904.0 678.7 L905.3 672.0 L908.0 673.3 L910.7 681.3 L912.0 689.3 L910.7 697.3 L906.7 702.7 L898.7 702.7 L892.0 700.0 L886.7 696.0 L882.7 689.3 L880.0 682.7Z M914.7 664.7 L922.7 665.3 L928.0 661.3 L933.3 653.3 L928.0 650.7 L934.7 652.0 L941.3 653.3 L938.7 660.0 L942.7 666.7 L945.3 662.7 L944.7 654.7 L946.7 650.7 L945.3 648.0 L953.3 644.0 L960.0 642.7 L966.7 646.7 L966.0 653.3 L968.0 660.0 L965.3 668.0 L962.0 670.7 L957.3 673.3 L956.0 678.7 L960.0 682.7 L962.7 686.7 L962.0 690.7 L956.0 692.0 L952.0 696.0 L954.7 700.0 L953.3 705.3 L965.3 704.0 L966.0 707.3 L960.0 708.0 L953.3 712.0 L950.7 708.0 L944.0 700.0 L941.3 694.7 L933.3 693.3 L926.7 694.7 L924.0 686.7 L922.7 676.0 L920.0 668.0Z M918.7 709.3 L924.0 707.3 L930.7 710.7 L934.7 714.7 L940.0 710.7 L941.3 708.0 L946.7 710.0 L953.3 712.0 L950.7 717.3 L946.7 724.0 L948.0 728.0 L944.7 725.3 L941.3 722.7 L933.3 725.3 L928.0 722.7 L920.0 718.7 L917.3 713.3Z M906.7 718.7 L909.3 709.3 L913.3 701.3 L916.0 697.3 L914.7 705.3 L910.7 714.7 L908.0 720.0Z M892.0 707.3 L896.0 709.3 L899.3 713.3 L897.3 714.7 L893.3 711.3Z M902.0 650.7 L905.3 650.7 L906.7 657.3 L905.3 662.7 L902.7 662.0Z M913.3 576.0 L918.7 574.0 L924.0 573.3 L920.7 577.3 L917.3 579.3Z M918.0 733.3 L921.3 731.3 L925.3 733.3 L926.7 737.3 L922.0 737.3 L918.7 736.0Z M986.7 724.0 L993.3 722.7 L996.0 726.7 L1001.3 728.0 L1000.0 733.3 L1002.7 738.7 L1003.3 744.0 L998.7 741.3 L992.0 740.0 L986.7 741.3 L984.0 738.7 L989.3 736.0 L986.7 732.0 L989.3 728.0Z M1236.7 1498.7 L1240.0 1493.3 L1244.0 1491.3 L1245.3 1486.0 L1253.3 1485.3 L1256.0 1481.3 L1262.7 1480.0 L1269.3 1484.0 L1278.7 1486.7 L1285.3 1489.3 L1292.0 1494.0 L1297.3 1497.3 L1304.0 1494.7 L1310.7 1492.7 L1314.7 1493.3 L1306.7 1497.3 L1298.7 1498.7 L1300.0 1505.3 L1305.3 1510.7 L1310.7 1514.7 L1306.7 1517.3 L1301.3 1521.3 L1297.3 1518.7 L1300.0 1514.7 L1292.0 1510.7 L1288.0 1512.0 L1290.0 1520.0 L1292.0 1528.0 L1296.0 1533.3 L1298.7 1541.3 L1297.3 1546.7 L1301.3 1553.3 L1298.7 1555.3 L1293.3 1546.7 L1290.7 1540.0 L1285.3 1540.0 L1281.3 1545.3 L1279.3 1550.7 L1278.7 1556.0 L1276.0 1549.3 L1274.7 1542.7 L1270.7 1536.0 L1266.7 1532.0 L1262.7 1533.3 L1261.3 1542.7 L1256.0 1540.7 L1253.3 1533.3 L1252.0 1526.7 L1253.3 1520.0 L1252.0 1510.7 L1248.0 1509.3 L1242.7 1504.0 L1236.7 1500.0Z M1190.0 1422.0 L1194.7 1420.0 L1200.0 1422.7 L1197.3 1426.7 L1200.0 1434.7 L1204.0 1437.3 L1198.7 1436.0 L1193.3 1429.3Z M1218.7 1469.3 L1220.7 1461.3 L1223.3 1460.7 L1222.7 1469.3Z M1212.0 1484.0 L1217.3 1478.7 L1221.3 1474.7 L1224.0 1480.0 L1222.7 1485.3 L1226.7 1490.0 L1220.0 1490.7 L1213.3 1488.0Z M1220.7 1498.0 L1224.0 1496.7 L1232.0 1504.7 L1226.7 1506.7 L1222.7 1502.7Z M1292.7 1558.7 L1294.7 1557.3 L1298.7 1562.7 L1296.0 1566.7 L1293.3 1565.3Z M1318.7 1465.3 L1330.7 1466.7 L1333.3 1477.3 L1337.3 1485.3 L1345.3 1489.3 L1344.0 1494.0 L1338.7 1492.0 L1333.3 1484.0 L1326.7 1480.0 L1320.0 1478.7 L1316.0 1473.3Z M1312.0 1600.0 L1313.3 1589.3 L1318.7 1585.3 L1320.0 1589.3 L1325.3 1590.7 L1332.0 1588.0 L1333.3 1593.3 L1338.7 1596.7 L1349.3 1598.7 L1360.0 1600.0 L1360.0 1613.3 L1312.0 1613.3Z M842.0 1318.0 L844.0 1306.0 L854.0 1300.0 L864.0 1297.0 L865.0 1288.0 L868.0 1286.0 L870.0 1296.0 L872.0 1310.0 L872.0 1326.0 L868.0 1340.0 L864.0 1354.0 L860.0 1355.0 L848.0 1348.0 L850.0 1340.0 L844.0 1336.0 L846.0 1330.0 L841.0 1328.0Z M828.0 1374.0 L840.0 1378.0 L852.0 1370.0 L860.0 1361.0 L868.0 1362.0 L874.0 1368.0 L878.0 1384.0 L880.0 1394.0 L876.0 1408.0 L877.0 1420.0 L875.0 1438.0 L872.0 1446.0 L866.0 1444.0 L858.0 1442.0 L854.0 1454.0 L844.0 1458.0 L839.0 1452.0 L834.0 1450.0 L836.0 1436.0 L834.0 1424.0 L838.0 1408.0 L836.0 1396.0 L832.0 1388.0 L827.0 1386.0Z M963.0 1502.0 L965.0 1492.0 L972.0 1488.0 L980.0 1492.0 L992.0 1491.0 L1004.0 1494.0 L1020.0 1492.0 L1036.0 1488.0 L1048.0 1487.0 L1062.0 1482.0 L1058.0 1492.0 L1052.0 1502.0 L1048.0 1510.0 L1046.0 1520.0 L1052.0 1530.0 L1048.0 1538.0 L1046.0 1546.0 L1040.0 1544.0 L1032.0 1542.0 L1024.0 1534.0 L1016.0 1528.0 L1008.0 1528.0 L1000.0 1522.0 L988.0 1514.0 L980.0 1512.0 L970.0 1510.0Z M646.0 1429.0 L656.0 1420.0 L668.0 1416.0 L672.0 1422.0 L680.0 1424.0 L675.0 1438.0 L668.0 1442.0 L660.0 1438.0 L654.0 1432.0Z M690.0 1412.0 L698.0 1409.0 L706.0 1414.0 L705.0 1420.0 L696.0 1416.0Z M609.0 1456.0 L614.0 1450.0 L621.0 1449.0 L620.0 1456.0 L613.0 1459.0Z M1022.0 1575.0 L1026.0 1574.0 L1028.0 1579.0 L1024.0 1580.0Z M378.0 1602.0 L382.0 1592.0 L388.0 1580.0 L398.0 1576.0 L402.0 1580.0 L406.0 1588.0 L416.0 1602.0Z M528.0 1602.0 L536.0 1588.0 L548.0 1582.0 L560.0 1578.0 L572.0 1568.0 L590.0 1560.0 L610.0 1552.0 L640.0 1548.0 L656.0 1546.0 L672.0 1540.0 L688.0 1537.0 L720.0 1537.0 L740.0 1546.0 L750.0 1540.0 L768.0 1532.0 L774.0 1529.0 L782.0 1534.0 L796.0 1535.0 L800.0 1530.0 L808.0 1532.0 L815.0 1534.5 L817.0 1538.5 L823.0 1538.0 L830.0 1535.0 L842.0 1535.5 L850.0 1533.0 L856.0 1526.5 L865.0 1523.0 L874.0 1519.5 L880.0 1519.5 L882.0 1521.0 L881.5 1524.0 L887.0 1522.5 L893.0 1524.5 L893.5 1526.5 L890.5 1527.0 L893.0 1533.0 L896.5 1537.5 L892.0 1540.0 L896.0 1543.0 L901.0 1544.0 L904.0 1539.0 L910.0 1536.0 L915.0 1531.0 L919.0 1529.5 L921.0 1534.0 L919.0 1540.0 L915.0 1545.0 L912.0 1552.0 L908.0 1555.0 L902.0 1558.0 L900.5 1566.0 L903.0 1574.0 L908.0 1580.0 L915.0 1584.0 L919.0 1586.0 L918.5 1593.0 L918.0 1610.0 L528.0 1604.0Z M1352.0 1384.0 L1351.2 1386.6 L1349.2 1388.2 L1346.8 1388.2 L1344.8 1386.6 L1344.0 1384.0 L1344.8 1381.4 L1346.8 1379.8 L1349.2 1379.8 L1351.2 1381.4Z M1390.0 1404.6 L1389.4 1406.2 L1387.0 1407.6 L1383.8 1408.2 L1381.2 1407.8 L1380.0 1406.6 L1380.6 1405.0 L1383.0 1403.6 L1386.2 1403.0 L1388.8 1403.4Z M1360.0 1413.0 L1372.0 1412.0 L1370.0 1420.0 L1363.0 1420.0Z M1386.0 1444.0 L1392.0 1440.0 L1400.0 1438.0 L1408.0 1446.0 L1409.0 1452.0 L1400.0 1453.0 L1394.0 1448.0 L1389.0 1450.0Z M1408.0 1503.0 L1416.0 1501.0 L1424.0 1503.0 L1420.0 1508.0 L1412.0 1507.0Z M1385.0 1470.0 L1394.0 1469.0 L1396.0 1478.0 L1392.0 1487.0 L1387.0 1486.0 L1390.0 1478.0Z M1400.0 1468.0 L1408.0 1466.0 L1410.0 1476.0 L1408.0 1488.0 L1403.0 1486.0 L1405.0 1476.0Z M1349.0 1495.0 L1354.0 1493.0 L1360.0 1502.0 L1366.0 1510.0 L1362.0 1512.0 L1356.0 1504.0Z M1340.0 1509.0 L1339.6 1510.8 L1338.6 1511.8 L1337.4 1511.8 L1336.4 1510.8 L1336.0 1509.0 L1336.4 1507.2 L1337.4 1506.2 L1338.6 1506.2 L1339.6 1507.2Z M1341.8 1517.0 L1341.4 1518.8 L1340.6 1519.8 L1339.4 1519.8 L1338.6 1518.8 L1338.2 1517.0 L1338.6 1515.2 L1339.4 1514.2 L1340.6 1514.2 L1341.4 1515.2Z M1367.4 1531.0 L1367.0 1532.8 L1365.8 1533.8 L1364.2 1533.8 L1363.0 1532.8 L1362.6 1531.0 L1363.0 1529.2 L1364.2 1528.2 L1365.8 1528.2 L1367.0 1529.2Z M1377.6 1531.0 L1377.0 1534.0 L1375.2 1535.8 L1372.8 1535.8 L1371.0 1534.0 L1370.4 1531.0 L1371.0 1528.0 L1372.8 1526.2 L1375.2 1526.2 L1377.0 1528.0Z M1345.0 1543.6 L1344.4 1545.0 L1342.6 1546.0 L1340.2 1546.6 L1338.0 1546.2 L1337.0 1545.2 L1337.6 1543.8 L1339.4 1542.8 L1341.8 1542.2 L1344.0 1542.6Z M1371.2 1542.8 L1371.6 1544.8 L1371.2 1546.4 L1369.8 1547.0 L1368.2 1546.6 L1366.8 1545.2 L1366.4 1543.2 L1366.8 1541.6 L1368.2 1541.0 L1369.8 1541.4Z M1404.6 1549.6 L1404.0 1550.8 L1402.4 1551.6 L1400.4 1551.6 L1398.8 1550.8 L1398.2 1549.6 L1398.8 1548.4 L1400.4 1547.6 L1402.4 1547.6 L1404.0 1548.4Z M1401.6 1507.2 L1401.0 1508.8 L1398.4 1510.6 L1395.0 1512.0 L1392.0 1512.6 L1390.4 1512.0 L1391.0 1510.4 L1393.6 1508.6 L1397.0 1507.2 L1400.0 1506.6Z M1445.0 1568.0 L1450.0 1560.0 L1460.0 1555.0 L1458.0 1564.0 L1450.0 1574.0 L1446.0 1576.0Z M1428.2 1588.2 L1427.4 1592.8 L1426.4 1595.6 L1425.4 1595.6 L1424.8 1592.6 L1425.0 1587.8 L1425.8 1583.2 L1426.8 1580.4 L1427.8 1580.4 L1428.4 1583.4Z M1434.0 1532.4 L1448.0 1531.6 L1462.0 1531.0 L1456.0 1534.0 L1440.0 1535.0Z M1436.0 1544.0 L1446.0 1542.0 L1456.0 1542.4 L1448.0 1546.0 L1438.0 1547.0Z M1380.6 1393.6 L1380.0 1394.6 L1378.4 1395.4 L1376.4 1395.4 L1374.8 1394.6 L1374.2 1393.6 L1374.8 1392.6 L1376.4 1391.8 L1378.4 1391.8 L1380.0 1392.6Z M1346.8 1457.0 L1347.6 1459.4 L1347.6 1461.4 L1346.4 1462.0 L1344.8 1461.0 L1343.2 1459.0 L1342.4 1456.6 L1342.4 1454.6 L1343.6 1454.0 L1345.2 1455.0Z M1320.4 1448.4 L1319.6 1449.0 L1318.0 1448.8 L1316.6 1448.0 L1315.6 1446.8 L1315.6 1445.6 L1316.4 1445.0 L1318.0 1445.2 L1319.4 1446.0 L1320.4 1447.2Z M1306.0 1402.0 L1314.0 1397.0 L1320.0 1398.0 L1326.0 1404.0 L1332.0 1402.0 L1338.0 1405.0 L1334.0 1408.0 L1326.0 1408.0 L1318.0 1410.0 L1312.0 1412.0Z M984.0 453.3 L992.0 450.7 L1001.3 449.3 L1013.3 453.3 L1014.7 461.3 L1010.7 469.3 L1014.7 465.3 L1013.3 478.7 L1009.3 486.7 L1001.3 492.0 L994.7 494.7 L989.3 502.7 L985.3 501.3 L985.3 496.0 L977.3 501.3 L970.7 505.3 L966.7 512.0 L958.7 510.7 L961.3 502.7 L965.3 494.7 L962.7 485.3 L964.0 477.3 L966.7 482.7 L970.7 470.7 L976.0 468.0 L982.7 474.7 L986.7 480.0 L988.7 474.7 L985.3 464.0Z M1077.0 444.0 L1090.0 442.0 L1094.0 437.0 L1100.0 439.0 L1110.0 440.0 L1120.0 446.0 L1122.0 432.0 L1126.0 426.0 L1130.0 436.0 L1132.0 444.0 L1128.0 450.0 L1140.0 453.0 L1132.0 457.0 L1120.0 455.0 L1116.0 458.0 L1112.0 452.0 L1100.0 449.0 L1096.0 444.0 L1088.0 446.0Z M1512.0 328.0 L1523.0 324.0 L1524.0 314.0 L1536.0 312.0 L1542.0 297.0 L1552.0 306.0 L1560.0 306.0 L1570.0 318.0 L1586.0 328.0 L1596.0 338.0 L1600.0 348.0 L1604.0 360.0 L1604.0 392.0 L1588.0 402.0 L1566.0 400.0 L1562.0 412.0 L1556.0 417.0 L1551.0 415.0 L1554.0 406.0 L1546.0 392.0 L1540.0 376.0 L1533.0 366.0 L1534.0 356.0 L1528.0 346.0 L1520.0 338.0Z M732.0 814.0 L739.0 809.0 L742.0 820.0 L748.0 822.0 L747.0 828.0 L752.0 834.0 L746.0 834.0 L740.0 828.0 L736.0 822.0Z M830.0 612.7 L836.0 610.0 L840.0 605.3 L844.0 596.0 L850.7 593.3 L858.7 591.3 L862.7 593.3 L860.0 601.3 L858.7 605.3 L862.7 610.7 L865.3 614.7 L864.0 618.7 L858.7 613.3 L856.0 617.3 L858.7 602.7 L853.3 602.7 L849.3 605.3 L845.3 612.0 L845.3 620.0 L841.3 621.3 L837.3 617.3 L832.0 616.0Z M828.0 646.7 L831.3 645.3 L834.7 653.3 L832.0 658.0 L828.7 659.3Z M1235.6 664.0 L1240.0 668.0 L1241.0 688.0 L1238.0 700.0 L1228.0 707.0 L1216.0 708.4 L1229.0 698.0 L1235.0 682.0Z M820.0 200.0 L816.0 205.3 L806.7 208.0 L802.7 212.0 L793.3 213.3 L789.3 218.7 L790.7 226.7 L785.3 231.3 L781.3 232.0 L781.3 237.3 L774.7 239.3 L768.7 240.7 L768.0 245.3 L774.7 248.0 L769.3 251.3 L762.7 253.3 L756.0 252.7 L753.3 257.3 L756.0 262.7 L751.3 262.0 L746.0 262.0 L744.7 266.7 L749.3 268.7 L740.0 270.7 L733.3 267.3 L730.0 270.7 L735.3 276.0 L740.0 278.7 L732.7 285.3 L726.7 288.0 L722.7 292.0 L726.0 295.3 L733.3 293.3 L729.3 298.0 L726.7 304.0 L733.3 306.7 L736.0 310.7 L732.0 316.0 L749.3 316.0 L752.0 317.3 L733.3 322.7 L726.7 321.3 L728.7 328.0 L733.3 333.3 L726.7 336.0 L722.0 337.3 L722.0 343.3 L727.3 342.7 L728.7 346.7 L727.3 354.7 L733.3 358.7 L738.0 357.3 L742.7 355.3 L736.7 360.0 L732.0 360.7 L726.7 362.0 L724.7 366.7 L728.7 372.0 L733.3 377.3 L738.7 374.7 L744.0 369.3 L749.3 366.7 L750.7 373.3 L749.3 380.0 L745.3 382.7 L740.0 379.3 L736.0 382.7 L728.7 384.0 L726.0 389.3 L728.0 397.3 L732.0 398.7 L736.0 392.0 L738.0 400.0 L742.7 401.3 L744.0 394.7 L746.7 404.0 L753.3 400.0 L757.3 397.3 L750.7 408.0 L745.3 412.0 L740.0 413.3 L738.7 420.0 L733.3 420.0 L730.7 426.7 L732.0 434.7 L734.7 440.0 L733.0 450.0 L734.0 464.0 L740.0 458.0 L746.0 454.0 L756.0 446.0 L768.0 439.0 L772.0 440.0 L764.0 450.0 L772.0 454.0 L762.0 458.0 L756.0 468.0 L760.0 478.0 L778.0 471.0 L762.0 476.0 L766.0 482.0 L752.0 476.0 L746.0 472.0 L743.0 488.0 L750.0 498.0 L758.0 504.0 L760.0 512.0 L772.0 518.0 L780.0 512.0 L786.0 506.0 L780.0 524.0 L778.0 530.0 L792.0 533.0 L806.0 533.0 L814.0 530.0 L828.0 528.0 L840.0 518.0 L848.0 508.0 L856.0 500.0 L860.0 493.3 L868.0 482.7 L874.7 474.7 L873.3 468.0 L880.0 473.3 L884.0 476.0 L890.7 469.3 L896.0 458.7 L900.0 456.0 L901.3 445.3 L897.3 440.0 L894.7 438.7 L898.7 434.7 L894.7 429.3 L900.0 430.7 L904.0 438.7 L901.3 425.3 L904.0 420.0 L908.7 418.7 L906.7 426.7 L904.7 432.0 L906.7 442.7 L908.0 452.0 L910.7 458.7 L917.3 464.0 L922.7 468.0 L922.7 476.0 L924.0 485.3 L925.3 493.3 L924.0 504.0 L925.3 510.7 L932.0 517.3 L934.7 520.0 L932.0 524.0 L937.3 532.0 L940.0 537.3 L938.7 541.3 L942.7 549.3 L945.3 557.3 L946.7 564.0 L950.7 568.0 L953.3 577.3 L957.3 586.7 L960.0 596.0 L965.3 604.0 L970.7 610.7 L976.0 614.7 L977.3 620.0 L972.0 626.7 L970.7 633.3 L974.7 640.0 L980.0 646.0 L986.0 644.0 L992.0 656.0 L980.0 672.0 L980.0 682.0 L988.0 685.0 L996.0 684.0 L1000.0 680.0 L1012.0 680.0 L1020.0 676.0 L1024.0 672.0 L1019.0 664.0 L1022.0 654.0 L1029.0 648.0 L1035.0 648.0 L1034.0 644.0 L1040.0 642.0 L1060.0 640.0 L1070.0 643.0 L1078.0 628.0 L1086.0 612.0 L1092.0 586.0 L1090.0 578.0 L1096.0 568.0 L1096.0 560.0 L1090.0 560.0 L1094.0 550.0 L1096.0 544.0 L1102.0 536.0 L1100.0 520.0 L1090.0 514.0 L1104.0 512.0 L1100.0 504.0 L1082.0 496.0 L1100.0 500.0 L1116.0 494.0 L1108.0 490.0 L1120.0 488.0 L1126.0 478.0 L1127.0 464.0 L1130.0 466.0 L1136.0 480.0 L1146.0 466.0 L1148.0 458.0 L1140.0 448.0 L1144.0 452.0 L1152.0 456.0 L1157.0 452.0 L1152.0 446.0 L1158.0 440.0 L1167.0 432.0 L1166.0 426.0 L1172.0 422.0 L1167.0 416.0 L1162.0 404.0 L1153.0 402.0 L1148.0 396.0 L1155.0 395.0 L1153.0 386.0 L1148.0 392.0 L1142.0 382.0 L1136.0 374.0 L1129.0 378.0 L1126.0 372.0 L1116.0 370.0 L1116.0 358.0 L1112.0 348.0 L1113.0 328.0 L1110.0 320.0 L1112.0 304.0 L1120.0 305.0 L1122.0 300.0 L1118.0 284.0 L1122.0 268.0 L1126.0 266.0 L1118.0 258.0 L1120.0 250.0 L1132.0 246.0 L1138.0 238.0 L1136.0 226.0 L1130.0 214.0 L1134.0 214.0 L1138.0 224.0 L1142.0 228.0 L1152.0 222.0 L1156.0 215.0 L1148.0 212.0 L1152.0 206.0 L1162.0 200.0 M1250.0 200.0 L1252.0 210.0 L1244.0 218.0 L1236.0 230.0 L1237.0 246.0 L1242.0 258.0 L1242.0 280.0 L1248.0 296.0 L1252.0 310.0 L1248.0 312.0 L1250.0 330.0 L1246.0 344.0 L1243.0 356.0 L1246.0 372.0 L1252.0 376.0 L1258.0 374.0 L1260.0 380.0 L1268.0 384.0 L1280.0 388.0 L1292.0 392.0 L1298.0 390.0 L1292.0 400.0 L1298.0 406.0 L1306.0 412.0 L1314.0 412.0 L1326.0 408.0 L1340.0 406.0 L1346.0 404.0 L1364.0 396.0 L1380.0 390.0 L1392.0 386.0 L1404.0 384.0 L1408.0 374.0 L1412.0 371.0 L1408.0 380.0 L1420.0 380.0 L1428.0 375.0 L1446.0 376.0 L1460.0 376.0 L1468.0 370.0 L1475.0 365.0 L1476.0 374.0 L1468.0 376.0 L1474.0 382.0 L1470.0 386.0 L1482.0 396.0 L1488.0 402.0 L1500.0 400.0 L1510.0 401.0 L1516.0 410.0 L1523.0 412.0 L1522.0 419.0 L1514.0 416.0 L1500.0 412.0 L1488.0 412.0 L1480.0 424.0 L1470.0 420.0 L1466.0 430.0 L1461.0 431.0 L1458.0 424.0 L1454.0 426.0 L1456.0 440.0 L1455.0 448.0 L1446.0 449.0 L1432.0 447.0 L1420.0 446.0 L1408.0 440.0 L1392.0 436.0 L1380.0 433.0 L1374.0 442.0 L1366.0 443.0 L1352.0 442.0 L1338.0 448.0 L1333.3 450.7 L1328.7 450.0 L1328.0 456.0 L1320.0 456.7 L1317.3 459.3 L1310.7 460.0 L1310.7 470.7 L1309.3 481.3 L1312.0 485.3 L1320.0 486.7 L1312.0 488.0 L1312.0 498.7 L1316.0 502.7 L1318.7 510.7 L1324.0 514.7 L1330.7 519.3 L1336.0 517.3 L1337.3 512.0 L1341.3 510.7 L1344.7 516.0 L1346.0 526.7 L1345.3 538.0 L1338.7 539.3 L1336.7 549.3 L1338.7 560.0 L1340.0 577.3 L1333.3 586.7 L1326.7 593.3 L1322.7 596.0 L1314.7 596.0 L1308.0 590.7 L1302.7 584.0 L1300.0 572.0 L1294.7 569.3 L1286.7 560.0 L1282.7 553.3 L1282.0 548.7 L1276.0 550.7 L1266.7 556.0 L1256.0 558.7 L1246.7 574.7 L1245.3 586.7 L1242.7 593.3 L1234.7 602.0 L1234.0 620.0 L1232.0 626.7 L1232.7 637.3 L1234.7 648.0 L1234.7 660.0 L1238.7 680.0 L1237.0 688.0 L1232.0 700.0 L1216.0 708.0 L1202.0 709.0 L1200.0 720.0 L1198.0 725.0 L1208.0 722.0 L1213.0 723.0 L1200.0 730.0 L1188.0 740.0 L1180.0 744.0 L1177.0 742.0 L1188.0 736.0 L1196.0 728.0 L1186.0 738.0 L1168.0 740.0 L1158.0 736.0 L1152.0 720.0 L1163.0 726.0 L1156.0 718.0 L1150.0 716.0 L1140.0 715.0 L1128.0 717.0 L1112.0 722.0 L1100.0 728.0 L1092.0 730.0 L1086.0 738.0 L1080.0 744.0 L1060.0 750.0 L1040.0 757.0 L1040.0 758.7 L1030.7 762.7 L1022.7 766.7 L1018.7 760.0 L1016.0 766.7 L1008.0 769.3 L1005.3 760.0 L1008.0 756.0 L1004.0 750.7 L997.3 753.3 L992.0 748.0 L986.7 745.3 L982.7 738.7 L978.7 736.0 L965.3 734.7 L960.0 744.0 L950.7 748.0 L938.7 752.0 L936.0 758.7 L930.7 765.3 L922.7 762.7 L913.3 765.3 L909.3 761.3 L912.0 756.0 L918.7 750.7 L920.0 744.0 L917.3 738.7 L909.3 741.3 L901.3 737.3 L893.3 733.3 L885.3 733.3 L882.7 734.7 L887.3 726.7 L885.3 718.7 L880.0 714.7 L874.7 713.3 L872.0 712.0 L874.7 708.0 L878.7 710.7 L886.7 710.7 L885.3 705.3 L878.7 701.3 L874.7 702.7 L870.7 700.0 L870.7 696.0 L876.0 690.7 L874.0 685.3 L876.7 680.0 L876.0 673.3 L874.7 668.0 L880.0 664.0 L885.3 665.3 L888.0 660.0 L884.0 657.3 L878.7 660.0 L876.0 665.3 L872.7 666.0 L880.0 657.3 L886.7 653.3 L892.0 656.0 L894.7 648.0 L893.3 641.3 L897.3 636.0 L901.3 634.0 L903.3 641.3 L906.7 636.0 L909.3 639.3 L913.3 630.7 L916.0 625.3 L913.3 620.0 L906.7 619.3 L901.3 621.3 L898.7 617.3 L896.0 612.0 L892.0 614.7 L894.7 606.7 L896.0 593.3 L900.0 584.0 L902.7 573.3 L902.7 564.0 L900.0 557.3 L905.3 549.3 L902.7 549.3 L896.0 556.0 L886.7 558.0 L880.0 566.7 L874.7 574.7 L866.7 582.7 L856.0 584.0 L848.0 586.0 L841.3 586.0 L836.0 593.3 L831.3 601.3 L829.3 609.3 L826.7 620.0 L826.0 633.3 L826.7 645.3 L828.7 660.0 L828.0 668.0 L826.0 673.3 L830.7 677.3 L838.7 678.7 L842.7 681.3 L844.0 689.3 L844.0 697.3 L843.3 710.0 L845.3 713.3 L848.0 722.7 L852.0 729.3 L854.7 734.7 L850.7 738.7 L842.7 738.7 L841.3 744.0 L848.0 745.3 L849.3 752.0 L853.3 757.3 L852.7 765.3 L844.0 766.7 L840.0 772.0 L838.7 780.0 L839.0 790.0 L830.0 781.0 L826.0 788.0 L831.0 790.0 L822.0 775.0 L808.0 776.0 L796.0 780.0 L792.0 788.0 L793.0 795.0 L798.0 797.0 L790.0 798.0 L786.0 789.0 L760.0 792.0 L746.0 796.0 L741.0 804.0 L736.0 810.0 L730.0 815.0 L724.0 818.0 L720.0 814.0 L724.0 804.0 L720.0 808.0 L718.0 818.0 L716.0 840.0 L714.0 848.0 L706.0 862.0 L698.0 866.0 L698.0 874.0 L690.0 878.0 L700.0 884.0 L688.0 888.0 L680.0 890.0 L688.0 898.0 L700.0 900.0 L678.0 898.0 L668.0 904.0 L652.0 910.0 L640.0 914.0 L626.0 918.0 L620.0 920.0 L619.0 940.0 L616.0 956.0 L613.0 963.0 L614.0 969.0 L600.0 970.0 L586.0 977.0 L576.0 982.0 L573.0 988.0 L560.0 998.0 L548.0 996.0 L536.0 994.0 L528.0 998.0 L530.0 980.0 L520.0 979.0 L509.0 978.0 L514.0 990.0 L520.0 1000.0 L522.0 1020.0 L527.0 1029.0 L512.0 1028.0 L508.0 1035.0 L496.0 1029.0 L486.0 1036.0 L472.0 1019.0 L460.0 1022.0 L456.0 1028.0 L449.0 1029.0 L446.0 1026.0 L428.0 1030.0 L420.0 1036.0 L420.0 1044.0 L430.0 1045.0 L436.0 1048.0 L426.0 1052.0 L422.0 1058.0 L432.0 1060.0 L434.0 1069.0 L444.0 1066.0 L458.0 1074.0 L470.0 1078.0 L480.0 1080.0 L486.0 1078.0 L482.0 1083.0 L492.0 1084.0 L491.0 1092.0 L496.0 1094.0 L504.0 1100.0 L506.0 1112.0 L514.0 1125.0 L518.0 1128.0 L528.0 1136.0 L532.0 1140.0 L522.0 1142.0 L534.0 1146.0 L538.0 1154.0 L528.0 1152.0 L534.0 1162.0 L531.0 1168.0 L540.0 1172.0 L548.0 1182.0 L554.0 1200.0 L544.0 1186.0 L536.0 1174.0 L532.0 1210.0 L538.0 1212.0 L532.0 1216.0 L528.0 1250.0 L524.0 1264.0 L520.0 1268.0 L512.0 1272.0 L490.0 1272.0 L476.0 1268.0 L456.0 1264.0 L440.0 1268.0 L420.0 1266.0 L400.0 1264.0 L384.0 1258.0 L360.0 1262.0 L348.0 1264.0 L340.0 1258.0 L330.0 1254.0 L322.0 1253.0 L312.0 1260.0 L304.0 1270.0 L292.0 1272.0 L280.0 1280.0 L279.0 1288.0 L286.0 1296.0 L284.0 1306.0 L292.0 1300.0 L300.0 1312.0 L292.0 1318.0 L290.0 1332.0 L294.0 1350.0 L298.0 1370.0 L296.0 1382.0 L293.0 1396.0 L291.0 1408.0 L286.0 1422.0 L280.0 1435.0 L276.0 1438.0 L274.0 1450.0 L272.0 1464.0 L280.0 1466.0 L282.0 1475.0 L290.0 1472.0 L296.0 1477.0 L293.0 1492.0 L294.0 1506.0 L290.0 1522.0 L288.0 1531.0 L294.0 1529.0 L316.0 1530.0 L324.0 1531.0 L332.0 1527.0 L348.0 1525.0 L360.0 1528.0 L366.0 1535.0 L370.0 1544.0 L376.0 1550.0 L374.0 1556.0 L386.0 1566.0 L392.0 1571.0 L400.0 1570.0 L402.0 1562.0 L410.0 1556.0 L420.0 1549.0 L430.0 1544.0 L460.0 1543.0 L480.0 1544.0 L488.0 1540.0 L496.0 1539.0 L502.0 1544.0 L509.0 1532.0 L512.0 1524.0 L520.0 1514.0 L532.0 1510.0 L548.0 1508.0 L546.0 1500.0 L552.0 1486.0 L560.0 1476.0 L572.0 1469.0 L577.6 1462.4 L569.0 1457.0 L563.0 1440.0 L561.0 1428.0 L566.0 1416.0 L572.0 1404.0 L582.0 1394.0 L586.0 1388.0 L594.0 1386.0 L598.0 1380.0 L594.0 1378.0 L602.0 1368.0 L616.0 1363.0 L638.0 1358.0 L648.0 1350.0 L664.0 1338.0 L671.0 1330.0 L670.0 1318.0 L675.0 1316.0 L669.0 1308.0 L664.0 1292.0 L668.0 1280.0 L671.0 1278.0 L680.0 1272.0 L696.0 1262.0 L704.0 1264.0 L718.0 1268.0 L720.0 1263.0 L732.0 1262.0 L736.0 1270.0 L740.0 1274.0 L750.0 1278.0 L760.0 1276.0 L780.0 1272.0 L788.0 1264.0 L800.0 1254.0 L804.0 1250.0 L812.0 1248.0 L826.0 1248.0 L840.0 1240.0 L848.0 1228.0 L856.0 1225.0 L872.0 1234.0 L884.0 1244.0 L890.0 1248.0 L896.0 1258.0 L900.0 1270.0 L904.0 1280.0 L908.0 1292.0 L916.0 1300.0 L920.0 1304.0 L922.0 1311.0 L930.0 1310.0 L940.0 1320.0 L946.0 1328.0 L956.0 1336.0 L964.0 1344.0 L972.0 1352.0 L984.0 1360.0 L992.0 1358.0 L1004.0 1362.0 L1014.0 1374.0 L1018.0 1378.0 L1026.0 1386.0 L1034.0 1382.0 L1040.0 1392.0 L1042.0 1402.0 L1052.0 1408.0 L1064.0 1410.0 L1068.0 1420.0 L1072.0 1430.0 L1076.0 1440.0 L1078.0 1452.0 L1080.0 1458.0 L1074.0 1466.0 L1070.0 1469.0 L1064.0 1482.0 L1063.0 1494.0 L1076.0 1496.0 L1082.0 1486.0 L1092.0 1476.0 L1094.0 1468.0 L1090.0 1464.0 L1098.0 1458.0 L1110.0 1454.0 L1112.0 1448.0 L1110.0 1436.0 L1100.0 1428.0 L1090.0 1424.0 L1094.0 1412.0 L1100.0 1400.0 L1108.0 1392.0 L1118.0 1396.0 L1130.0 1400.0 L1136.0 1400.0 L1138.0 1410.0 L1142.0 1416.0 L1150.0 1420.0 L1154.0 1408.0 L1150.0 1398.0 L1140.0 1390.0 L1138.0 1384.0 L1124.0 1376.0 L1108.0 1366.0 L1090.0 1358.0 L1076.0 1352.0 L1072.0 1346.0 L1078.0 1340.0 L1080.0 1334.0 L1074.0 1331.0 L1060.0 1333.0 L1044.0 1332.0 L1040.0 1328.0 L1032.0 1320.0 L1020.0 1308.0 L1012.0 1300.0 L1008.0 1286.7 L1004.0 1273.3 L998.7 1260.0 L989.3 1254.7 L977.3 1246.7 L968.0 1244.0 L964.0 1237.3 L960.0 1232.0 L958.0 1220.0 L957.3 1209.3 L960.0 1205.3 L964.0 1200.0 L960.0 1197.3 L958.7 1190.7 L954.0 1185.3 L956.0 1181.3 L960.0 1176.0 L966.7 1173.3 L976.0 1170.7 L984.0 1165.3 L992.0 1164.7 L1000.0 1164.0 L1005.3 1169.3 L1000.0 1174.7 L997.3 1176.0 L1001.3 1193.3 L1008.0 1206.7 L1016.0 1198.7 L1020.0 1184.0 L1022.7 1180.0 L1026.7 1184.0 L1033.3 1190.7 L1040.0 1204.0 L1041.3 1212.0 L1048.0 1226.7 L1053.3 1236.0 L1058.7 1245.3 L1066.7 1250.7 L1072.0 1257.3 L1073.3 1262.7 L1078.7 1265.3 L1086.7 1262.7 L1097.3 1268.0 L1106.7 1273.3 L1116.0 1280.0 L1125.3 1285.3 L1128.0 1289.3 L1136.0 1294.7 L1146.7 1302.7 L1154.7 1310.7 L1160.0 1313.3 L1170.0 1322.0 L1180.0 1334.0 L1182.0 1340.0 L1188.0 1346.0 L1186.0 1360.0 L1185.0 1368.0 L1180.0 1384.0 L1180.0 1396.0 L1184.0 1398.7 L1186.7 1404.0 L1194.7 1408.0 L1201.3 1417.3 L1205.3 1425.3 L1210.7 1422.7 L1206.7 1426.7 L1209.3 1434.7 L1216.0 1442.7 L1222.7 1448.0 L1226.7 1452.0 L1234.7 1450.7 L1237.3 1453.3 L1234.7 1457.3 L1225.3 1456.0 L1224.0 1461.3 L1229.3 1464.0 L1234.7 1472.0 L1237.3 1480.0 L1242.7 1478.7 L1245.3 1477.3 L1252.0 1479.3 L1257.3 1478.0 L1266.7 1477.3 L1276.0 1479.3 L1278.7 1476.0 L1282.7 1480.0 L1293.3 1484.0 L1301.3 1486.0 L1301.3 1490.0 L1294.7 1492.0 L1304.0 1494.7 L1310.7 1492.7 L1314.7 1493.3 L1320.0 1498.7 L1326.7 1506.7 L1329.3 1500.0 L1326.7 1490.7 L1329.3 1484.0 L1324.0 1478.7 L1317.3 1477.3 L1313.3 1473.3 L1304.0 1469.3 L1297.3 1464.0 L1288.0 1461.3 L1281.3 1458.7 L1290.7 1457.3 L1297.3 1453.3 L1304.0 1448.0 L1301.3 1442.7 L1298.7 1436.0 L1293.3 1430.7 L1290.7 1420.0 L1285.3 1413.3 L1281.3 1404.0 L1280.0 1394.7 L1282.7 1386.0 L1292.0 1384.0 L1298.7 1386.7 L1306.7 1396.0 L1308.0 1400.0 L1310.7 1408.0 L1314.7 1413.3 L1318.7 1414.7 L1322.7 1412.0 L1326.7 1410.7 L1324.0 1405.3 L1318.7 1401.3 L1317.3 1398.7 L1321.3 1396.7 L1328.0 1397.3 L1333.3 1400.0 L1338.7 1405.3 L1337.3 1401.3 L1332.0 1396.0 L1324.0 1393.3 L1320.0 1386.7 L1317.3 1381.3 L1321.3 1374.7 L1329.3 1381.3 L1337.3 1374.7 L1346.7 1372.7 L1356.0 1370.7 L1362.7 1371.3 L1368.0 1376.0 L1378.7 1377.3 L1389.3 1378.0 L1400.0 1378.7 L1394.0 1386.7 L1404.0 1385.3 L1416.0 1384.7 L1413.3 1388.7 L1404.0 1393.3 L1398.7 1397.3 L1396.0 1408.0 L1398.0 1411.3 L1404.0 1405.3 L1410.7 1398.7 L1417.3 1392.0 L1422.7 1386.7 L1426.7 1384.0 L1432.0 1378.7 L1434.7 1373.3 L1440.0 1369.3 L1453.3 1368.0 L1466.7 1367.3 L1477.3 1365.3 L1483.3 1364.7 L1484.0 1361.3 L1474.7 1357.3 L1461.3 1349.3 L1456.0 1342.7 L1453.3 1333.3 L1450.7 1325.3 L1446.7 1318.7 L1444.0 1312.0 L1437.3 1309.3 L1437.3 1305.3 L1445.3 1298.7 L1450.7 1293.3 L1450.7 1280.0 L1450.0 1272.0 L1454.0 1268.0 L1470.0 1264.0 L1472.0 1258.0 L1474.0 1240.0 L1476.0 1228.0 L1480.0 1220.0 L1482.0 1214.0 L1480.0 1206.0 L1486.0 1198.0 L1488.0 1204.0 L1504.0 1205.0 L1506.0 1188.0 L1508.0 1178.0 L1506.0 1166.0 L1510.0 1163.0 L1520.0 1160.0 L1528.0 1150.0 L1536.0 1140.0 L1542.0 1130.0 L1548.0 1126.0 L1560.0 1124.0 L1568.0 1126.0 L1576.0 1132.0 L1586.0 1128.0 L1598.0 1125.0 L1610.0 1124.0 M1606.7 1333.3 L1600.0 1336.0 L1593.3 1340.0 L1584.0 1346.7 L1573.3 1352.0 L1562.7 1357.3 L1560.0 1361.3 L1553.3 1366.0 L1540.0 1366.7 L1526.7 1362.7 L1520.0 1364.0 L1506.7 1362.7 L1493.3 1360.7 L1486.0 1362.0 L1486.7 1366.7 L1490.7 1373.3 L1493.3 1378.7 L1506.7 1381.3 L1514.7 1381.3 L1506.7 1383.3 L1488.0 1385.3 L1478.7 1389.3 L1480.0 1393.3 L1488.0 1393.3 L1488.7 1396.0 L1482.7 1397.3 L1473.3 1396.0 L1458.7 1396.0 L1453.3 1397.3 L1446.7 1399.3 L1440.0 1398.7 L1434.7 1396.0 L1429.3 1393.3 L1424.0 1394.0 L1418.7 1393.3 L1412.0 1400.0 L1405.3 1406.7 L1400.0 1413.3 L1395.3 1414.7 L1393.3 1425.3 L1394.7 1433.3 L1404.0 1431.3 L1418.7 1429.3 L1420.0 1433.3 L1412.0 1440.0 L1416.0 1446.7 L1418.7 1450.7 L1416.0 1454.7 L1421.3 1457.3 L1420.0 1461.3 L1414.7 1464.0 L1418.7 1472.0 L1424.0 1476.0 L1416.0 1478.7 L1412.0 1481.3 L1413.3 1488.0 L1422.7 1492.0 L1429.3 1496.0 L1430.7 1504.0 L1429.3 1513.3 L1432.0 1520.0 L1430.0 1522.0 L1438.0 1524.0 L1434.0 1530.0 L1440.0 1532.0 L1460.0 1532.0 L1450.0 1538.0 L1436.0 1540.0 L1460.0 1542.0 L1468.0 1538.0 L1480.0 1544.0 L1488.0 1552.0 L1492.0 1560.0 L1504.0 1566.0 L1516.0 1562.0 L1530.0 1561.0 L1532.0 1548.0 L1536.0 1540.0 L1554.0 1538.0 L1568.0 1544.0 L1580.0 1548.0 L1586.0 1558.0 L1594.0 1564.0 L1610.0 1572.0" fill="none" stroke="#000" stroke-width="1.1" stroke-linejoin="round"/>
<path d="M942.0 200.0 L954.0 212.0 L950.0 230.0 L958.0 262.0 L953.0 298.0 L963.0 309.0 L975.0 324.0 L970.0 343.0 L957.0 348.0 L968.0 378.0 L964.0 408.0 L961.3 408.0 L953.3 416.0 L944.0 421.3 L945.3 428.0 L938.7 436.0 L940.0 446.7 L941.3 458.7 L940.0 472.0 L936.0 478.7 L932.0 480.0 M1447.0 377.0 L1460.0 360.0 L1480.0 340.0 L1500.0 320.0 L1520.0 296.0 L1538.0 268.0 L1548.0 254.0 L1558.0 238.0 L1566.0 220.0 L1558.0 208.0 L1557.0 200.0 M1456.0 448.0 L1452.0 454.0 L1448.0 462.0 L1440.0 480.0 L1436.0 486.0 L1438.0 500.0 L1440.0 516.0 L1436.0 524.0 L1444.0 540.0 L1446.0 548.0 L1438.0 560.0 L1446.0 568.0 L1449.0 580.0 L1444.0 598.0 L1450.0 602.0 L1456.0 620.0 L1461.0 638.0 L1452.0 644.0 L1440.0 660.0 L1424.0 658.0 L1410.0 667.0 L1400.0 664.0 M1345.3 536.7 L1358.7 531.3 L1365.3 529.3 L1368.0 532.0 L1377.3 538.7 L1386.7 542.7 L1392.0 546.7 L1397.3 553.3 L1406.7 561.3 L1416.0 557.3 L1424.0 558.7 L1433.3 560.0 L1438.0 553.0 M1234.7 644.0 L1240.0 644.0 L1244.0 636.0 L1256.0 630.7 L1266.7 626.0 L1280.0 626.7 L1286.7 629.3 L1293.3 626.0 L1298.7 632.0 L1306.7 628.7 L1320.0 629.3 L1333.3 634.7 L1342.7 632.0 L1354.7 624.7 L1360.0 637.3 L1370.7 640.0 L1378.7 642.7 L1386.7 649.3 L1394.7 656.0 L1400.0 664.0 L1408.0 668.0 L1416.0 665.3 L1424.0 658.7 L1400.0 664.0 M1410.0 667.0 L1406.0 686.0 L1416.0 690.0 L1398.0 698.0 L1386.0 708.0 L1382.0 720.0 L1383.0 726.0 L1376.0 740.0 L1380.0 744.0 L1382.0 750.0 L1376.0 752.0 L1374.0 744.0 L1352.0 754.0 L1350.0 760.0 L1338.0 765.0 L1332.0 762.0 L1313.0 763.0 M1461.0 638.0 L1470.0 648.0 L1478.0 652.0 L1488.0 651.0 L1498.0 656.0 L1500.0 666.0 L1520.0 658.0 L1532.0 662.0 L1540.0 671.0 L1546.0 669.0 L1549.0 664.0 L1562.0 664.0 L1559.0 654.0 L1563.0 648.0 L1562.0 634.0 M1546.0 671.0 L1542.0 688.0 L1548.0 700.0 L1541.0 714.0 L1550.0 726.0 L1552.0 734.0 L1560.0 748.0 L1574.0 754.0 L1572.0 768.0 L1592.0 774.0 L1596.0 780.0 L1602.0 782.0 M1315.0 888.0 L1324.0 884.0 L1338.0 871.0 L1364.0 866.0 L1384.0 868.0 L1404.0 873.0 L1426.0 876.0 L1430.0 884.0 L1444.0 886.0 L1446.0 890.0 L1450.0 884.0 L1460.0 882.0 L1474.0 888.0 L1478.0 892.0 L1484.0 884.0 L1492.0 892.0 L1496.0 896.0 L1504.0 890.0 L1520.0 890.0 L1532.0 900.0 L1536.0 884.0 L1540.0 872.0 L1544.0 862.0 L1560.0 859.0 L1572.0 858.0 L1580.0 862.0 L1588.0 860.0 L1592.0 848.0 L1602.0 848.0 M1280.0 740.0 L1286.0 738.0 L1294.0 740.0 L1310.0 752.0 L1313.0 763.0 L1318.0 784.0 L1324.0 800.0 L1325.0 824.0 L1322.0 830.0 L1308.0 838.0 L1301.0 850.0 L1316.0 860.0 L1313.0 884.0 L1315.0 888.0 L1318.0 900.0 L1326.0 920.0 L1330.0 930.0 L1328.0 944.0 L1316.0 946.0 L1296.0 970.0 M1196.0 736.0 L1220.0 740.0 L1228.0 741.0 L1244.0 742.0 L1280.0 740.0 M1280.0 702.0 L1288.0 708.0 L1291.0 715.0 L1288.0 720.0 L1286.0 730.0 L1286.0 738.0 M1238.0 688.0 L1242.0 692.0 L1260.0 700.0 L1268.0 703.0 L1280.0 701.0 M1020.0 776.0 L1024.0 790.0 L1023.0 804.0 L1016.0 816.0 L1020.0 826.0 L1030.0 834.0 L1029.0 844.0 L1035.0 856.0 L1035.0 864.0 L1031.0 876.0 L1036.0 888.0 L1042.0 900.0 L1040.0 912.0 L1042.0 920.0 L1036.0 924.0 L1032.0 920.0 M953.0 950.0 L956.0 958.0 L966.0 944.0 L978.0 943.0 L986.0 938.0 L994.0 934.0 L1000.0 928.0 L1012.0 924.0 L1028.0 920.0 L1036.0 924.0 L1052.0 920.0 L1060.0 926.0 L1076.0 932.0 L1086.0 934.0 L1082.0 944.0 L1090.0 952.0 L1103.0 956.0 L1106.0 946.0 L1120.0 950.0 L1130.0 952.0 L1126.0 958.0 L1136.0 964.0 L1152.0 968.0 L1160.0 976.0 L1164.0 986.0 L1172.0 980.0 L1182.0 984.0 L1188.0 992.0 L1194.0 998.0 L1196.0 1002.0 L1206.0 996.0 L1220.0 994.0 L1232.0 996.0 L1240.0 992.0 L1256.0 994.0 L1266.0 1000.0 L1280.0 1008.0 M953.0 950.0 L958.0 964.0 L964.0 976.0 L969.0 986.0 L976.0 996.0 L990.0 1010.0 L1004.0 1020.0 L1014.0 1031.0 L1026.0 1033.0 L1035.0 1028.0 L1038.0 1020.0 L1044.0 1013.0 L1060.0 1016.0 L1076.0 1024.0 L1090.0 1023.0 L1104.0 1028.0 L1112.0 1020.0 L1126.0 1018.0 L1138.0 1008.0 L1146.0 1000.0 L1158.0 989.0 L1164.0 986.0 M1104.0 1028.0 L1102.0 1040.0 L1108.0 1056.0 L1112.0 1060.0 L1126.0 1070.0 L1142.0 1072.0 L1160.0 1069.0 L1164.0 1060.0 L1176.0 1058.0 L1186.0 1052.0 L1200.0 1050.0 L1210.0 1048.0 L1216.0 1044.0 M1112.0 1060.0 L1108.0 1072.0 L1094.0 1074.0 L1090.0 1080.0 L1096.0 1086.0 L1090.0 1094.0 L1090.0 1104.0 L1084.0 1112.0 L1074.0 1114.0 L1058.0 1122.0 L1040.0 1128.0 L1032.0 1134.0 L1016.0 1132.0 L1000.0 1128.0 L986.0 1124.0 L960.0 1120.0 L956.0 1112.0 L954.0 1104.0 L940.0 1106.0 L920.0 1109.0 M1014.0 1031.0 L1006.0 1035.0 L996.0 1034.0 L994.0 1044.0 L976.0 1052.0 L980.0 1064.0 L976.0 1080.0 L970.0 1076.0 L950.0 1078.0 L932.0 1080.0 L920.0 1082.0 L908.0 1076.0 L900.0 1080.0 L888.0 1074.0 L880.0 1078.0 L872.0 1082.0 M1086.0 1130.0 L1094.0 1134.0 L1104.0 1142.0 L1110.0 1146.0 L1120.0 1156.0 L1136.0 1163.0 L1152.0 1162.0 L1164.0 1158.0 L1180.0 1153.0 L1200.0 1148.0 L1216.0 1146.0 M1224.0 1145.3 L1236.0 1141.3 L1242.7 1126.7 L1249.3 1118.7 L1254.7 1105.3 L1262.7 1088.0 L1265.3 1080.0 L1277.3 1070.7 L1290.7 1065.3 L1293.3 1058.7 L1285.3 1052.0 L1273.3 1042.7 L1268.0 1036.0 L1270.7 1029.3 L1277.3 1020.0 L1278.7 1013.3 M1293.3 1058.7 L1300.0 1056.0 L1310.7 1060.0 L1322.7 1061.3 L1334.7 1065.3 L1344.0 1062.7 L1352.0 1068.0 L1356.0 1074.7 L1361.3 1070.7 L1366.7 1065.3 L1380.0 1062.7 L1396.0 1058.7 L1400.0 1052.0 L1409.3 1048.0 L1420.0 1045.3 L1420.0 1048.0 M1224.0 1145.3 L1210.7 1146.7 L1214.7 1156.0 L1224.0 1162.7 L1226.7 1176.0 L1233.3 1184.0 L1244.0 1188.0 M1180.0 1053.3 L1188.0 1050.7 L1197.3 1054.7 L1209.3 1048.0 L1214.7 1040.0 L1220.0 1034.7 L1230.7 1036.0 L1240.0 1034.7 L1249.3 1034.7 L1254.7 1042.7 L1268.0 1041.3 L1273.3 1045.3 L1281.3 1053.3 L1290.7 1057.3 L1293.3 1058.7 M1265.3 1002.7 L1276.0 1006.7 L1286.7 1009.3 L1292.0 1013.3 L1284.0 986.7 L1288.0 997.3 L1286.7 1004.0 L1292.0 1010.7 M1296.0 970.7 L1305.3 960.0 M1245.3 1193.3 L1246.7 1200.0 L1245.3 1206.7 L1253.3 1210.7 L1265.3 1214.7 L1272.0 1213.3 L1280.0 1211.3 L1286.7 1216.0 L1280.0 1218.7 L1284.0 1229.3 L1293.3 1237.3 L1293.3 1245.3 L1296.0 1250.7 L1306.7 1252.0 L1320.0 1253.3 L1329.3 1256.0 L1340.0 1253.3 L1350.7 1257.3 L1360.0 1258.7 L1370.7 1260.0 L1420.0 1248.0 L1440.0 1252.0 L1470.0 1260.0 M1272.0 1213.3 L1273.3 1222.7 L1277.3 1234.7 L1278.7 1250.7 L1281.3 1265.3 L1288.0 1272.0 L1294.7 1277.3 L1292.0 1284.0 L1281.3 1290.7 L1278.7 1297.3 L1281.3 1306.7 L1277.3 1313.3 L1266.7 1316.0 L1257.3 1317.3 L1246.7 1316.0 L1240.0 1321.3 L1229.3 1322.7 M1420.0 1048.0 L1428.0 1064.0 L1438.0 1080.0 L1448.0 1096.0 L1456.0 1106.0 L1460.0 1120.0 L1462.0 1140.0 L1458.0 1152.0 L1456.0 1170.0 L1460.0 1178.0 L1468.0 1184.0 L1480.0 1186.0 L1488.0 1180.0 L1500.0 1179.0 L1506.0 1182.0 M1420.0 1048.0 L1436.0 1040.0 L1448.0 1042.0 L1456.0 1048.0 L1470.0 1054.0 L1482.0 1060.0 L1488.0 1064.0 L1490.0 1078.0 L1496.0 1090.0 L1502.0 1094.0 L1506.0 1108.0 L1512.0 1120.0 L1520.0 1134.0 L1504.0 1136.0 L1492.0 1130.0 L1484.0 1136.0 M1570.0 1096.0 L1578.0 1106.0 L1576.0 1120.0 L1580.0 1128.0 M798.0 797.0 L798.0 812.0 L794.0 826.0 L782.0 832.0 L784.0 840.0 L793.0 843.0 L792.0 854.0 L780.0 868.0 L760.0 874.0 L762.0 888.0 L766.0 900.0 L762.0 910.0 M700.0 900.0 L710.0 892.0 L720.0 896.0 L728.0 890.0 L734.0 900.0 L746.0 904.0 L762.0 910.0 L753.3 908.7 L749.3 922.7 L758.7 926.7 L766.7 934.7 L772.0 946.7 L765.3 953.3 L756.0 957.3 L752.0 969.3 L756.0 980.0 L754.7 988.0 M660.0 929.3 L669.3 925.3 L674.7 940.0 L682.7 940.0 L686.7 945.3 L698.7 948.0 L702.7 957.3 L701.3 965.3 L718.7 965.3 L722.7 957.3 L724.0 973.3 L734.7 980.0 L742.7 988.0 L754.7 986.7 L758.7 990.7 L765.3 989.3 L772.0 989.3 L777.3 996.0 L782.7 1004.0 L793.3 1006.7 L801.3 1004.0 L809.3 1010.7 L821.3 1012.0 L828.0 1016.0 L822.7 1028.0 L817.3 1034.7 L813.3 1046.7 L809.3 1060.0 L808.0 1078.7 L820.0 1080.0 L828.0 1078.7 L837.3 1073.3 L846.7 1074.7 L857.3 1076.0 L868.0 1081.3 L876.0 1085.3 L881.3 1080.0 L889.3 1085.3 M756.0 957.3 L762.7 956.0 L765.3 966.7 L776.0 974.7 L772.0 989.3 M782.0 1080.0 L788.0 1096.0 L778.0 1112.0 L764.0 1128.0 L762.0 1138.0 L770.0 1144.0 L784.0 1140.0 L792.0 1158.0 L820.0 1154.0 L834.0 1136.0 L848.0 1150.0 L854.0 1160.0 L864.0 1146.0 L880.0 1142.0 L890.0 1128.0 L896.0 1120.0 L888.0 1112.0 L880.0 1106.0 L878.0 1094.0 L880.0 1086.0 L872.0 1082.0 M784.0 1140.0 L786.0 1152.0 L796.0 1176.0 L782.0 1190.0 L792.0 1208.0 L788.0 1224.0 L800.0 1232.0 L812.0 1244.0 L810.0 1250.0 M291.0 1332.0 L312.0 1323.0 L316.0 1334.0 L340.0 1335.0 L366.0 1342.0 L374.0 1348.0 L362.0 1362.0 L354.0 1370.0 L358.0 1392.0 L350.0 1404.0 L352.0 1416.0 L334.0 1427.0 L344.0 1446.0 L350.0 1450.0 L340.0 1464.0 L351.0 1491.0 L342.0 1494.0 L334.0 1510.0 L337.0 1526.0 M528.0 1268.0 L524.0 1280.0 L540.0 1286.0 L560.0 1294.0 L572.0 1298.0 L590.0 1294.0 L616.0 1300.0 L628.0 1312.0 L640.0 1310.0 L656.0 1310.0 L669.0 1308.0 M343.3 701.3 L336.0 710.7 L326.7 720.0 L320.7 722.7 L325.3 726.0 L313.3 734.7 L322.7 746.7 L338.7 752.7 L346.7 742.7 L354.7 742.7 L360.0 754.7 L369.3 754.0 L377.3 760.0 M1066.7 1200.0 L1073.3 1212.0 L1080.0 1222.7 L1081.3 1233.3 L1092.0 1242.7 L1101.3 1254.7 L1110.7 1264.0 L1116.0 1273.3 L1125.3 1281.3 L1136.0 1290.7 M1018.7 1174.7 L1026.7 1176.0 L1032.0 1169.3 L1040.0 1177.3 L1052.0 1178.7 L1053.3 1168.0 L1061.3 1160.0 L1053.3 1156.0 L1048.0 1148.0 L1053.3 1142.7 L1061.3 1140.0 M1066.7 1190.7 L1077.3 1188.0 L1085.3 1196.0 L1092.0 1189.3 L1104.0 1186.7 L1114.7 1190.7 L1128.0 1193.3 L1141.3 1194.7 L1160.0 1193.3 L1178.0 1178.0 L1182.0 1188.0 L1172.0 1200.0 L1180.0 1208.0 L1174.0 1220.0 L1178.0 1232.0 M997.3 1176.0 L1006.7 1177.3 L1018.7 1174.7 M1000.0 1164.0 L1002.7 1153.3 L997.3 1148.0 L1002.7 1142.7 L1000.0 1140.0 M1284.0 1353.3 L1293.3 1357.3 L1306.7 1354.7 L1320.0 1349.3 L1332.0 1346.7 L1345.3 1349.3 L1352.0 1354.7 L1365.3 1356.0 L1373.3 1360.0 L1386.7 1357.3 L1397.3 1352.0 L1400.0 1344.0 L1400.0 1336.0 L1408.0 1330.7 L1422.7 1325.3 L1434.7 1325.3 L1440.0 1330.7 L1448.0 1329.3 M1400.0 1336.0 L1393.3 1342.7 L1396.0 1352.0 L1406.7 1354.7 L1409.3 1346.7 L1402.7 1362.7 L1400.0 1372.0 L1394.7 1385.3 M1214.7 1342.7 L1218.7 1357.3 L1222.7 1372.0 L1240.0 1376.0 L1253.3 1373.3 L1260.0 1368.0 L1266.7 1362.7 L1284.0 1353.3 M1180.0 1320.0 L1190.7 1304.0 L1196.0 1308.0 L1196.0 1308.0 L1204.0 1305.3 L1209.3 1313.3 L1217.3 1320.0 L1220.0 1333.3 L1214.7 1342.7 M1160.0 1204.0 L1168.0 1200.0 L1174.7 1204.0 L1181.3 1200.0 L1176.0 1189.3 L1182.7 1186.7 L1173.3 1176.0 L1168.0 1172.0 M722.0 343.3 L733.3 340.0 L744.0 342.7 L756.0 338.7 L769.3 340.0 L774.7 342.7 L780.0 336.0 L786.7 337.3 L792.0 341.3 L794.7 354.7 M740.0 286.7 L753.3 290.7 L764.0 292.0 L774.7 293.3 M757.3 270.7 L762.7 274.7 L770.7 277.3 M817.3 208.0 L820.0 214.7 L828.0 221.3 L833.3 226.7 L840.0 234.7 M826.7 213.3 L833.3 217.3 L838.7 214.7 M762.7 386.7 L774.7 382.7 L782.7 378.7 L790.7 374.7 L793.3 380.0 M778.7 382.7 L777.3 392.0 L776.0 404.0 M733.3 322.7 L742.7 320.0 L746.7 323.3 L780.0 321.3 L778.7 328.0 L776.0 332.0 L785.3 334.7 M788.0 258.7 L796.0 261.3 L802.7 264.0 L801.3 320.0 L808.0 317.3 M864.0 592.0 L874.7 589.3 L885.3 588.0 L890.7 591.3 L896.0 593.3 M862.0 766.0 L866.0 774.0 L872.0 780.0 L878.0 783.0 M1557.0 200.0 L1566.0 220.0 L1558.0 238.0 M842.0 1535.5 L843.0 1540.0 L838.0 1544.0 L834.0 1549.0 L828.5 1551.5 L834.5 1555.0 L833.0 1563.0 L830.5 1577.0 L833.5 1585.0 L832.5 1599.0 M1556.0 808.0 L1568.0 802.0 L1580.0 808.0 L1592.0 802.0 L1602.0 794.0 M1556.0 808.0 L1560.0 820.0 L1566.0 826.0 L1564.0 836.0 L1568.0 848.0 L1570.0 856.0 M1562.0 634.0 L1564.0 624.0 L1560.0 618.0" fill="none" stroke="#000" stroke-width="0.9" stroke-linejoin="round"/>
<text x="303.0" y="277.0" font-size="19" font-weight="bold" font-style="normal" fill="#111" textLength="98.0" lengthAdjust="spacingAndGlyphs">FAROE IS.</text>
<text x="819.0" y="402.0" font-size="19" font-weight="bold" font-style="normal" fill="#111" textLength="93.0" lengthAdjust="spacingAndGlyphs">NORWAY</text>
<text x="980.0" y="428.4" font-size="19" font-weight="bold" font-style="normal" fill="#111" textLength="90.0" lengthAdjust="spacingAndGlyphs">SWEDEN</text>
<text x="1298.0" y="354.0" font-size="19" font-weight="bold" font-style="normal" fill="#111" textLength="90.6" lengthAdjust="spacingAndGlyphs">FINLAND</text>
<text x="1340.0" y="499.0" font-size="19" font-weight="bold" font-style="normal" fill="#111" textLength="95.0" lengthAdjust="spacingAndGlyphs">ESTONIA</text>
<text x="1535.0" y="462.0" font-size="17.5" font-weight="bold" font-style="normal" fill="#111" textLength="120.0" lengthAdjust="spacingAndGlyphs">Northwestern</text>
<text x="1551.0" y="493.0" font-size="17.5" font-weight="bold" font-style="normal" fill="#111" textLength="64.0" lengthAdjust="spacingAndGlyphs">District</text>
<text x="281.0" y="822.0" font-size="19" font-weight="bold" font-style="normal" fill="#111" textLength="90.0" lengthAdjust="spacingAndGlyphs">IRELAND</text>
<text x="498.0" y="854.0" font-size="24" font-weight="bold" font-style="normal" fill="#000" textLength="95.0" lengthAdjust="spacingAndGlyphs">England</text>
<text x="663.0" y="662.6" font-size="20" font-weight="normal" font-style="italic" fill="#1455ea" stroke="#1455ea" stroke-width="0.8" textLength="57.0" lengthAdjust="spacingAndGlyphs">North</text>
<text x="674.4" y="691.6" font-size="20" font-weight="normal" font-style="italic" fill="#1455ea" stroke="#1455ea" stroke-width="0.8" textLength="34.6" lengthAdjust="spacingAndGlyphs">Sea</text>
<text x="842.0" y="647.0" font-size="19" font-weight="bold" font-style="normal" fill="#111" textLength="48.0" lengthAdjust="spacingAndGlyphs">DEN.</text>
<text x="734.0" y="866.0" font-size="19" font-weight="bold" font-style="normal" fill="#111" textLength="60.0" lengthAdjust="spacingAndGlyphs">NETH.</text>
<text x="856.0" y="893.6" font-size="19" font-weight="bold" font-style="normal" fill="#111" textLength="105.0" lengthAdjust="spacingAndGlyphs">GERMANY</text>
<text x="689.6" y="931.0" font-size="19" font-weight="bold" font-style="normal" fill="#111" textLength="42.4" lengthAdjust="spacingAndGlyphs">BEL.</text>
<text x="1137.0" y="637.6" font-size="20" font-weight="normal" font-style="italic" fill="#1455ea" stroke="#1455ea" stroke-width="0.8" textLength="55.0" lengthAdjust="spacingAndGlyphs">Baltic</text>
<text x="1147.0" y="666.4" font-size="20" font-weight="normal" font-style="italic" fill="#1455ea" stroke="#1455ea" stroke-width="0.8" textLength="34.0" lengthAdjust="spacingAndGlyphs">Sea</text>
<text x="1230.0" y="728.0" font-size="24" font-weight="bold" font-style="normal" fill="#000" textLength="43.0" lengthAdjust="spacingAndGlyphs">Kal.</text>
<text x="1147.0" y="865.6" font-size="19" font-weight="bold" font-style="normal" fill="#111" textLength="86.0" lengthAdjust="spacingAndGlyphs">POLAND</text>
<text x="1344.0" y="603.6" font-size="19" font-weight="bold" font-style="normal" fill="#111" textLength="73.6" lengthAdjust="spacingAndGlyphs">LATVIA</text>
<text x="1278.0" y="687.4" font-size="19" font-weight="bold" font-style="normal" fill="#111" textLength="113.0" lengthAdjust="spacingAndGlyphs">LITHUANIA</text>
<text x="1432.0" y="786.0" font-size="19" font-weight="bold" font-style="normal" fill="#111" textLength="95.0" lengthAdjust="spacingAndGlyphs">BELARUS</text>
<text x="275.0" y="1085.0" font-size="20" font-weight="normal" font-style="italic" fill="#1455ea" stroke="#1455ea" stroke-width="0.8" textLength="98.6" lengthAdjust="spacingAndGlyphs">ATLANTIC</text>
<text x="290.0" y="1113.6" font-size="20" font-weight="normal" font-style="italic" fill="#1455ea" stroke="#1455ea" stroke-width="0.8" textLength="68.4" lengthAdjust="spacingAndGlyphs">OCEAN</text>
<text x="597.0" y="1096.0" font-size="19" font-weight="bold" font-style="normal" fill="#111" textLength="81.0" lengthAdjust="spacingAndGlyphs">FRANCE</text>
<text x="795.0" y="1124.0" font-size="19" font-weight="bold" font-style="normal" fill="#111" textLength="70.0" lengthAdjust="spacingAndGlyphs">SWITZ.</text>
<text x="993.0" y="975.6" font-size="19" font-weight="bold" font-style="normal" fill="#111" textLength="87.0" lengthAdjust="spacingAndGlyphs">CZECHIA</text>
<text x="1162.0" y="1024.4" font-size="19" font-weight="bold" font-style="normal" fill="#111" textLength="88.0" lengthAdjust="spacingAndGlyphs">SLOVAK.</text>
<text x="1014.0" y="1090.0" font-size="19" font-weight="bold" font-style="normal" fill="#111" textLength="47.0" lengthAdjust="spacingAndGlyphs">AUS.</text>
<text x="1150.0" y="1109.0" font-size="19" font-weight="bold" font-style="normal" fill="#111" textLength="66.0" lengthAdjust="spacingAndGlyphs">HUNG.</text>
<text x="1004.0" y="1156.0" font-size="19" font-weight="bold" font-style="normal" fill="#111" textLength="57.0" lengthAdjust="spacingAndGlyphs">SLOV.</text>
<text x="1079.0" y="1181.4" font-size="19" font-weight="bold" font-style="normal" fill="#111" textLength="48.0" lengthAdjust="spacingAndGlyphs">CRO.</text>
<text x="1089.6" y="1222.0" font-size="19" font-weight="bold" font-style="normal" fill="#111" textLength="79.4" lengthAdjust="spacingAndGlyphs">BOSNIA</text>
<text x="1193.0" y="1275.6" font-size="19" font-weight="bold" font-style="normal" fill="#111" textLength="73.0" lengthAdjust="spacingAndGlyphs">SERBIA</text>
<text x="1513.0" y="1015.6" font-size="19" font-weight="bold" font-style="normal" fill="#111" textLength="92.0" lengthAdjust="spacingAndGlyphs">UKRAINE</text>
<text x="1438.0" y="1080.6" font-size="19" font-weight="bold" font-style="normal" fill="#111" textLength="52.0" lengthAdjust="spacingAndGlyphs">MOL.</text>
<text x="1306.0" y="1172.4" font-size="19" font-weight="bold" font-style="normal" fill="#111" textLength="104.0" lengthAdjust="spacingAndGlyphs">ROMANIA</text>
<text x="1586.0" y="1246.0" font-size="20" font-weight="normal" font-style="italic" fill="#1455ea" stroke="#1455ea" stroke-width="0.8" textLength="54.0" lengthAdjust="spacingAndGlyphs">Black</text>
<text x="285.0" y="1447.6" font-size="19" font-weight="bold" font-style="normal" fill="#111" textLength="59.0" lengthAdjust="spacingAndGlyphs">PORT.</text>
<text x="434.0" y="1400.6" font-size="19" font-weight="bold" font-style="normal" fill="#111" textLength="61.0" lengthAdjust="spacingAndGlyphs">SPAIN</text>
<text x="641.0" y="1497.6" font-size="20" font-weight="normal" font-style="italic" fill="#1455ea" stroke="#1455ea" stroke-width="0.8" textLength="189.4" lengthAdjust="spacingAndGlyphs">Mediterranean Sea</text>
<text x="940.0" y="1301.0" font-size="19" font-weight="bold" font-style="normal" fill="#111" textLength="54.0" lengthAdjust="spacingAndGlyphs">ITALY</text>
<text x="990.0" y="1584.0" font-size="19" font-weight="bold" font-style="normal" fill="#111" textLength="72.4" lengthAdjust="spacingAndGlyphs">MALTA</text>
<text x="1180.0" y="1386.6" font-size="19" font-weight="bold" font-style="normal" fill="#111" textLength="45.0" lengthAdjust="spacingAndGlyphs">ALB.</text>
<text x="1222.0" y="1352.4" font-size="19" font-weight="bold" font-style="normal" fill="#111" textLength="63.0" lengthAdjust="spacingAndGlyphs">MACE.</text>
<text x="1225.0" y="1448.0" font-size="19" font-weight="bold" font-style="normal" fill="#111" textLength="80.0" lengthAdjust="spacingAndGlyphs">GREECE</text>
<text x="1337.0" y="1301.0" font-size="19" font-weight="bold" font-style="normal" fill="#111" textLength="59.0" lengthAdjust="spacingAndGlyphs">BULG.</text>
</g>
<rect x="200" y="200" width="1400.5" height="1400.5" fill="none" stroke="#000" stroke-width="2.4"/>
<text x="900" y="50" font-size="41.5" text-anchor="middle" fill="#000">EUROPE</text>
<text x="900" y="110" font-size="41.5" text-anchor="middle" fill="#000">Temperature Anomaly (C)</text>
<text x="900" y="170" font-size="41.5" text-anchor="middle" fill="#000">November 14 - 20, 2021</text>
<rect x="1618.5" y="253.5" width="38" height="142.5" fill="#ff0000" stroke="#555" stroke-width="1"/>
<rect x="1618.5" y="403.5" width="38" height="142.5" fill="#ff5555" stroke="#555" stroke-width="1"/>
<rect x="1618.5" y="553.5" width="38" height="142.5" fill="#ffaaaa" stroke="#555" stroke-width="1"/>
<rect x="1618.5" y="703.5" width="38" height="142.5" fill="#ffd9d9" stroke="#555" stroke-width="1"/>
<rect x="1618.5" y="853.5" width="38" height="142.5" fill="#ffffff" stroke="#555" stroke-width="1"/>
<rect x="1618.5" y="1003.5" width="38" height="142.5" fill="#ccffff" stroke="#555" stroke-width="1"/>
<rect x="1618.5" y="1153.5" width="38" height="142.5" fill="#66ffff" stroke="#555" stroke-width="1"/>
<rect x="1618.5" y="1303.5" width="38" height="142.5" fill="#55aaff" stroke="#555" stroke-width="1"/>
<rect x="1618.5" y="1453.5" width="38" height="142.5" fill="#0080ff" stroke="#555" stroke-width="1"/>
<text x="1678.0" y="417" font-size="43" fill="#000" textLength="51" lengthAdjust="spacingAndGlyphs">+7</text>
<text x="1678.0" y="567" font-size="43" fill="#000" textLength="51" lengthAdjust="spacingAndGlyphs">+5</text>
<text x="1678.0" y="717" font-size="43" fill="#000" textLength="51" lengthAdjust="spacingAndGlyphs">+3</text>
<text x="1678.0" y="867" font-size="43" fill="#000" textLength="51" lengthAdjust="spacingAndGlyphs">+1</text>
<text x="1686.0" y="1017" font-size="43" fill="#000" textLength="34" lengthAdjust="spacingAndGlyphs">-1</text>
<text x="1686.0" y="1167" font-size="43" fill="#000" textLength="34" lengthAdjust="spacingAndGlyphs">-3</text>
<text x="1686.0" y="1317" font-size="43" fill="#000" textLength="34" lengthAdjust="spacingAndGlyphs">-5</text>
<text x="1686.0" y="1467" font-size="43" fill="#000" textLength="34" lengthAdjust="spacingAndGlyphs">-7</text>
<text x="1180" y="1659.6" font-size="22.2" fill="#111">CLIMATE PREDICTION CENTER, NOAA</text>
<text x="1180" y="1685.6" font-size="22.2" fill="#111">Computer generated contours</text>
<text x="1180" y="1711.2" font-size="22.2" fill="#111">Based on preliminary data</text>
<defs><clipPath id="lg"><circle cx="1699.2" cy="1700.0" r="66.7"/></clipPath><path id="lgt" d="M1631.56 1721.59 A71.00 71.00 0 1 1 1766.33 1723.12"/><path id="lgb" d="M1629.29 1735.93 A78.60 78.60 0 0 0 1770.26 1733.59"/></defs>
<g clip-path="url(#lg)"><rect x="1620" y="1620" width="160" height="160" fill="#0096ff"/><path d="M1625.0 1678.0 L1635.0 1681.5 L1643.0 1684.0 L1655.0 1696.0 L1666.0 1706.0 L1680.0 1713.0 L1697.0 1716.0 L1690.0 1720.0 L1680.0 1724.0 L1679.0 1726.5 L1690.0 1726.0 L1700.0 1722.0 L1714.0 1716.0 L1729.0 1715.0 L1729.0 1712.0 L1716.0 1711.0 L1723.0 1708.0 L1735.0 1700.0 L1750.0 1684.0 L1760.0 1670.0 L1775.0 1664.0 L1775.0 1620.0 L1625.0 1620.0Z" fill="#fff"/><path d="M1640.0 1657.0 L1646.0 1660.0 L1666.0 1674.0 L1684.0 1695.0 L1694.0 1707.0 L1702.0 1711.5 L1710.0 1710.0 L1715.0 1706.0 L1728.0 1686.0 L1740.0 1670.0 L1751.0 1658.0 L1758.0 1655.0 L1758.0 1620.0 L1640.0 1620.0Z" fill="#0a1ca8"/></g>
<text x="1671" y="1676" font-size="23.5" font-weight="bold" fill="#fff" textLength="55.5" lengthAdjust="spacingAndGlyphs">NOAA</text>
<text font-size="9" font-weight="bold" fill="#33334f" textLength="268.5" lengthAdjust="spacing"><textPath href="#lgt" textLength="268.5" lengthAdjust="spacing">NATIONAL OCEANIC AND ATMOSPHERIC ADMINISTRATION</textPath></text>
<text font-size="9" font-weight="bold" fill="#33334f" textLength="174.9" lengthAdjust="spacing"><textPath href="#lgb" textLength="174.9" lengthAdjust="spacing">U.S. DEPARTMENT OF COMMERCE</textPath></text>
</svg></body></html>
